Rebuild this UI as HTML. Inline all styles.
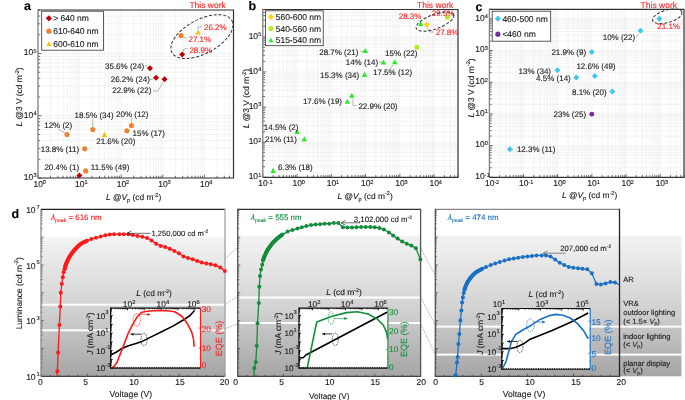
<!DOCTYPE html>
<html><head><meta charset="utf-8"><style>
html,body{margin:0;padding:0;background:#fff;width:685px;height:400px;overflow:hidden}
svg{display:block;will-change:transform}
text{font-family:"Liberation Sans",sans-serif;text-rendering:geometricPrecision;stroke-width:0.12px}
</style></head><body>
<svg width="685" height="400" viewBox="0 0 685 400">
<defs>
<linearGradient id="gg" x1="0" y1="0" x2="0" y2="1"><stop offset="0" stop-color="#f3f3f3"/><stop offset="0.5" stop-color="#d3d3d3"/><stop offset="1" stop-color="#a5a5a5"/></linearGradient>
</defs>
<rect x="41" y="237.5" width="184" height="138.8" fill="url(#gg)"/>
<rect x="41" y="303.7" width="184" height="2" fill="#fff"/>
<rect x="41" y="329.3" width="184" height="2" fill="#fff"/>
<rect x="237.7" y="235.7" width="182.9" height="140.6" fill="url(#gg)"/>
<rect x="237.7" y="296.5" width="182.9" height="2" fill="#fff"/>
<rect x="237.7" y="322" width="182.9" height="2" fill="#fff"/>
<rect x="435.3" y="235.7" width="246.2" height="140.6" fill="url(#gg)"/>
<rect x="435.3" y="325.6" width="246.2" height="2" fill="#fff"/>
<rect x="435.3" y="353.6" width="246.2" height="2" fill="#fff"/>
<line x1="225" y1="258.8" x2="237.7" y2="247.2" stroke="#777" stroke-width="0.6" stroke-dasharray="1.6 1.2"/>
<line x1="225" y1="304.5" x2="237.7" y2="296.3" stroke="#777" stroke-width="0.6" stroke-dasharray="1.6 1.2"/>
<line x1="225" y1="328.8" x2="237.7" y2="323.8" stroke="#777" stroke-width="0.6" stroke-dasharray="1.6 1.2"/>
<line x1="420.6" y1="248.1" x2="435.3" y2="275.1" stroke="#777" stroke-width="0.6" stroke-dasharray="1.6 1.2"/>
<line x1="420.6" y1="296.8" x2="435.3" y2="325.1" stroke="#777" stroke-width="0.6" stroke-dasharray="1.6 1.2"/>
<line x1="420.6" y1="323.8" x2="435.3" y2="354.3" stroke="#777" stroke-width="0.6" stroke-dasharray="1.6 1.2"/>
<line x1="38" y1="10" x2="38" y2="178" stroke="#ededed" stroke-width="0.6"/>
<line x1="50.52" y1="10" x2="50.52" y2="178" stroke="#ededed" stroke-width="0.6"/>
<line x1="57.85" y1="10" x2="57.85" y2="178" stroke="#ededed" stroke-width="0.6"/>
<line x1="63.05" y1="10" x2="63.05" y2="178" stroke="#ededed" stroke-width="0.6"/>
<line x1="67.08" y1="10" x2="67.08" y2="178" stroke="#ededed" stroke-width="0.6"/>
<line x1="70.37" y1="10" x2="70.37" y2="178" stroke="#ededed" stroke-width="0.6"/>
<line x1="73.16" y1="10" x2="73.16" y2="178" stroke="#ededed" stroke-width="0.6"/>
<line x1="75.57" y1="10" x2="75.57" y2="178" stroke="#ededed" stroke-width="0.6"/>
<line x1="77.7" y1="10" x2="77.7" y2="178" stroke="#ededed" stroke-width="0.6"/>
<line x1="79.6" y1="10" x2="79.6" y2="178" stroke="#ededed" stroke-width="0.6"/>
<line x1="92.13" y1="10" x2="92.13" y2="178" stroke="#ededed" stroke-width="0.6"/>
<line x1="99.46" y1="10" x2="99.46" y2="178" stroke="#ededed" stroke-width="0.6"/>
<line x1="104.65" y1="10" x2="104.65" y2="178" stroke="#ededed" stroke-width="0.6"/>
<line x1="108.69" y1="10" x2="108.69" y2="178" stroke="#ededed" stroke-width="0.6"/>
<line x1="111.98" y1="10" x2="111.98" y2="178" stroke="#ededed" stroke-width="0.6"/>
<line x1="114.77" y1="10" x2="114.77" y2="178" stroke="#ededed" stroke-width="0.6"/>
<line x1="117.18" y1="10" x2="117.18" y2="178" stroke="#ededed" stroke-width="0.6"/>
<line x1="119.31" y1="10" x2="119.31" y2="178" stroke="#ededed" stroke-width="0.6"/>
<line x1="121.21" y1="10" x2="121.21" y2="178" stroke="#ededed" stroke-width="0.6"/>
<line x1="133.73" y1="10" x2="133.73" y2="178" stroke="#ededed" stroke-width="0.6"/>
<line x1="141.06" y1="10" x2="141.06" y2="178" stroke="#ededed" stroke-width="0.6"/>
<line x1="146.26" y1="10" x2="146.26" y2="178" stroke="#ededed" stroke-width="0.6"/>
<line x1="150.29" y1="10" x2="150.29" y2="178" stroke="#ededed" stroke-width="0.6"/>
<line x1="153.58" y1="10" x2="153.58" y2="178" stroke="#ededed" stroke-width="0.6"/>
<line x1="156.37" y1="10" x2="156.37" y2="178" stroke="#ededed" stroke-width="0.6"/>
<line x1="158.78" y1="10" x2="158.78" y2="178" stroke="#ededed" stroke-width="0.6"/>
<line x1="160.91" y1="10" x2="160.91" y2="178" stroke="#ededed" stroke-width="0.6"/>
<line x1="162.81" y1="10" x2="162.81" y2="178" stroke="#ededed" stroke-width="0.6"/>
<line x1="175.34" y1="10" x2="175.34" y2="178" stroke="#ededed" stroke-width="0.6"/>
<line x1="182.67" y1="10" x2="182.67" y2="178" stroke="#ededed" stroke-width="0.6"/>
<line x1="187.86" y1="10" x2="187.86" y2="178" stroke="#ededed" stroke-width="0.6"/>
<line x1="191.9" y1="10" x2="191.9" y2="178" stroke="#ededed" stroke-width="0.6"/>
<line x1="195.19" y1="10" x2="195.19" y2="178" stroke="#ededed" stroke-width="0.6"/>
<line x1="197.97" y1="10" x2="197.97" y2="178" stroke="#ededed" stroke-width="0.6"/>
<line x1="200.39" y1="10" x2="200.39" y2="178" stroke="#ededed" stroke-width="0.6"/>
<line x1="202.52" y1="10" x2="202.52" y2="178" stroke="#ededed" stroke-width="0.6"/>
<line x1="204.42" y1="10" x2="204.42" y2="178" stroke="#ededed" stroke-width="0.6"/>
<line x1="216.94" y1="10" x2="216.94" y2="178" stroke="#ededed" stroke-width="0.6"/>
<line x1="224.27" y1="10" x2="224.27" y2="178" stroke="#ededed" stroke-width="0.6"/>
<line x1="229.47" y1="10" x2="229.47" y2="178" stroke="#ededed" stroke-width="0.6"/>
<line x1="233.5" y1="10" x2="233.5" y2="178" stroke="#ededed" stroke-width="0.6"/>
<line x1="38" y1="178" x2="233.5" y2="178" stroke="#ededed" stroke-width="0.6"/>
<line x1="38" y1="159.26" x2="233.5" y2="159.26" stroke="#ededed" stroke-width="0.6"/>
<line x1="38" y1="148.3" x2="233.5" y2="148.3" stroke="#ededed" stroke-width="0.6"/>
<line x1="38" y1="140.52" x2="233.5" y2="140.52" stroke="#ededed" stroke-width="0.6"/>
<line x1="38" y1="134.49" x2="233.5" y2="134.49" stroke="#ededed" stroke-width="0.6"/>
<line x1="38" y1="129.56" x2="233.5" y2="129.56" stroke="#ededed" stroke-width="0.6"/>
<line x1="38" y1="125.4" x2="233.5" y2="125.4" stroke="#ededed" stroke-width="0.6"/>
<line x1="38" y1="121.79" x2="233.5" y2="121.79" stroke="#ededed" stroke-width="0.6"/>
<line x1="38" y1="118.6" x2="233.5" y2="118.6" stroke="#ededed" stroke-width="0.6"/>
<line x1="38" y1="115.75" x2="233.5" y2="115.75" stroke="#ededed" stroke-width="0.6"/>
<line x1="38" y1="97.02" x2="233.5" y2="97.02" stroke="#ededed" stroke-width="0.6"/>
<line x1="38" y1="86.06" x2="233.5" y2="86.06" stroke="#ededed" stroke-width="0.6"/>
<line x1="38" y1="78.28" x2="233.5" y2="78.28" stroke="#ededed" stroke-width="0.6"/>
<line x1="38" y1="72.25" x2="233.5" y2="72.25" stroke="#ededed" stroke-width="0.6"/>
<line x1="38" y1="67.32" x2="233.5" y2="67.32" stroke="#ededed" stroke-width="0.6"/>
<line x1="38" y1="63.15" x2="233.5" y2="63.15" stroke="#ededed" stroke-width="0.6"/>
<line x1="38" y1="59.54" x2="233.5" y2="59.54" stroke="#ededed" stroke-width="0.6"/>
<line x1="38" y1="56.36" x2="233.5" y2="56.36" stroke="#ededed" stroke-width="0.6"/>
<line x1="38" y1="53.51" x2="233.5" y2="53.51" stroke="#ededed" stroke-width="0.6"/>
<line x1="38" y1="34.77" x2="233.5" y2="34.77" stroke="#ededed" stroke-width="0.6"/>
<line x1="38" y1="23.81" x2="233.5" y2="23.81" stroke="#ededed" stroke-width="0.6"/>
<line x1="38" y1="16.03" x2="233.5" y2="16.03" stroke="#ededed" stroke-width="0.6"/>
<line x1="38" y1="10" x2="233.5" y2="10" stroke="#ededed" stroke-width="0.6"/>
<line x1="38" y1="178" x2="38" y2="174.6" stroke="#333" stroke-width="0.7"/>
<line x1="50.52" y1="178" x2="50.52" y2="175.8" stroke="#333" stroke-width="0.7"/>
<line x1="57.85" y1="178" x2="57.85" y2="175.8" stroke="#333" stroke-width="0.7"/>
<line x1="63.05" y1="178" x2="63.05" y2="175.8" stroke="#333" stroke-width="0.7"/>
<line x1="67.08" y1="178" x2="67.08" y2="175.8" stroke="#333" stroke-width="0.7"/>
<line x1="70.37" y1="178" x2="70.37" y2="175.8" stroke="#333" stroke-width="0.7"/>
<line x1="73.16" y1="178" x2="73.16" y2="175.8" stroke="#333" stroke-width="0.7"/>
<line x1="75.57" y1="178" x2="75.57" y2="175.8" stroke="#333" stroke-width="0.7"/>
<line x1="77.7" y1="178" x2="77.7" y2="175.8" stroke="#333" stroke-width="0.7"/>
<line x1="79.6" y1="178" x2="79.6" y2="174.6" stroke="#333" stroke-width="0.7"/>
<line x1="92.13" y1="178" x2="92.13" y2="175.8" stroke="#333" stroke-width="0.7"/>
<line x1="99.46" y1="178" x2="99.46" y2="175.8" stroke="#333" stroke-width="0.7"/>
<line x1="104.65" y1="178" x2="104.65" y2="175.8" stroke="#333" stroke-width="0.7"/>
<line x1="108.69" y1="178" x2="108.69" y2="175.8" stroke="#333" stroke-width="0.7"/>
<line x1="111.98" y1="178" x2="111.98" y2="175.8" stroke="#333" stroke-width="0.7"/>
<line x1="114.77" y1="178" x2="114.77" y2="175.8" stroke="#333" stroke-width="0.7"/>
<line x1="117.18" y1="178" x2="117.18" y2="175.8" stroke="#333" stroke-width="0.7"/>
<line x1="119.31" y1="178" x2="119.31" y2="175.8" stroke="#333" stroke-width="0.7"/>
<line x1="121.21" y1="178" x2="121.21" y2="174.6" stroke="#333" stroke-width="0.7"/>
<line x1="133.73" y1="178" x2="133.73" y2="175.8" stroke="#333" stroke-width="0.7"/>
<line x1="141.06" y1="178" x2="141.06" y2="175.8" stroke="#333" stroke-width="0.7"/>
<line x1="146.26" y1="178" x2="146.26" y2="175.8" stroke="#333" stroke-width="0.7"/>
<line x1="150.29" y1="178" x2="150.29" y2="175.8" stroke="#333" stroke-width="0.7"/>
<line x1="153.58" y1="178" x2="153.58" y2="175.8" stroke="#333" stroke-width="0.7"/>
<line x1="156.37" y1="178" x2="156.37" y2="175.8" stroke="#333" stroke-width="0.7"/>
<line x1="158.78" y1="178" x2="158.78" y2="175.8" stroke="#333" stroke-width="0.7"/>
<line x1="160.91" y1="178" x2="160.91" y2="175.8" stroke="#333" stroke-width="0.7"/>
<line x1="162.81" y1="178" x2="162.81" y2="174.6" stroke="#333" stroke-width="0.7"/>
<line x1="175.34" y1="178" x2="175.34" y2="175.8" stroke="#333" stroke-width="0.7"/>
<line x1="182.67" y1="178" x2="182.67" y2="175.8" stroke="#333" stroke-width="0.7"/>
<line x1="187.86" y1="178" x2="187.86" y2="175.8" stroke="#333" stroke-width="0.7"/>
<line x1="191.9" y1="178" x2="191.9" y2="175.8" stroke="#333" stroke-width="0.7"/>
<line x1="195.19" y1="178" x2="195.19" y2="175.8" stroke="#333" stroke-width="0.7"/>
<line x1="197.97" y1="178" x2="197.97" y2="175.8" stroke="#333" stroke-width="0.7"/>
<line x1="200.39" y1="178" x2="200.39" y2="175.8" stroke="#333" stroke-width="0.7"/>
<line x1="202.52" y1="178" x2="202.52" y2="175.8" stroke="#333" stroke-width="0.7"/>
<line x1="204.42" y1="178" x2="204.42" y2="174.6" stroke="#333" stroke-width="0.7"/>
<line x1="216.94" y1="178" x2="216.94" y2="175.8" stroke="#333" stroke-width="0.7"/>
<line x1="224.27" y1="178" x2="224.27" y2="175.8" stroke="#333" stroke-width="0.7"/>
<line x1="229.47" y1="178" x2="229.47" y2="175.8" stroke="#333" stroke-width="0.7"/>
<line x1="233.5" y1="178" x2="233.5" y2="175.8" stroke="#333" stroke-width="0.7"/>
<line x1="38" y1="178" x2="41.4" y2="178" stroke="#333" stroke-width="0.7"/>
<line x1="38" y1="159.26" x2="40.2" y2="159.26" stroke="#333" stroke-width="0.7"/>
<line x1="38" y1="148.3" x2="40.2" y2="148.3" stroke="#333" stroke-width="0.7"/>
<line x1="38" y1="140.52" x2="40.2" y2="140.52" stroke="#333" stroke-width="0.7"/>
<line x1="38" y1="134.49" x2="40.2" y2="134.49" stroke="#333" stroke-width="0.7"/>
<line x1="38" y1="129.56" x2="40.2" y2="129.56" stroke="#333" stroke-width="0.7"/>
<line x1="38" y1="125.4" x2="40.2" y2="125.4" stroke="#333" stroke-width="0.7"/>
<line x1="38" y1="121.79" x2="40.2" y2="121.79" stroke="#333" stroke-width="0.7"/>
<line x1="38" y1="118.6" x2="40.2" y2="118.6" stroke="#333" stroke-width="0.7"/>
<line x1="38" y1="115.75" x2="41.4" y2="115.75" stroke="#333" stroke-width="0.7"/>
<line x1="38" y1="97.02" x2="40.2" y2="97.02" stroke="#333" stroke-width="0.7"/>
<line x1="38" y1="86.06" x2="40.2" y2="86.06" stroke="#333" stroke-width="0.7"/>
<line x1="38" y1="78.28" x2="40.2" y2="78.28" stroke="#333" stroke-width="0.7"/>
<line x1="38" y1="72.25" x2="40.2" y2="72.25" stroke="#333" stroke-width="0.7"/>
<line x1="38" y1="67.32" x2="40.2" y2="67.32" stroke="#333" stroke-width="0.7"/>
<line x1="38" y1="63.15" x2="40.2" y2="63.15" stroke="#333" stroke-width="0.7"/>
<line x1="38" y1="59.54" x2="40.2" y2="59.54" stroke="#333" stroke-width="0.7"/>
<line x1="38" y1="56.36" x2="40.2" y2="56.36" stroke="#333" stroke-width="0.7"/>
<line x1="38" y1="53.51" x2="41.4" y2="53.51" stroke="#333" stroke-width="0.7"/>
<line x1="38" y1="34.77" x2="40.2" y2="34.77" stroke="#333" stroke-width="0.7"/>
<line x1="38" y1="23.81" x2="40.2" y2="23.81" stroke="#333" stroke-width="0.7"/>
<line x1="38" y1="16.03" x2="40.2" y2="16.03" stroke="#333" stroke-width="0.7"/>
<line x1="38" y1="10" x2="40.2" y2="10" stroke="#333" stroke-width="0.7"/>
<path d="M38 178H233.5V10H38" fill="none" stroke="#333" stroke-width="1.2"/>
<line x1="38" y1="9.4" x2="38" y2="178.6" stroke="#808080" stroke-width="1.3"/>
<text x="38.25" y="186.8" font-size="8.5" text-anchor="middle" fill="#1a1a1a"  stroke="#1a1a1a">10</text>
<text x="42.8" y="184.3" font-size="5.6" text-anchor="start" fill="#1a1a1a"  stroke="#1a1a1a">0</text>
<text x="79.85" y="186.8" font-size="8.5" text-anchor="middle" fill="#1a1a1a"  stroke="#1a1a1a">10</text>
<text x="84.4" y="184.3" font-size="5.6" text-anchor="start" fill="#1a1a1a"  stroke="#1a1a1a">1</text>
<text x="121.46" y="186.8" font-size="8.5" text-anchor="middle" fill="#1a1a1a"  stroke="#1a1a1a">10</text>
<text x="126.01" y="184.3" font-size="5.6" text-anchor="start" fill="#1a1a1a"  stroke="#1a1a1a">2</text>
<text x="163.06" y="186.8" font-size="8.5" text-anchor="middle" fill="#1a1a1a"  stroke="#1a1a1a">10</text>
<text x="167.61" y="184.3" font-size="5.6" text-anchor="start" fill="#1a1a1a"  stroke="#1a1a1a">3</text>
<text x="204.67" y="186.8" font-size="8.5" text-anchor="middle" fill="#1a1a1a"  stroke="#1a1a1a">10</text>
<text x="209.22" y="184.3" font-size="5.6" text-anchor="start" fill="#1a1a1a"  stroke="#1a1a1a">4</text>
<text x="33.3" y="179.86" font-size="8.5" text-anchor="end" fill="#1a1a1a"  stroke="#1a1a1a">10</text>
<text x="33.4" y="177.4" font-size="5.6" text-anchor="start" fill="#1a1a1a"  stroke="#1a1a1a">3</text>
<text x="33.3" y="117.61" font-size="8.5" text-anchor="end" fill="#1a1a1a"  stroke="#1a1a1a">10</text>
<text x="33.4" y="115.15" font-size="5.6" text-anchor="start" fill="#1a1a1a"  stroke="#1a1a1a">4</text>
<text x="33.3" y="55.37" font-size="8.5" text-anchor="end" fill="#1a1a1a"  stroke="#1a1a1a">10</text>
<text x="33.4" y="52.91" font-size="5.6" text-anchor="start" fill="#1a1a1a"  stroke="#1a1a1a">5</text>
<text x="23.9" y="10.3" font-size="12.5" font-weight="bold" fill="#000" stroke="#000">a</text>
<text transform="translate(22.2,97) rotate(-90)" font-size="8.4" text-anchor="middle" fill="#1a1a1a" stroke="#1a1a1a"><tspan font-style="italic">L</tspan> @3 V (cd m<tspan font-size="5.6" dy="-3.2">-2</tspan><tspan dy="3.2">)</tspan></text>
<text x="105.9" y="199.9" font-size="8.4" fill="#1a1a1a" stroke="#1a1a1a"><tspan font-style="italic">L</tspan> @<tspan font-style="italic">V</tspan><tspan font-size="5.6" dy="1.9">p</tspan><tspan dy="-1.9"> (cd m</tspan><tspan font-size="5.6" dy="-3.2">-2</tspan><tspan dy="3.2">)</tspan></text>
<rect x="41.7" y="11.2" width="61.8" height="39" fill="#fff" stroke="#333" stroke-width="0.8"/>
<path d="M48.9 15.2L52 18.3L48.9 21.4L45.8 18.3Z" fill="#c00000"/>
<text x="53.2" y="21.36" font-size="8.5" text-anchor="start" fill="#1a1a1a"  stroke="#1a1a1a">&gt; 640 nm</text>
<circle cx="48.9" cy="31.2" r="2.6" fill="#f28030"/>
<text x="53.2" y="34.26" font-size="8.5" text-anchor="start" fill="#1a1a1a"  stroke="#1a1a1a">610-640 nm</text>
<path d="M48.9 41.27L51.37 45.95L46.43 45.95Z" fill="#ffc000"/>
<text x="53.2" y="46.86" font-size="8.5" text-anchor="start" fill="#1a1a1a"  stroke="#1a1a1a">600-610 nm</text>
<path d="M150 65.3L153 68.3L150 71.3L147 68.3Z" fill="#c00000"/>
<path d="M156 74.7L159 77.7L156 80.7L153 77.7Z" fill="#c00000"/>
<path d="M164.5 76.2L167.5 79.2L164.5 82.2L161.5 79.2Z" fill="#c00000"/>
<path d="M182.2 51.5L185.2 54.5L182.2 57.5L179.2 54.5Z" fill="#c00000"/>
<path d="M79.4 172.5L82.4 175.5L79.4 178.5L76.4 175.5Z" fill="#c00000"/>
<circle cx="67" cy="134.5" r="2.55" fill="#f28030"/>
<circle cx="92.8" cy="129.5" r="2.55" fill="#f28030"/>
<circle cx="84.7" cy="148.7" r="2.55" fill="#f28030"/>
<circle cx="131.4" cy="125.5" r="2.55" fill="#f28030"/>
<circle cx="126.8" cy="130.7" r="2.55" fill="#f28030"/>
<circle cx="85.7" cy="170.9" r="2.55" fill="#f28030"/>
<circle cx="181" cy="35.6" r="2.55" fill="#f28030"/>
<path d="M104.5 131.86L107.16 136.9L101.84 136.9Z" fill="#ffc000"/>
<path d="M198.1 29.56L200.76 34.6L195.44 34.6Z" fill="#ffc000"/>
<text x="105" y="68.58" font-size="8" text-anchor="start" fill="#1a1a1a"  stroke="#1a1a1a">35.6% (24)</text>
<path d="M145 65.5L149 66.5" fill="none" stroke="#888" stroke-width="0.6"/>
<text x="110.7" y="82.38" font-size="8" text-anchor="start" fill="#1a1a1a"  stroke="#1a1a1a">26.2% (24)</text>
<path d="M150 79.5L153 79" fill="none" stroke="#888" stroke-width="0.6"/>
<text x="112.2" y="93.38" font-size="8" text-anchor="start" fill="#1a1a1a"  stroke="#1a1a1a">22.9% (22)</text>
<path d="M153 91L158 91L163 82" fill="none" stroke="#888" stroke-width="0.6"/>
<text x="44.2" y="128.08" font-size="8" text-anchor="start" fill="#1a1a1a"  stroke="#1a1a1a">12% (2)</text>
<path d="M58 129L65 133" fill="none" stroke="#888" stroke-width="0.6"/>
<text x="74.5" y="117.88" font-size="8" text-anchor="start" fill="#1a1a1a"  stroke="#1a1a1a">18.5% (34)</text>
<path d="M92.8 119L92.8 127" fill="none" stroke="#888" stroke-width="0.6"/>
<text x="40.7" y="151.88" font-size="8" text-anchor="start" fill="#1a1a1a"  stroke="#1a1a1a">13.8% (11)</text>
<text x="116" y="116.88" font-size="8" text-anchor="start" fill="#1a1a1a"  stroke="#1a1a1a">20% (12)</text>
<path d="M132 118L131.5 123" fill="none" stroke="#888" stroke-width="0.6"/>
<text x="132.5" y="136.18" font-size="8" text-anchor="start" fill="#1a1a1a"  stroke="#1a1a1a">15% (17)</text>
<text x="96.2" y="143.68" font-size="8" text-anchor="start" fill="#1a1a1a"  stroke="#1a1a1a">21.6% (20)</text>
<text x="44.4" y="170.38" font-size="8" text-anchor="start" fill="#1a1a1a"  stroke="#1a1a1a">20.4% (1)</text>
<text x="90.8" y="170.08" font-size="8" text-anchor="start" fill="#1a1a1a"  stroke="#1a1a1a">11.5% (49)</text>
<text x="204" y="30.38" font-size="8" text-anchor="start" fill="#ff1f1f"  stroke="#ff1f1f">26.2%</text>
<path d="M198 29.5L198 27L202 26.5" fill="none" stroke="#888" stroke-width="0.6"/>
<text x="188.5" y="42.28" font-size="8" text-anchor="start" fill="#ff1f1f"  stroke="#ff1f1f">27.1%</text>
<path d="M183 37L187 38.5" fill="none" stroke="#888" stroke-width="0.6"/>
<text x="189.4" y="52.88" font-size="8" text-anchor="start" fill="#ff1f1f"  stroke="#ff1f1f">28.9%</text>
<path d="M183 52L184 49L188 48.5" fill="none" stroke="#888" stroke-width="0.6"/>
<ellipse cx="201.9" cy="36.6" rx="34" ry="17" transform="rotate(-28 201.9 36.6)" fill="none" stroke="#333" stroke-width="1.0" stroke-dasharray="3 1.8"/>
<text x="189.4" y="7.7" font-size="8.5" text-anchor="start" fill="#ff1f1f"  stroke="#ff1f1f">This work</text>
<line x1="262.8" y1="9.5" x2="262.8" y2="177.3" stroke="#ededed" stroke-width="0.6"/>
<line x1="273.11" y1="9.5" x2="273.11" y2="177.3" stroke="#ededed" stroke-width="0.6"/>
<line x1="279.14" y1="9.5" x2="279.14" y2="177.3" stroke="#ededed" stroke-width="0.6"/>
<line x1="283.42" y1="9.5" x2="283.42" y2="177.3" stroke="#ededed" stroke-width="0.6"/>
<line x1="286.74" y1="9.5" x2="286.74" y2="177.3" stroke="#ededed" stroke-width="0.6"/>
<line x1="289.45" y1="9.5" x2="289.45" y2="177.3" stroke="#ededed" stroke-width="0.6"/>
<line x1="291.75" y1="9.5" x2="291.75" y2="177.3" stroke="#ededed" stroke-width="0.6"/>
<line x1="293.73" y1="9.5" x2="293.73" y2="177.3" stroke="#ededed" stroke-width="0.6"/>
<line x1="295.48" y1="9.5" x2="295.48" y2="177.3" stroke="#ededed" stroke-width="0.6"/>
<line x1="297.05" y1="9.5" x2="297.05" y2="177.3" stroke="#ededed" stroke-width="0.6"/>
<line x1="307.36" y1="9.5" x2="307.36" y2="177.3" stroke="#ededed" stroke-width="0.6"/>
<line x1="313.39" y1="9.5" x2="313.39" y2="177.3" stroke="#ededed" stroke-width="0.6"/>
<line x1="317.67" y1="9.5" x2="317.67" y2="177.3" stroke="#ededed" stroke-width="0.6"/>
<line x1="320.99" y1="9.5" x2="320.99" y2="177.3" stroke="#ededed" stroke-width="0.6"/>
<line x1="323.7" y1="9.5" x2="323.7" y2="177.3" stroke="#ededed" stroke-width="0.6"/>
<line x1="326" y1="9.5" x2="326" y2="177.3" stroke="#ededed" stroke-width="0.6"/>
<line x1="327.98" y1="9.5" x2="327.98" y2="177.3" stroke="#ededed" stroke-width="0.6"/>
<line x1="329.74" y1="9.5" x2="329.74" y2="177.3" stroke="#ededed" stroke-width="0.6"/>
<line x1="331.3" y1="9.5" x2="331.3" y2="177.3" stroke="#ededed" stroke-width="0.6"/>
<line x1="341.61" y1="9.5" x2="341.61" y2="177.3" stroke="#ededed" stroke-width="0.6"/>
<line x1="347.65" y1="9.5" x2="347.65" y2="177.3" stroke="#ededed" stroke-width="0.6"/>
<line x1="351.93" y1="9.5" x2="351.93" y2="177.3" stroke="#ededed" stroke-width="0.6"/>
<line x1="355.24" y1="9.5" x2="355.24" y2="177.3" stroke="#ededed" stroke-width="0.6"/>
<line x1="357.96" y1="9.5" x2="357.96" y2="177.3" stroke="#ededed" stroke-width="0.6"/>
<line x1="360.25" y1="9.5" x2="360.25" y2="177.3" stroke="#ededed" stroke-width="0.6"/>
<line x1="362.24" y1="9.5" x2="362.24" y2="177.3" stroke="#ededed" stroke-width="0.6"/>
<line x1="363.99" y1="9.5" x2="363.99" y2="177.3" stroke="#ededed" stroke-width="0.6"/>
<line x1="365.56" y1="9.5" x2="365.56" y2="177.3" stroke="#ededed" stroke-width="0.6"/>
<line x1="375.87" y1="9.5" x2="375.87" y2="177.3" stroke="#ededed" stroke-width="0.6"/>
<line x1="381.9" y1="9.5" x2="381.9" y2="177.3" stroke="#ededed" stroke-width="0.6"/>
<line x1="386.18" y1="9.5" x2="386.18" y2="177.3" stroke="#ededed" stroke-width="0.6"/>
<line x1="389.5" y1="9.5" x2="389.5" y2="177.3" stroke="#ededed" stroke-width="0.6"/>
<line x1="392.21" y1="9.5" x2="392.21" y2="177.3" stroke="#ededed" stroke-width="0.6"/>
<line x1="394.5" y1="9.5" x2="394.5" y2="177.3" stroke="#ededed" stroke-width="0.6"/>
<line x1="396.49" y1="9.5" x2="396.49" y2="177.3" stroke="#ededed" stroke-width="0.6"/>
<line x1="398.24" y1="9.5" x2="398.24" y2="177.3" stroke="#ededed" stroke-width="0.6"/>
<line x1="399.81" y1="9.5" x2="399.81" y2="177.3" stroke="#ededed" stroke-width="0.6"/>
<line x1="410.12" y1="9.5" x2="410.12" y2="177.3" stroke="#ededed" stroke-width="0.6"/>
<line x1="416.15" y1="9.5" x2="416.15" y2="177.3" stroke="#ededed" stroke-width="0.6"/>
<line x1="420.43" y1="9.5" x2="420.43" y2="177.3" stroke="#ededed" stroke-width="0.6"/>
<line x1="423.75" y1="9.5" x2="423.75" y2="177.3" stroke="#ededed" stroke-width="0.6"/>
<line x1="426.46" y1="9.5" x2="426.46" y2="177.3" stroke="#ededed" stroke-width="0.6"/>
<line x1="428.75" y1="9.5" x2="428.75" y2="177.3" stroke="#ededed" stroke-width="0.6"/>
<line x1="430.74" y1="9.5" x2="430.74" y2="177.3" stroke="#ededed" stroke-width="0.6"/>
<line x1="432.49" y1="9.5" x2="432.49" y2="177.3" stroke="#ededed" stroke-width="0.6"/>
<line x1="434.06" y1="9.5" x2="434.06" y2="177.3" stroke="#ededed" stroke-width="0.6"/>
<line x1="444.37" y1="9.5" x2="444.37" y2="177.3" stroke="#ededed" stroke-width="0.6"/>
<line x1="450.4" y1="9.5" x2="450.4" y2="177.3" stroke="#ededed" stroke-width="0.6"/>
<line x1="454.68" y1="9.5" x2="454.68" y2="177.3" stroke="#ededed" stroke-width="0.6"/>
<line x1="458" y1="9.5" x2="458" y2="177.3" stroke="#ededed" stroke-width="0.6"/>
<line x1="262.8" y1="177.3" x2="458" y2="177.3" stroke="#ededed" stroke-width="0.6"/>
<line x1="262.8" y1="166.73" x2="458" y2="166.73" stroke="#ededed" stroke-width="0.6"/>
<line x1="262.8" y1="160.54" x2="458" y2="160.54" stroke="#ededed" stroke-width="0.6"/>
<line x1="262.8" y1="156.16" x2="458" y2="156.16" stroke="#ededed" stroke-width="0.6"/>
<line x1="262.8" y1="152.75" x2="458" y2="152.75" stroke="#ededed" stroke-width="0.6"/>
<line x1="262.8" y1="149.97" x2="458" y2="149.97" stroke="#ededed" stroke-width="0.6"/>
<line x1="262.8" y1="147.62" x2="458" y2="147.62" stroke="#ededed" stroke-width="0.6"/>
<line x1="262.8" y1="145.59" x2="458" y2="145.59" stroke="#ededed" stroke-width="0.6"/>
<line x1="262.8" y1="143.79" x2="458" y2="143.79" stroke="#ededed" stroke-width="0.6"/>
<line x1="262.8" y1="142.18" x2="458" y2="142.18" stroke="#ededed" stroke-width="0.6"/>
<line x1="262.8" y1="131.61" x2="458" y2="131.61" stroke="#ededed" stroke-width="0.6"/>
<line x1="262.8" y1="125.43" x2="458" y2="125.43" stroke="#ededed" stroke-width="0.6"/>
<line x1="262.8" y1="121.04" x2="458" y2="121.04" stroke="#ededed" stroke-width="0.6"/>
<line x1="262.8" y1="117.64" x2="458" y2="117.64" stroke="#ededed" stroke-width="0.6"/>
<line x1="262.8" y1="114.85" x2="458" y2="114.85" stroke="#ededed" stroke-width="0.6"/>
<line x1="262.8" y1="112.5" x2="458" y2="112.5" stroke="#ededed" stroke-width="0.6"/>
<line x1="262.8" y1="110.47" x2="458" y2="110.47" stroke="#ededed" stroke-width="0.6"/>
<line x1="262.8" y1="108.67" x2="458" y2="108.67" stroke="#ededed" stroke-width="0.6"/>
<line x1="262.8" y1="107.06" x2="458" y2="107.06" stroke="#ededed" stroke-width="0.6"/>
<line x1="262.8" y1="96.49" x2="458" y2="96.49" stroke="#ededed" stroke-width="0.6"/>
<line x1="262.8" y1="90.31" x2="458" y2="90.31" stroke="#ededed" stroke-width="0.6"/>
<line x1="262.8" y1="85.92" x2="458" y2="85.92" stroke="#ededed" stroke-width="0.6"/>
<line x1="262.8" y1="82.52" x2="458" y2="82.52" stroke="#ededed" stroke-width="0.6"/>
<line x1="262.8" y1="79.74" x2="458" y2="79.74" stroke="#ededed" stroke-width="0.6"/>
<line x1="262.8" y1="77.39" x2="458" y2="77.39" stroke="#ededed" stroke-width="0.6"/>
<line x1="262.8" y1="75.35" x2="458" y2="75.35" stroke="#ededed" stroke-width="0.6"/>
<line x1="262.8" y1="73.55" x2="458" y2="73.55" stroke="#ededed" stroke-width="0.6"/>
<line x1="262.8" y1="71.95" x2="458" y2="71.95" stroke="#ededed" stroke-width="0.6"/>
<line x1="262.8" y1="61.37" x2="458" y2="61.37" stroke="#ededed" stroke-width="0.6"/>
<line x1="262.8" y1="55.19" x2="458" y2="55.19" stroke="#ededed" stroke-width="0.6"/>
<line x1="262.8" y1="50.8" x2="458" y2="50.8" stroke="#ededed" stroke-width="0.6"/>
<line x1="262.8" y1="47.4" x2="458" y2="47.4" stroke="#ededed" stroke-width="0.6"/>
<line x1="262.8" y1="44.62" x2="458" y2="44.62" stroke="#ededed" stroke-width="0.6"/>
<line x1="262.8" y1="42.27" x2="458" y2="42.27" stroke="#ededed" stroke-width="0.6"/>
<line x1="262.8" y1="40.23" x2="458" y2="40.23" stroke="#ededed" stroke-width="0.6"/>
<line x1="262.8" y1="38.43" x2="458" y2="38.43" stroke="#ededed" stroke-width="0.6"/>
<line x1="262.8" y1="36.83" x2="458" y2="36.83" stroke="#ededed" stroke-width="0.6"/>
<line x1="262.8" y1="26.26" x2="458" y2="26.26" stroke="#ededed" stroke-width="0.6"/>
<line x1="262.8" y1="20.07" x2="458" y2="20.07" stroke="#ededed" stroke-width="0.6"/>
<line x1="262.8" y1="15.68" x2="458" y2="15.68" stroke="#ededed" stroke-width="0.6"/>
<line x1="262.8" y1="12.28" x2="458" y2="12.28" stroke="#ededed" stroke-width="0.6"/>
<line x1="262.8" y1="9.5" x2="458" y2="9.5" stroke="#ededed" stroke-width="0.6"/>
<line x1="262.8" y1="177.3" x2="262.8" y2="173.9" stroke="#333" stroke-width="0.7"/>
<line x1="273.11" y1="177.3" x2="273.11" y2="175.1" stroke="#333" stroke-width="0.7"/>
<line x1="279.14" y1="177.3" x2="279.14" y2="175.1" stroke="#333" stroke-width="0.7"/>
<line x1="283.42" y1="177.3" x2="283.42" y2="175.1" stroke="#333" stroke-width="0.7"/>
<line x1="286.74" y1="177.3" x2="286.74" y2="175.1" stroke="#333" stroke-width="0.7"/>
<line x1="289.45" y1="177.3" x2="289.45" y2="175.1" stroke="#333" stroke-width="0.7"/>
<line x1="291.75" y1="177.3" x2="291.75" y2="175.1" stroke="#333" stroke-width="0.7"/>
<line x1="293.73" y1="177.3" x2="293.73" y2="175.1" stroke="#333" stroke-width="0.7"/>
<line x1="295.48" y1="177.3" x2="295.48" y2="175.1" stroke="#333" stroke-width="0.7"/>
<line x1="297.05" y1="177.3" x2="297.05" y2="173.9" stroke="#333" stroke-width="0.7"/>
<line x1="307.36" y1="177.3" x2="307.36" y2="175.1" stroke="#333" stroke-width="0.7"/>
<line x1="313.39" y1="177.3" x2="313.39" y2="175.1" stroke="#333" stroke-width="0.7"/>
<line x1="317.67" y1="177.3" x2="317.67" y2="175.1" stroke="#333" stroke-width="0.7"/>
<line x1="320.99" y1="177.3" x2="320.99" y2="175.1" stroke="#333" stroke-width="0.7"/>
<line x1="323.7" y1="177.3" x2="323.7" y2="175.1" stroke="#333" stroke-width="0.7"/>
<line x1="326" y1="177.3" x2="326" y2="175.1" stroke="#333" stroke-width="0.7"/>
<line x1="327.98" y1="177.3" x2="327.98" y2="175.1" stroke="#333" stroke-width="0.7"/>
<line x1="329.74" y1="177.3" x2="329.74" y2="175.1" stroke="#333" stroke-width="0.7"/>
<line x1="331.3" y1="177.3" x2="331.3" y2="173.9" stroke="#333" stroke-width="0.7"/>
<line x1="341.61" y1="177.3" x2="341.61" y2="175.1" stroke="#333" stroke-width="0.7"/>
<line x1="347.65" y1="177.3" x2="347.65" y2="175.1" stroke="#333" stroke-width="0.7"/>
<line x1="351.93" y1="177.3" x2="351.93" y2="175.1" stroke="#333" stroke-width="0.7"/>
<line x1="355.24" y1="177.3" x2="355.24" y2="175.1" stroke="#333" stroke-width="0.7"/>
<line x1="357.96" y1="177.3" x2="357.96" y2="175.1" stroke="#333" stroke-width="0.7"/>
<line x1="360.25" y1="177.3" x2="360.25" y2="175.1" stroke="#333" stroke-width="0.7"/>
<line x1="362.24" y1="177.3" x2="362.24" y2="175.1" stroke="#333" stroke-width="0.7"/>
<line x1="363.99" y1="177.3" x2="363.99" y2="175.1" stroke="#333" stroke-width="0.7"/>
<line x1="365.56" y1="177.3" x2="365.56" y2="173.9" stroke="#333" stroke-width="0.7"/>
<line x1="375.87" y1="177.3" x2="375.87" y2="175.1" stroke="#333" stroke-width="0.7"/>
<line x1="381.9" y1="177.3" x2="381.9" y2="175.1" stroke="#333" stroke-width="0.7"/>
<line x1="386.18" y1="177.3" x2="386.18" y2="175.1" stroke="#333" stroke-width="0.7"/>
<line x1="389.5" y1="177.3" x2="389.5" y2="175.1" stroke="#333" stroke-width="0.7"/>
<line x1="392.21" y1="177.3" x2="392.21" y2="175.1" stroke="#333" stroke-width="0.7"/>
<line x1="394.5" y1="177.3" x2="394.5" y2="175.1" stroke="#333" stroke-width="0.7"/>
<line x1="396.49" y1="177.3" x2="396.49" y2="175.1" stroke="#333" stroke-width="0.7"/>
<line x1="398.24" y1="177.3" x2="398.24" y2="175.1" stroke="#333" stroke-width="0.7"/>
<line x1="399.81" y1="177.3" x2="399.81" y2="173.9" stroke="#333" stroke-width="0.7"/>
<line x1="410.12" y1="177.3" x2="410.12" y2="175.1" stroke="#333" stroke-width="0.7"/>
<line x1="416.15" y1="177.3" x2="416.15" y2="175.1" stroke="#333" stroke-width="0.7"/>
<line x1="420.43" y1="177.3" x2="420.43" y2="175.1" stroke="#333" stroke-width="0.7"/>
<line x1="423.75" y1="177.3" x2="423.75" y2="175.1" stroke="#333" stroke-width="0.7"/>
<line x1="426.46" y1="177.3" x2="426.46" y2="175.1" stroke="#333" stroke-width="0.7"/>
<line x1="428.75" y1="177.3" x2="428.75" y2="175.1" stroke="#333" stroke-width="0.7"/>
<line x1="430.74" y1="177.3" x2="430.74" y2="175.1" stroke="#333" stroke-width="0.7"/>
<line x1="432.49" y1="177.3" x2="432.49" y2="175.1" stroke="#333" stroke-width="0.7"/>
<line x1="434.06" y1="177.3" x2="434.06" y2="173.9" stroke="#333" stroke-width="0.7"/>
<line x1="444.37" y1="177.3" x2="444.37" y2="175.1" stroke="#333" stroke-width="0.7"/>
<line x1="450.4" y1="177.3" x2="450.4" y2="175.1" stroke="#333" stroke-width="0.7"/>
<line x1="454.68" y1="177.3" x2="454.68" y2="175.1" stroke="#333" stroke-width="0.7"/>
<line x1="458" y1="177.3" x2="458" y2="175.1" stroke="#333" stroke-width="0.7"/>
<line x1="262.8" y1="177.3" x2="266.2" y2="177.3" stroke="#333" stroke-width="0.7"/>
<line x1="262.8" y1="166.73" x2="265" y2="166.73" stroke="#333" stroke-width="0.7"/>
<line x1="262.8" y1="160.54" x2="265" y2="160.54" stroke="#333" stroke-width="0.7"/>
<line x1="262.8" y1="156.16" x2="265" y2="156.16" stroke="#333" stroke-width="0.7"/>
<line x1="262.8" y1="152.75" x2="265" y2="152.75" stroke="#333" stroke-width="0.7"/>
<line x1="262.8" y1="149.97" x2="265" y2="149.97" stroke="#333" stroke-width="0.7"/>
<line x1="262.8" y1="147.62" x2="265" y2="147.62" stroke="#333" stroke-width="0.7"/>
<line x1="262.8" y1="145.59" x2="265" y2="145.59" stroke="#333" stroke-width="0.7"/>
<line x1="262.8" y1="143.79" x2="265" y2="143.79" stroke="#333" stroke-width="0.7"/>
<line x1="262.8" y1="142.18" x2="266.2" y2="142.18" stroke="#333" stroke-width="0.7"/>
<line x1="262.8" y1="131.61" x2="265" y2="131.61" stroke="#333" stroke-width="0.7"/>
<line x1="262.8" y1="125.43" x2="265" y2="125.43" stroke="#333" stroke-width="0.7"/>
<line x1="262.8" y1="121.04" x2="265" y2="121.04" stroke="#333" stroke-width="0.7"/>
<line x1="262.8" y1="117.64" x2="265" y2="117.64" stroke="#333" stroke-width="0.7"/>
<line x1="262.8" y1="114.85" x2="265" y2="114.85" stroke="#333" stroke-width="0.7"/>
<line x1="262.8" y1="112.5" x2="265" y2="112.5" stroke="#333" stroke-width="0.7"/>
<line x1="262.8" y1="110.47" x2="265" y2="110.47" stroke="#333" stroke-width="0.7"/>
<line x1="262.8" y1="108.67" x2="265" y2="108.67" stroke="#333" stroke-width="0.7"/>
<line x1="262.8" y1="107.06" x2="266.2" y2="107.06" stroke="#333" stroke-width="0.7"/>
<line x1="262.8" y1="96.49" x2="265" y2="96.49" stroke="#333" stroke-width="0.7"/>
<line x1="262.8" y1="90.31" x2="265" y2="90.31" stroke="#333" stroke-width="0.7"/>
<line x1="262.8" y1="85.92" x2="265" y2="85.92" stroke="#333" stroke-width="0.7"/>
<line x1="262.8" y1="82.52" x2="265" y2="82.52" stroke="#333" stroke-width="0.7"/>
<line x1="262.8" y1="79.74" x2="265" y2="79.74" stroke="#333" stroke-width="0.7"/>
<line x1="262.8" y1="77.39" x2="265" y2="77.39" stroke="#333" stroke-width="0.7"/>
<line x1="262.8" y1="75.35" x2="265" y2="75.35" stroke="#333" stroke-width="0.7"/>
<line x1="262.8" y1="73.55" x2="265" y2="73.55" stroke="#333" stroke-width="0.7"/>
<line x1="262.8" y1="71.95" x2="266.2" y2="71.95" stroke="#333" stroke-width="0.7"/>
<line x1="262.8" y1="61.37" x2="265" y2="61.37" stroke="#333" stroke-width="0.7"/>
<line x1="262.8" y1="55.19" x2="265" y2="55.19" stroke="#333" stroke-width="0.7"/>
<line x1="262.8" y1="50.8" x2="265" y2="50.8" stroke="#333" stroke-width="0.7"/>
<line x1="262.8" y1="47.4" x2="265" y2="47.4" stroke="#333" stroke-width="0.7"/>
<line x1="262.8" y1="44.62" x2="265" y2="44.62" stroke="#333" stroke-width="0.7"/>
<line x1="262.8" y1="42.27" x2="265" y2="42.27" stroke="#333" stroke-width="0.7"/>
<line x1="262.8" y1="40.23" x2="265" y2="40.23" stroke="#333" stroke-width="0.7"/>
<line x1="262.8" y1="38.43" x2="265" y2="38.43" stroke="#333" stroke-width="0.7"/>
<line x1="262.8" y1="36.83" x2="266.2" y2="36.83" stroke="#333" stroke-width="0.7"/>
<line x1="262.8" y1="26.26" x2="265" y2="26.26" stroke="#333" stroke-width="0.7"/>
<line x1="262.8" y1="20.07" x2="265" y2="20.07" stroke="#333" stroke-width="0.7"/>
<line x1="262.8" y1="15.68" x2="265" y2="15.68" stroke="#333" stroke-width="0.7"/>
<line x1="262.8" y1="12.28" x2="265" y2="12.28" stroke="#333" stroke-width="0.7"/>
<line x1="262.8" y1="9.5" x2="265" y2="9.5" stroke="#333" stroke-width="0.7"/>
<path d="M262.8 177.3H458V9.5H262.8" fill="none" stroke="#333" stroke-width="1.2"/>
<line x1="262.8" y1="8.9" x2="262.8" y2="177.9" stroke="#808080" stroke-width="1.3"/>
<text x="263.05" y="186.1" font-size="8.5" text-anchor="middle" fill="#1a1a1a"  stroke="#1a1a1a">10</text>
<text x="267.6" y="183.6" font-size="5.6" text-anchor="start" fill="#1a1a1a"  stroke="#1a1a1a">-1</text>
<text x="297.3" y="186.1" font-size="8.5" text-anchor="middle" fill="#1a1a1a"  stroke="#1a1a1a">10</text>
<text x="301.85" y="183.6" font-size="5.6" text-anchor="start" fill="#1a1a1a"  stroke="#1a1a1a">0</text>
<text x="331.55" y="186.1" font-size="8.5" text-anchor="middle" fill="#1a1a1a"  stroke="#1a1a1a">10</text>
<text x="336.1" y="183.6" font-size="5.6" text-anchor="start" fill="#1a1a1a"  stroke="#1a1a1a">1</text>
<text x="365.81" y="186.1" font-size="8.5" text-anchor="middle" fill="#1a1a1a"  stroke="#1a1a1a">10</text>
<text x="370.36" y="183.6" font-size="5.6" text-anchor="start" fill="#1a1a1a"  stroke="#1a1a1a">2</text>
<text x="400.06" y="186.1" font-size="8.5" text-anchor="middle" fill="#1a1a1a"  stroke="#1a1a1a">10</text>
<text x="404.61" y="183.6" font-size="5.6" text-anchor="start" fill="#1a1a1a"  stroke="#1a1a1a">3</text>
<text x="434.31" y="186.1" font-size="8.5" text-anchor="middle" fill="#1a1a1a"  stroke="#1a1a1a">10</text>
<text x="438.86" y="183.6" font-size="5.6" text-anchor="start" fill="#1a1a1a"  stroke="#1a1a1a">4</text>
<text x="258.1" y="179.16" font-size="8.5" text-anchor="end" fill="#1a1a1a"  stroke="#1a1a1a">10</text>
<text x="258.2" y="176.7" font-size="5.6" text-anchor="start" fill="#1a1a1a"  stroke="#1a1a1a">1</text>
<text x="258.1" y="144.04" font-size="8.5" text-anchor="end" fill="#1a1a1a"  stroke="#1a1a1a">10</text>
<text x="258.2" y="141.58" font-size="5.6" text-anchor="start" fill="#1a1a1a"  stroke="#1a1a1a">2</text>
<text x="258.1" y="108.92" font-size="8.5" text-anchor="end" fill="#1a1a1a"  stroke="#1a1a1a">10</text>
<text x="258.2" y="106.46" font-size="5.6" text-anchor="start" fill="#1a1a1a"  stroke="#1a1a1a">3</text>
<text x="258.1" y="73.81" font-size="8.5" text-anchor="end" fill="#1a1a1a"  stroke="#1a1a1a">10</text>
<text x="258.2" y="71.35" font-size="5.6" text-anchor="start" fill="#1a1a1a"  stroke="#1a1a1a">4</text>
<text x="258.1" y="38.69" font-size="8.5" text-anchor="end" fill="#1a1a1a"  stroke="#1a1a1a">10</text>
<text x="258.2" y="36.23" font-size="5.6" text-anchor="start" fill="#1a1a1a"  stroke="#1a1a1a">5</text>
<text x="248.6" y="10.3" font-size="12.5" font-weight="bold" fill="#000" stroke="#000">b</text>
<text transform="translate(248.8,98.6) rotate(-90)" font-size="8.4" text-anchor="middle" fill="#1a1a1a" stroke="#1a1a1a"><tspan font-style="italic">L</tspan> @3 V (cd m<tspan font-size="5.6" dy="-3.2">-2</tspan><tspan dy="3.2">)</tspan></text>
<text x="337.5" y="198.6" font-size="8.4" fill="#1a1a1a" stroke="#1a1a1a"><tspan font-style="italic">L</tspan> @<tspan font-style="italic">V</tspan><tspan font-size="5.6" dy="1.9">p</tspan><tspan dy="-1.9"> (cd m</tspan><tspan font-size="5.6" dy="-3.2">-2</tspan><tspan dy="3.2">)</tspan></text>
<rect x="265.5" y="10.8" width="57.7" height="34.9" fill="#fff" stroke="#333" stroke-width="0.8"/>
<path d="M270.9 13.7L274 16.8L270.9 19.9L267.8 16.8Z" fill="#ffd21f"/>
<text x="275.7" y="19.86" font-size="8.5" text-anchor="start" fill="#1a1a1a"  stroke="#1a1a1a">560-600 nm</text>
<circle cx="270.9" cy="28.5" r="2.6" fill="#b4ee20"/>
<text x="275.7" y="31.56" font-size="8.5" text-anchor="start" fill="#1a1a1a"  stroke="#1a1a1a">540-560 nm</text>
<path d="M270.9 37.67L273.37 42.35L268.43 42.35Z" fill="#22ee22"/>
<text x="275.7" y="43.26" font-size="8.5" text-anchor="start" fill="#1a1a1a"  stroke="#1a1a1a">515-540 nm</text>
<path d="M426.7 21.4L429.7 24.4L426.7 27.4L423.7 24.4Z" fill="#ffd21f"/>
<circle cx="447.5" cy="17" r="2.55" fill="#b4ee20"/>
<circle cx="416.8" cy="47.2" r="2.55" fill="#b4ee20"/>
<path d="M420.7 21.06L423.36 26.1L418.04 26.1Z" fill="#22ee22"/>
<path d="M365.2 48.06L367.86 53.1L362.54 53.1Z" fill="#22ee22"/>
<path d="M383.5 59.56L386.16 64.6L380.84 64.6Z" fill="#22ee22"/>
<path d="M394.7 59.26L397.36 64.3L392.04 64.3Z" fill="#22ee22"/>
<path d="M364.5 71.86L367.16 76.9L361.84 76.9Z" fill="#22ee22"/>
<path d="M351.8 92.66L354.46 97.7L349.14 97.7Z" fill="#22ee22"/>
<path d="M347.4 98.66L350.06 103.7L344.74 103.7Z" fill="#22ee22"/>
<path d="M297 129.06L299.66 134.1L294.34 134.1Z" fill="#22ee22"/>
<path d="M304.3 136.36L306.96 141.4L301.64 141.4Z" fill="#22ee22"/>
<path d="M273 167.86L275.66 172.9L270.34 172.9Z" fill="#22ee22"/>
<text x="319.2" y="54.58" font-size="8" text-anchor="start" fill="#1a1a1a"  stroke="#1a1a1a">28.7% (21)</text>
<path d="M360 51.2L364 51.2" fill="none" stroke="#888" stroke-width="0.6"/>
<text x="345.7" y="65.38" font-size="8" text-anchor="start" fill="#1a1a1a"  stroke="#1a1a1a">14% (14)</text>
<path d="M379.2 62.3L382.5 62.3" fill="none" stroke="#888" stroke-width="0.6"/>
<text x="385" y="55.58" font-size="8" text-anchor="start" fill="#1a1a1a"  stroke="#1a1a1a">15% (22)</text>
<text x="373" y="74.68" font-size="8" text-anchor="start" fill="#1a1a1a"  stroke="#1a1a1a">17.5% (12)</text>
<path d="M393 65L390 69" fill="none" stroke="#888" stroke-width="0.6"/>
<text x="320" y="77.88" font-size="8" text-anchor="start" fill="#1a1a1a"  stroke="#1a1a1a">15.3% (34)</text>
<text x="302.9" y="104.48" font-size="8" text-anchor="start" fill="#1a1a1a"  stroke="#1a1a1a">17.6% (19)</text>
<text x="358.4" y="109.18" font-size="8" text-anchor="start" fill="#1a1a1a"  stroke="#1a1a1a">22.9% (20)</text>
<path d="M353 98.5L353 105.5L356.5 105.5" fill="none" stroke="#888" stroke-width="0.6"/>
<text x="263.8" y="129.88" font-size="8" text-anchor="start" fill="#1a1a1a"  stroke="#1a1a1a">14.5% (2)</text>
<text x="265" y="142.38" font-size="8" text-anchor="start" fill="#1a1a1a"  stroke="#1a1a1a">21% (11)</text>
<text x="278" y="169.88" font-size="8" text-anchor="start" fill="#1a1a1a"  stroke="#1a1a1a">6.3% (18)</text>
<text x="431.7" y="15.58" font-size="8" text-anchor="start" fill="#ff1f1f"  stroke="#ff1f1f">29.5%</text>
<text x="398.7" y="19.08" font-size="8" text-anchor="start" fill="#ff1f1f"  stroke="#ff1f1f">28.3%</text>
<text x="435.7" y="35.08" font-size="8" text-anchor="start" fill="#ff1f1f"  stroke="#ff1f1f">27.8%</text>
<path d="M427 27L430 32L434 32" fill="none" stroke="#888" stroke-width="0.6"/>
<ellipse cx="435" cy="21.6" rx="20" ry="7.2" transform="rotate(-20 435 21.6)" fill="none" stroke="#333" stroke-width="1.0" stroke-dasharray="3 1.8"/>
<text x="417" y="7.9" font-size="8.5" text-anchor="start" fill="#ff1f1f"  stroke="#ff1f1f">This work</text>
<line x1="489.4" y1="9.3" x2="489.4" y2="177.3" stroke="#ededed" stroke-width="0.6"/>
<line x1="499.68" y1="9.3" x2="499.68" y2="177.3" stroke="#ededed" stroke-width="0.6"/>
<line x1="505.69" y1="9.3" x2="505.69" y2="177.3" stroke="#ededed" stroke-width="0.6"/>
<line x1="509.96" y1="9.3" x2="509.96" y2="177.3" stroke="#ededed" stroke-width="0.6"/>
<line x1="513.27" y1="9.3" x2="513.27" y2="177.3" stroke="#ededed" stroke-width="0.6"/>
<line x1="515.97" y1="9.3" x2="515.97" y2="177.3" stroke="#ededed" stroke-width="0.6"/>
<line x1="518.26" y1="9.3" x2="518.26" y2="177.3" stroke="#ededed" stroke-width="0.6"/>
<line x1="520.24" y1="9.3" x2="520.24" y2="177.3" stroke="#ededed" stroke-width="0.6"/>
<line x1="521.98" y1="9.3" x2="521.98" y2="177.3" stroke="#ededed" stroke-width="0.6"/>
<line x1="523.55" y1="9.3" x2="523.55" y2="177.3" stroke="#ededed" stroke-width="0.6"/>
<line x1="533.83" y1="9.3" x2="533.83" y2="177.3" stroke="#ededed" stroke-width="0.6"/>
<line x1="539.84" y1="9.3" x2="539.84" y2="177.3" stroke="#ededed" stroke-width="0.6"/>
<line x1="544.1" y1="9.3" x2="544.1" y2="177.3" stroke="#ededed" stroke-width="0.6"/>
<line x1="547.41" y1="9.3" x2="547.41" y2="177.3" stroke="#ededed" stroke-width="0.6"/>
<line x1="550.12" y1="9.3" x2="550.12" y2="177.3" stroke="#ededed" stroke-width="0.6"/>
<line x1="552.4" y1="9.3" x2="552.4" y2="177.3" stroke="#ededed" stroke-width="0.6"/>
<line x1="554.38" y1="9.3" x2="554.38" y2="177.3" stroke="#ededed" stroke-width="0.6"/>
<line x1="556.13" y1="9.3" x2="556.13" y2="177.3" stroke="#ededed" stroke-width="0.6"/>
<line x1="557.69" y1="9.3" x2="557.69" y2="177.3" stroke="#ededed" stroke-width="0.6"/>
<line x1="567.97" y1="9.3" x2="567.97" y2="177.3" stroke="#ededed" stroke-width="0.6"/>
<line x1="573.99" y1="9.3" x2="573.99" y2="177.3" stroke="#ededed" stroke-width="0.6"/>
<line x1="578.25" y1="9.3" x2="578.25" y2="177.3" stroke="#ededed" stroke-width="0.6"/>
<line x1="581.56" y1="9.3" x2="581.56" y2="177.3" stroke="#ededed" stroke-width="0.6"/>
<line x1="584.26" y1="9.3" x2="584.26" y2="177.3" stroke="#ededed" stroke-width="0.6"/>
<line x1="586.55" y1="9.3" x2="586.55" y2="177.3" stroke="#ededed" stroke-width="0.6"/>
<line x1="588.53" y1="9.3" x2="588.53" y2="177.3" stroke="#ededed" stroke-width="0.6"/>
<line x1="590.28" y1="9.3" x2="590.28" y2="177.3" stroke="#ededed" stroke-width="0.6"/>
<line x1="591.84" y1="9.3" x2="591.84" y2="177.3" stroke="#ededed" stroke-width="0.6"/>
<line x1="602.12" y1="9.3" x2="602.12" y2="177.3" stroke="#ededed" stroke-width="0.6"/>
<line x1="608.13" y1="9.3" x2="608.13" y2="177.3" stroke="#ededed" stroke-width="0.6"/>
<line x1="612.4" y1="9.3" x2="612.4" y2="177.3" stroke="#ededed" stroke-width="0.6"/>
<line x1="615.71" y1="9.3" x2="615.71" y2="177.3" stroke="#ededed" stroke-width="0.6"/>
<line x1="618.41" y1="9.3" x2="618.41" y2="177.3" stroke="#ededed" stroke-width="0.6"/>
<line x1="620.7" y1="9.3" x2="620.7" y2="177.3" stroke="#ededed" stroke-width="0.6"/>
<line x1="622.68" y1="9.3" x2="622.68" y2="177.3" stroke="#ededed" stroke-width="0.6"/>
<line x1="624.42" y1="9.3" x2="624.42" y2="177.3" stroke="#ededed" stroke-width="0.6"/>
<line x1="625.99" y1="9.3" x2="625.99" y2="177.3" stroke="#ededed" stroke-width="0.6"/>
<line x1="636.27" y1="9.3" x2="636.27" y2="177.3" stroke="#ededed" stroke-width="0.6"/>
<line x1="642.28" y1="9.3" x2="642.28" y2="177.3" stroke="#ededed" stroke-width="0.6"/>
<line x1="646.54" y1="9.3" x2="646.54" y2="177.3" stroke="#ededed" stroke-width="0.6"/>
<line x1="649.85" y1="9.3" x2="649.85" y2="177.3" stroke="#ededed" stroke-width="0.6"/>
<line x1="652.56" y1="9.3" x2="652.56" y2="177.3" stroke="#ededed" stroke-width="0.6"/>
<line x1="654.84" y1="9.3" x2="654.84" y2="177.3" stroke="#ededed" stroke-width="0.6"/>
<line x1="656.82" y1="9.3" x2="656.82" y2="177.3" stroke="#ededed" stroke-width="0.6"/>
<line x1="658.57" y1="9.3" x2="658.57" y2="177.3" stroke="#ededed" stroke-width="0.6"/>
<line x1="660.13" y1="9.3" x2="660.13" y2="177.3" stroke="#ededed" stroke-width="0.6"/>
<line x1="670.41" y1="9.3" x2="670.41" y2="177.3" stroke="#ededed" stroke-width="0.6"/>
<line x1="676.42" y1="9.3" x2="676.42" y2="177.3" stroke="#ededed" stroke-width="0.6"/>
<line x1="680.69" y1="9.3" x2="680.69" y2="177.3" stroke="#ededed" stroke-width="0.6"/>
<line x1="684" y1="9.3" x2="684" y2="177.3" stroke="#ededed" stroke-width="0.6"/>
<line x1="489.4" y1="177.3" x2="684" y2="177.3" stroke="#ededed" stroke-width="0.6"/>
<line x1="489.4" y1="167.76" x2="684" y2="167.76" stroke="#ededed" stroke-width="0.6"/>
<line x1="489.4" y1="162.18" x2="684" y2="162.18" stroke="#ededed" stroke-width="0.6"/>
<line x1="489.4" y1="158.22" x2="684" y2="158.22" stroke="#ededed" stroke-width="0.6"/>
<line x1="489.4" y1="155.15" x2="684" y2="155.15" stroke="#ededed" stroke-width="0.6"/>
<line x1="489.4" y1="152.64" x2="684" y2="152.64" stroke="#ededed" stroke-width="0.6"/>
<line x1="489.4" y1="150.52" x2="684" y2="150.52" stroke="#ededed" stroke-width="0.6"/>
<line x1="489.4" y1="148.68" x2="684" y2="148.68" stroke="#ededed" stroke-width="0.6"/>
<line x1="489.4" y1="147.06" x2="684" y2="147.06" stroke="#ededed" stroke-width="0.6"/>
<line x1="489.4" y1="145.61" x2="684" y2="145.61" stroke="#ededed" stroke-width="0.6"/>
<line x1="489.4" y1="136.07" x2="684" y2="136.07" stroke="#ededed" stroke-width="0.6"/>
<line x1="489.4" y1="130.49" x2="684" y2="130.49" stroke="#ededed" stroke-width="0.6"/>
<line x1="489.4" y1="126.53" x2="684" y2="126.53" stroke="#ededed" stroke-width="0.6"/>
<line x1="489.4" y1="123.46" x2="684" y2="123.46" stroke="#ededed" stroke-width="0.6"/>
<line x1="489.4" y1="120.95" x2="684" y2="120.95" stroke="#ededed" stroke-width="0.6"/>
<line x1="489.4" y1="118.83" x2="684" y2="118.83" stroke="#ededed" stroke-width="0.6"/>
<line x1="489.4" y1="116.99" x2="684" y2="116.99" stroke="#ededed" stroke-width="0.6"/>
<line x1="489.4" y1="115.37" x2="684" y2="115.37" stroke="#ededed" stroke-width="0.6"/>
<line x1="489.4" y1="113.92" x2="684" y2="113.92" stroke="#ededed" stroke-width="0.6"/>
<line x1="489.4" y1="104.38" x2="684" y2="104.38" stroke="#ededed" stroke-width="0.6"/>
<line x1="489.4" y1="98.8" x2="684" y2="98.8" stroke="#ededed" stroke-width="0.6"/>
<line x1="489.4" y1="94.84" x2="684" y2="94.84" stroke="#ededed" stroke-width="0.6"/>
<line x1="489.4" y1="91.76" x2="684" y2="91.76" stroke="#ededed" stroke-width="0.6"/>
<line x1="489.4" y1="89.25" x2="684" y2="89.25" stroke="#ededed" stroke-width="0.6"/>
<line x1="489.4" y1="87.13" x2="684" y2="87.13" stroke="#ededed" stroke-width="0.6"/>
<line x1="489.4" y1="85.3" x2="684" y2="85.3" stroke="#ededed" stroke-width="0.6"/>
<line x1="489.4" y1="83.67" x2="684" y2="83.67" stroke="#ededed" stroke-width="0.6"/>
<line x1="489.4" y1="82.22" x2="684" y2="82.22" stroke="#ededed" stroke-width="0.6"/>
<line x1="489.4" y1="72.68" x2="684" y2="72.68" stroke="#ededed" stroke-width="0.6"/>
<line x1="489.4" y1="67.1" x2="684" y2="67.1" stroke="#ededed" stroke-width="0.6"/>
<line x1="489.4" y1="63.14" x2="684" y2="63.14" stroke="#ededed" stroke-width="0.6"/>
<line x1="489.4" y1="60.07" x2="684" y2="60.07" stroke="#ededed" stroke-width="0.6"/>
<line x1="489.4" y1="57.56" x2="684" y2="57.56" stroke="#ededed" stroke-width="0.6"/>
<line x1="489.4" y1="55.44" x2="684" y2="55.44" stroke="#ededed" stroke-width="0.6"/>
<line x1="489.4" y1="53.6" x2="684" y2="53.6" stroke="#ededed" stroke-width="0.6"/>
<line x1="489.4" y1="51.98" x2="684" y2="51.98" stroke="#ededed" stroke-width="0.6"/>
<line x1="489.4" y1="50.53" x2="684" y2="50.53" stroke="#ededed" stroke-width="0.6"/>
<line x1="489.4" y1="40.99" x2="684" y2="40.99" stroke="#ededed" stroke-width="0.6"/>
<line x1="489.4" y1="35.41" x2="684" y2="35.41" stroke="#ededed" stroke-width="0.6"/>
<line x1="489.4" y1="31.45" x2="684" y2="31.45" stroke="#ededed" stroke-width="0.6"/>
<line x1="489.4" y1="28.38" x2="684" y2="28.38" stroke="#ededed" stroke-width="0.6"/>
<line x1="489.4" y1="25.87" x2="684" y2="25.87" stroke="#ededed" stroke-width="0.6"/>
<line x1="489.4" y1="23.75" x2="684" y2="23.75" stroke="#ededed" stroke-width="0.6"/>
<line x1="489.4" y1="21.91" x2="684" y2="21.91" stroke="#ededed" stroke-width="0.6"/>
<line x1="489.4" y1="20.29" x2="684" y2="20.29" stroke="#ededed" stroke-width="0.6"/>
<line x1="489.4" y1="18.84" x2="684" y2="18.84" stroke="#ededed" stroke-width="0.6"/>
<line x1="489.4" y1="9.3" x2="684" y2="9.3" stroke="#ededed" stroke-width="0.6"/>
<line x1="489.4" y1="177.3" x2="489.4" y2="173.9" stroke="#333" stroke-width="0.7"/>
<line x1="499.68" y1="177.3" x2="499.68" y2="175.1" stroke="#333" stroke-width="0.7"/>
<line x1="505.69" y1="177.3" x2="505.69" y2="175.1" stroke="#333" stroke-width="0.7"/>
<line x1="509.96" y1="177.3" x2="509.96" y2="175.1" stroke="#333" stroke-width="0.7"/>
<line x1="513.27" y1="177.3" x2="513.27" y2="175.1" stroke="#333" stroke-width="0.7"/>
<line x1="515.97" y1="177.3" x2="515.97" y2="175.1" stroke="#333" stroke-width="0.7"/>
<line x1="518.26" y1="177.3" x2="518.26" y2="175.1" stroke="#333" stroke-width="0.7"/>
<line x1="520.24" y1="177.3" x2="520.24" y2="175.1" stroke="#333" stroke-width="0.7"/>
<line x1="521.98" y1="177.3" x2="521.98" y2="175.1" stroke="#333" stroke-width="0.7"/>
<line x1="523.55" y1="177.3" x2="523.55" y2="173.9" stroke="#333" stroke-width="0.7"/>
<line x1="533.83" y1="177.3" x2="533.83" y2="175.1" stroke="#333" stroke-width="0.7"/>
<line x1="539.84" y1="177.3" x2="539.84" y2="175.1" stroke="#333" stroke-width="0.7"/>
<line x1="544.1" y1="177.3" x2="544.1" y2="175.1" stroke="#333" stroke-width="0.7"/>
<line x1="547.41" y1="177.3" x2="547.41" y2="175.1" stroke="#333" stroke-width="0.7"/>
<line x1="550.12" y1="177.3" x2="550.12" y2="175.1" stroke="#333" stroke-width="0.7"/>
<line x1="552.4" y1="177.3" x2="552.4" y2="175.1" stroke="#333" stroke-width="0.7"/>
<line x1="554.38" y1="177.3" x2="554.38" y2="175.1" stroke="#333" stroke-width="0.7"/>
<line x1="556.13" y1="177.3" x2="556.13" y2="175.1" stroke="#333" stroke-width="0.7"/>
<line x1="557.69" y1="177.3" x2="557.69" y2="173.9" stroke="#333" stroke-width="0.7"/>
<line x1="567.97" y1="177.3" x2="567.97" y2="175.1" stroke="#333" stroke-width="0.7"/>
<line x1="573.99" y1="177.3" x2="573.99" y2="175.1" stroke="#333" stroke-width="0.7"/>
<line x1="578.25" y1="177.3" x2="578.25" y2="175.1" stroke="#333" stroke-width="0.7"/>
<line x1="581.56" y1="177.3" x2="581.56" y2="175.1" stroke="#333" stroke-width="0.7"/>
<line x1="584.26" y1="177.3" x2="584.26" y2="175.1" stroke="#333" stroke-width="0.7"/>
<line x1="586.55" y1="177.3" x2="586.55" y2="175.1" stroke="#333" stroke-width="0.7"/>
<line x1="588.53" y1="177.3" x2="588.53" y2="175.1" stroke="#333" stroke-width="0.7"/>
<line x1="590.28" y1="177.3" x2="590.28" y2="175.1" stroke="#333" stroke-width="0.7"/>
<line x1="591.84" y1="177.3" x2="591.84" y2="173.9" stroke="#333" stroke-width="0.7"/>
<line x1="602.12" y1="177.3" x2="602.12" y2="175.1" stroke="#333" stroke-width="0.7"/>
<line x1="608.13" y1="177.3" x2="608.13" y2="175.1" stroke="#333" stroke-width="0.7"/>
<line x1="612.4" y1="177.3" x2="612.4" y2="175.1" stroke="#333" stroke-width="0.7"/>
<line x1="615.71" y1="177.3" x2="615.71" y2="175.1" stroke="#333" stroke-width="0.7"/>
<line x1="618.41" y1="177.3" x2="618.41" y2="175.1" stroke="#333" stroke-width="0.7"/>
<line x1="620.7" y1="177.3" x2="620.7" y2="175.1" stroke="#333" stroke-width="0.7"/>
<line x1="622.68" y1="177.3" x2="622.68" y2="175.1" stroke="#333" stroke-width="0.7"/>
<line x1="624.42" y1="177.3" x2="624.42" y2="175.1" stroke="#333" stroke-width="0.7"/>
<line x1="625.99" y1="177.3" x2="625.99" y2="173.9" stroke="#333" stroke-width="0.7"/>
<line x1="636.27" y1="177.3" x2="636.27" y2="175.1" stroke="#333" stroke-width="0.7"/>
<line x1="642.28" y1="177.3" x2="642.28" y2="175.1" stroke="#333" stroke-width="0.7"/>
<line x1="646.54" y1="177.3" x2="646.54" y2="175.1" stroke="#333" stroke-width="0.7"/>
<line x1="649.85" y1="177.3" x2="649.85" y2="175.1" stroke="#333" stroke-width="0.7"/>
<line x1="652.56" y1="177.3" x2="652.56" y2="175.1" stroke="#333" stroke-width="0.7"/>
<line x1="654.84" y1="177.3" x2="654.84" y2="175.1" stroke="#333" stroke-width="0.7"/>
<line x1="656.82" y1="177.3" x2="656.82" y2="175.1" stroke="#333" stroke-width="0.7"/>
<line x1="658.57" y1="177.3" x2="658.57" y2="175.1" stroke="#333" stroke-width="0.7"/>
<line x1="660.13" y1="177.3" x2="660.13" y2="173.9" stroke="#333" stroke-width="0.7"/>
<line x1="670.41" y1="177.3" x2="670.41" y2="175.1" stroke="#333" stroke-width="0.7"/>
<line x1="676.42" y1="177.3" x2="676.42" y2="175.1" stroke="#333" stroke-width="0.7"/>
<line x1="680.69" y1="177.3" x2="680.69" y2="175.1" stroke="#333" stroke-width="0.7"/>
<line x1="684" y1="177.3" x2="684" y2="175.1" stroke="#333" stroke-width="0.7"/>
<line x1="489.4" y1="177.3" x2="492.8" y2="177.3" stroke="#333" stroke-width="0.7"/>
<line x1="489.4" y1="167.76" x2="491.6" y2="167.76" stroke="#333" stroke-width="0.7"/>
<line x1="489.4" y1="162.18" x2="491.6" y2="162.18" stroke="#333" stroke-width="0.7"/>
<line x1="489.4" y1="158.22" x2="491.6" y2="158.22" stroke="#333" stroke-width="0.7"/>
<line x1="489.4" y1="155.15" x2="491.6" y2="155.15" stroke="#333" stroke-width="0.7"/>
<line x1="489.4" y1="152.64" x2="491.6" y2="152.64" stroke="#333" stroke-width="0.7"/>
<line x1="489.4" y1="150.52" x2="491.6" y2="150.52" stroke="#333" stroke-width="0.7"/>
<line x1="489.4" y1="148.68" x2="491.6" y2="148.68" stroke="#333" stroke-width="0.7"/>
<line x1="489.4" y1="147.06" x2="491.6" y2="147.06" stroke="#333" stroke-width="0.7"/>
<line x1="489.4" y1="145.61" x2="492.8" y2="145.61" stroke="#333" stroke-width="0.7"/>
<line x1="489.4" y1="136.07" x2="491.6" y2="136.07" stroke="#333" stroke-width="0.7"/>
<line x1="489.4" y1="130.49" x2="491.6" y2="130.49" stroke="#333" stroke-width="0.7"/>
<line x1="489.4" y1="126.53" x2="491.6" y2="126.53" stroke="#333" stroke-width="0.7"/>
<line x1="489.4" y1="123.46" x2="491.6" y2="123.46" stroke="#333" stroke-width="0.7"/>
<line x1="489.4" y1="120.95" x2="491.6" y2="120.95" stroke="#333" stroke-width="0.7"/>
<line x1="489.4" y1="118.83" x2="491.6" y2="118.83" stroke="#333" stroke-width="0.7"/>
<line x1="489.4" y1="116.99" x2="491.6" y2="116.99" stroke="#333" stroke-width="0.7"/>
<line x1="489.4" y1="115.37" x2="491.6" y2="115.37" stroke="#333" stroke-width="0.7"/>
<line x1="489.4" y1="113.92" x2="492.8" y2="113.92" stroke="#333" stroke-width="0.7"/>
<line x1="489.4" y1="104.38" x2="491.6" y2="104.38" stroke="#333" stroke-width="0.7"/>
<line x1="489.4" y1="98.8" x2="491.6" y2="98.8" stroke="#333" stroke-width="0.7"/>
<line x1="489.4" y1="94.84" x2="491.6" y2="94.84" stroke="#333" stroke-width="0.7"/>
<line x1="489.4" y1="91.76" x2="491.6" y2="91.76" stroke="#333" stroke-width="0.7"/>
<line x1="489.4" y1="89.25" x2="491.6" y2="89.25" stroke="#333" stroke-width="0.7"/>
<line x1="489.4" y1="87.13" x2="491.6" y2="87.13" stroke="#333" stroke-width="0.7"/>
<line x1="489.4" y1="85.3" x2="491.6" y2="85.3" stroke="#333" stroke-width="0.7"/>
<line x1="489.4" y1="83.67" x2="491.6" y2="83.67" stroke="#333" stroke-width="0.7"/>
<line x1="489.4" y1="82.22" x2="492.8" y2="82.22" stroke="#333" stroke-width="0.7"/>
<line x1="489.4" y1="72.68" x2="491.6" y2="72.68" stroke="#333" stroke-width="0.7"/>
<line x1="489.4" y1="67.1" x2="491.6" y2="67.1" stroke="#333" stroke-width="0.7"/>
<line x1="489.4" y1="63.14" x2="491.6" y2="63.14" stroke="#333" stroke-width="0.7"/>
<line x1="489.4" y1="60.07" x2="491.6" y2="60.07" stroke="#333" stroke-width="0.7"/>
<line x1="489.4" y1="57.56" x2="491.6" y2="57.56" stroke="#333" stroke-width="0.7"/>
<line x1="489.4" y1="55.44" x2="491.6" y2="55.44" stroke="#333" stroke-width="0.7"/>
<line x1="489.4" y1="53.6" x2="491.6" y2="53.6" stroke="#333" stroke-width="0.7"/>
<line x1="489.4" y1="51.98" x2="491.6" y2="51.98" stroke="#333" stroke-width="0.7"/>
<line x1="489.4" y1="50.53" x2="492.8" y2="50.53" stroke="#333" stroke-width="0.7"/>
<line x1="489.4" y1="40.99" x2="491.6" y2="40.99" stroke="#333" stroke-width="0.7"/>
<line x1="489.4" y1="35.41" x2="491.6" y2="35.41" stroke="#333" stroke-width="0.7"/>
<line x1="489.4" y1="31.45" x2="491.6" y2="31.45" stroke="#333" stroke-width="0.7"/>
<line x1="489.4" y1="28.38" x2="491.6" y2="28.38" stroke="#333" stroke-width="0.7"/>
<line x1="489.4" y1="25.87" x2="491.6" y2="25.87" stroke="#333" stroke-width="0.7"/>
<line x1="489.4" y1="23.75" x2="491.6" y2="23.75" stroke="#333" stroke-width="0.7"/>
<line x1="489.4" y1="21.91" x2="491.6" y2="21.91" stroke="#333" stroke-width="0.7"/>
<line x1="489.4" y1="20.29" x2="491.6" y2="20.29" stroke="#333" stroke-width="0.7"/>
<line x1="489.4" y1="18.84" x2="492.8" y2="18.84" stroke="#333" stroke-width="0.7"/>
<line x1="489.4" y1="9.3" x2="491.6" y2="9.3" stroke="#333" stroke-width="0.7"/>
<path d="M489.4 177.3H684V9.3H489.4" fill="none" stroke="#333" stroke-width="1.2"/>
<line x1="489.4" y1="8.7" x2="489.4" y2="177.9" stroke="#808080" stroke-width="1.3"/>
<text x="489.65" y="186.1" font-size="8.5" text-anchor="middle" fill="#1a1a1a"  stroke="#1a1a1a">10</text>
<text x="494.2" y="183.6" font-size="5.6" text-anchor="start" fill="#1a1a1a"  stroke="#1a1a1a">-2</text>
<text x="523.8" y="186.1" font-size="8.5" text-anchor="middle" fill="#1a1a1a"  stroke="#1a1a1a">10</text>
<text x="528.35" y="183.6" font-size="5.6" text-anchor="start" fill="#1a1a1a"  stroke="#1a1a1a">-1</text>
<text x="557.94" y="186.1" font-size="8.5" text-anchor="middle" fill="#1a1a1a"  stroke="#1a1a1a">10</text>
<text x="562.49" y="183.6" font-size="5.6" text-anchor="start" fill="#1a1a1a"  stroke="#1a1a1a">0</text>
<text x="592.09" y="186.1" font-size="8.5" text-anchor="middle" fill="#1a1a1a"  stroke="#1a1a1a">10</text>
<text x="596.64" y="183.6" font-size="5.6" text-anchor="start" fill="#1a1a1a"  stroke="#1a1a1a">1</text>
<text x="626.24" y="186.1" font-size="8.5" text-anchor="middle" fill="#1a1a1a"  stroke="#1a1a1a">10</text>
<text x="630.79" y="183.6" font-size="5.6" text-anchor="start" fill="#1a1a1a"  stroke="#1a1a1a">2</text>
<text x="660.38" y="186.1" font-size="8.5" text-anchor="middle" fill="#1a1a1a"  stroke="#1a1a1a">10</text>
<text x="664.93" y="183.6" font-size="5.6" text-anchor="start" fill="#1a1a1a"  stroke="#1a1a1a">3</text>
<text x="484.7" y="179.16" font-size="8.5" text-anchor="end" fill="#1a1a1a"  stroke="#1a1a1a">10</text>
<text x="484.8" y="176.7" font-size="5.6" text-anchor="start" fill="#1a1a1a"  stroke="#1a1a1a">-1</text>
<text x="484.7" y="147.47" font-size="8.5" text-anchor="end" fill="#1a1a1a"  stroke="#1a1a1a">10</text>
<text x="484.8" y="145.01" font-size="5.6" text-anchor="start" fill="#1a1a1a"  stroke="#1a1a1a">0</text>
<text x="484.7" y="115.78" font-size="8.5" text-anchor="end" fill="#1a1a1a"  stroke="#1a1a1a">10</text>
<text x="484.8" y="113.32" font-size="5.6" text-anchor="start" fill="#1a1a1a"  stroke="#1a1a1a">1</text>
<text x="484.7" y="84.08" font-size="8.5" text-anchor="end" fill="#1a1a1a"  stroke="#1a1a1a">10</text>
<text x="484.8" y="81.62" font-size="5.6" text-anchor="start" fill="#1a1a1a"  stroke="#1a1a1a">2</text>
<text x="484.7" y="52.39" font-size="8.5" text-anchor="end" fill="#1a1a1a"  stroke="#1a1a1a">10</text>
<text x="484.8" y="49.93" font-size="5.6" text-anchor="start" fill="#1a1a1a"  stroke="#1a1a1a">3</text>
<text x="484.7" y="20.7" font-size="8.5" text-anchor="end" fill="#1a1a1a"  stroke="#1a1a1a">10</text>
<text x="484.8" y="18.24" font-size="5.6" text-anchor="start" fill="#1a1a1a"  stroke="#1a1a1a">4</text>
<text x="475.5" y="10.5" font-size="12.5" font-weight="bold" fill="#000" stroke="#000">c</text>
<text transform="translate(473.5,88) rotate(-90)" font-size="8.4" text-anchor="middle" fill="#1a1a1a" stroke="#1a1a1a"><tspan font-style="italic">L</tspan> @3 V (cd m<tspan font-size="5.6" dy="-3.2">-2</tspan><tspan dy="3.2">)</tspan></text>
<text x="561.9" y="198.1" font-size="8.4" fill="#1a1a1a" stroke="#1a1a1a"><tspan font-style="italic">L</tspan> @<tspan font-style="italic">V</tspan><tspan font-size="5.6" dy="1.9">p</tspan><tspan dy="-1.9"> (cd m</tspan><tspan font-size="5.6" dy="-3.2">-2</tspan><tspan dy="3.2">)</tspan></text>
<rect x="492.2" y="11.2" width="58.5" height="30" fill="#fff" stroke="#333" stroke-width="0.8"/>
<path d="M497.9 15.6L501 18.7L497.9 21.8L494.8 18.7Z" fill="#3cc8f0"/>
<text x="502.4" y="21.76" font-size="8.5" text-anchor="start" fill="#1a1a1a"  stroke="#1a1a1a">460-500 nm</text>
<circle cx="497.9" cy="34.2" r="2.6" fill="#7030a0"/>
<text x="502.4" y="37.26" font-size="8.5" text-anchor="start" fill="#1a1a1a"  stroke="#1a1a1a">&lt;460 nm</text>
<path d="M591.8 48.9L594.8 51.9L591.8 54.9L588.8 51.9Z" fill="#3cc8f0"/>
<path d="M557.5 67.3L560.5 70.3L557.5 73.3L554.5 70.3Z" fill="#3cc8f0"/>
<path d="M576.4 74.6L579.4 77.6L576.4 80.6L573.4 77.6Z" fill="#3cc8f0"/>
<path d="M594.8 72.9L597.8 75.9L594.8 78.9L591.8 75.9Z" fill="#3cc8f0"/>
<path d="M612.3 88.6L615.3 91.6L612.3 94.6L609.3 91.6Z" fill="#3cc8f0"/>
<path d="M640.5 27.7L643.5 30.7L640.5 33.7L637.5 30.7Z" fill="#3cc8f0"/>
<path d="M659.3 15.75L662.3 18.75L659.3 21.75L656.3 18.75Z" fill="#3cc8f0"/>
<path d="M509.9 146.3L512.9 149.3L509.9 152.3L506.9 149.3Z" fill="#3cc8f0"/>
<circle cx="591.8" cy="114.2" r="2.4" fill="#7030a0"/>
<text x="551.4" y="54.78" font-size="8" text-anchor="start" fill="#1a1a1a"  stroke="#1a1a1a">21.9% (9)</text>
<text x="551" y="73.68" font-size="8" text-anchor="end" fill="#1a1a1a"  stroke="#1a1a1a">13% (34)</text>
<text x="536.1" y="81.08" font-size="8" text-anchor="start" fill="#1a1a1a"  stroke="#1a1a1a">4.5% (14)</text>
<text x="576.4" y="69.28" font-size="8" text-anchor="start" fill="#1a1a1a"  stroke="#1a1a1a">12.6% (49)</text>
<text x="572" y="95.08" font-size="8" text-anchor="start" fill="#1a1a1a"  stroke="#1a1a1a">8.1% (20)</text>
<text x="602.7" y="40.38" font-size="8" text-anchor="start" fill="#1a1a1a"  stroke="#1a1a1a">10% (22)</text>
<path d="M636 37.5L639 33.5" fill="none" stroke="#888" stroke-width="0.6"/>
<text x="553.6" y="117.08" font-size="8" text-anchor="start" fill="#1a1a1a"  stroke="#1a1a1a">23% (25)</text>
<text x="516.9" y="152.18" font-size="8" text-anchor="start" fill="#1a1a1a"  stroke="#1a1a1a">12.3% (11)</text>
<text x="657.3" y="28.78" font-size="8" text-anchor="start" fill="#ff1f1f"  stroke="#ff1f1f">21.1%</text>
<ellipse cx="667.3" cy="16.3" rx="15.2" ry="6.3" transform="rotate(-16 667.3 16.3)" fill="none" stroke="#333" stroke-width="1.0" stroke-dasharray="3 1.8"/>
<text x="640.6" y="7.9" font-size="8.5" text-anchor="start" fill="#ff1f1f"  stroke="#ff1f1f">This work</text>
<line x1="41" y1="376.3" x2="41" y2="373.7" stroke="#333" stroke-width="0.7"/>
<line x1="50.2" y1="376.3" x2="50.2" y2="374.8" stroke="#333" stroke-width="0.7"/>
<line x1="59.4" y1="376.3" x2="59.4" y2="374.8" stroke="#333" stroke-width="0.7"/>
<line x1="68.6" y1="376.3" x2="68.6" y2="374.8" stroke="#333" stroke-width="0.7"/>
<line x1="77.8" y1="376.3" x2="77.8" y2="374.8" stroke="#333" stroke-width="0.7"/>
<line x1="87" y1="376.3" x2="87" y2="373.7" stroke="#333" stroke-width="0.7"/>
<line x1="96.2" y1="376.3" x2="96.2" y2="374.8" stroke="#333" stroke-width="0.7"/>
<line x1="105.4" y1="376.3" x2="105.4" y2="374.8" stroke="#333" stroke-width="0.7"/>
<line x1="114.6" y1="376.3" x2="114.6" y2="374.8" stroke="#333" stroke-width="0.7"/>
<line x1="123.8" y1="376.3" x2="123.8" y2="374.8" stroke="#333" stroke-width="0.7"/>
<line x1="133" y1="376.3" x2="133" y2="373.7" stroke="#333" stroke-width="0.7"/>
<line x1="142.2" y1="376.3" x2="142.2" y2="374.8" stroke="#333" stroke-width="0.7"/>
<line x1="151.4" y1="376.3" x2="151.4" y2="374.8" stroke="#333" stroke-width="0.7"/>
<line x1="160.6" y1="376.3" x2="160.6" y2="374.8" stroke="#333" stroke-width="0.7"/>
<line x1="169.8" y1="376.3" x2="169.8" y2="374.8" stroke="#333" stroke-width="0.7"/>
<line x1="179" y1="376.3" x2="179" y2="373.7" stroke="#333" stroke-width="0.7"/>
<line x1="188.2" y1="376.3" x2="188.2" y2="374.8" stroke="#333" stroke-width="0.7"/>
<line x1="197.4" y1="376.3" x2="197.4" y2="374.8" stroke="#333" stroke-width="0.7"/>
<line x1="206.6" y1="376.3" x2="206.6" y2="374.8" stroke="#333" stroke-width="0.7"/>
<line x1="215.8" y1="376.3" x2="215.8" y2="374.8" stroke="#333" stroke-width="0.7"/>
<line x1="225" y1="376.3" x2="225" y2="373.7" stroke="#333" stroke-width="0.7"/>
<line x1="41" y1="376.3" x2="43.6" y2="376.3" stroke="#333" stroke-width="0.7"/>
<line x1="41" y1="367.92" x2="42.5" y2="367.92" stroke="#333" stroke-width="0.7"/>
<line x1="41" y1="363.02" x2="42.5" y2="363.02" stroke="#333" stroke-width="0.7"/>
<line x1="41" y1="359.54" x2="42.5" y2="359.54" stroke="#333" stroke-width="0.7"/>
<line x1="41" y1="356.85" x2="42.5" y2="356.85" stroke="#333" stroke-width="0.7"/>
<line x1="41" y1="354.64" x2="42.5" y2="354.64" stroke="#333" stroke-width="0.7"/>
<line x1="41" y1="352.78" x2="42.5" y2="352.78" stroke="#333" stroke-width="0.7"/>
<line x1="41" y1="351.16" x2="42.5" y2="351.16" stroke="#333" stroke-width="0.7"/>
<line x1="41" y1="349.74" x2="42.5" y2="349.74" stroke="#333" stroke-width="0.7"/>
<line x1="41" y1="348.47" x2="43.6" y2="348.47" stroke="#333" stroke-width="0.7"/>
<line x1="41" y1="340.09" x2="42.5" y2="340.09" stroke="#333" stroke-width="0.7"/>
<line x1="41" y1="335.19" x2="42.5" y2="335.19" stroke="#333" stroke-width="0.7"/>
<line x1="41" y1="331.71" x2="42.5" y2="331.71" stroke="#333" stroke-width="0.7"/>
<line x1="41" y1="329.01" x2="42.5" y2="329.01" stroke="#333" stroke-width="0.7"/>
<line x1="41" y1="326.81" x2="42.5" y2="326.81" stroke="#333" stroke-width="0.7"/>
<line x1="41" y1="324.94" x2="42.5" y2="324.94" stroke="#333" stroke-width="0.7"/>
<line x1="41" y1="323.33" x2="42.5" y2="323.33" stroke="#333" stroke-width="0.7"/>
<line x1="41" y1="321.91" x2="42.5" y2="321.91" stroke="#333" stroke-width="0.7"/>
<line x1="41" y1="320.63" x2="43.6" y2="320.63" stroke="#333" stroke-width="0.7"/>
<line x1="41" y1="312.25" x2="42.5" y2="312.25" stroke="#333" stroke-width="0.7"/>
<line x1="41" y1="307.35" x2="42.5" y2="307.35" stroke="#333" stroke-width="0.7"/>
<line x1="41" y1="303.88" x2="42.5" y2="303.88" stroke="#333" stroke-width="0.7"/>
<line x1="41" y1="301.18" x2="42.5" y2="301.18" stroke="#333" stroke-width="0.7"/>
<line x1="41" y1="298.97" x2="42.5" y2="298.97" stroke="#333" stroke-width="0.7"/>
<line x1="41" y1="297.11" x2="42.5" y2="297.11" stroke="#333" stroke-width="0.7"/>
<line x1="41" y1="295.5" x2="42.5" y2="295.5" stroke="#333" stroke-width="0.7"/>
<line x1="41" y1="294.07" x2="42.5" y2="294.07" stroke="#333" stroke-width="0.7"/>
<line x1="41" y1="292.8" x2="43.6" y2="292.8" stroke="#333" stroke-width="0.7"/>
<line x1="41" y1="284.42" x2="42.5" y2="284.42" stroke="#333" stroke-width="0.7"/>
<line x1="41" y1="279.52" x2="42.5" y2="279.52" stroke="#333" stroke-width="0.7"/>
<line x1="41" y1="276.04" x2="42.5" y2="276.04" stroke="#333" stroke-width="0.7"/>
<line x1="41" y1="273.35" x2="42.5" y2="273.35" stroke="#333" stroke-width="0.7"/>
<line x1="41" y1="271.14" x2="42.5" y2="271.14" stroke="#333" stroke-width="0.7"/>
<line x1="41" y1="269.28" x2="42.5" y2="269.28" stroke="#333" stroke-width="0.7"/>
<line x1="41" y1="267.66" x2="42.5" y2="267.66" stroke="#333" stroke-width="0.7"/>
<line x1="41" y1="266.24" x2="42.5" y2="266.24" stroke="#333" stroke-width="0.7"/>
<line x1="41" y1="264.97" x2="43.6" y2="264.97" stroke="#333" stroke-width="0.7"/>
<line x1="41" y1="256.59" x2="42.5" y2="256.59" stroke="#333" stroke-width="0.7"/>
<line x1="41" y1="251.69" x2="42.5" y2="251.69" stroke="#333" stroke-width="0.7"/>
<line x1="41" y1="248.21" x2="42.5" y2="248.21" stroke="#333" stroke-width="0.7"/>
<line x1="41" y1="245.51" x2="42.5" y2="245.51" stroke="#333" stroke-width="0.7"/>
<line x1="41" y1="243.31" x2="42.5" y2="243.31" stroke="#333" stroke-width="0.7"/>
<line x1="41" y1="241.44" x2="42.5" y2="241.44" stroke="#333" stroke-width="0.7"/>
<line x1="41" y1="239.83" x2="42.5" y2="239.83" stroke="#333" stroke-width="0.7"/>
<line x1="41" y1="238.41" x2="42.5" y2="238.41" stroke="#333" stroke-width="0.7"/>
<line x1="41" y1="237.13" x2="43.6" y2="237.13" stroke="#333" stroke-width="0.7"/>
<line x1="41" y1="228.75" x2="42.5" y2="228.75" stroke="#333" stroke-width="0.7"/>
<line x1="41" y1="223.85" x2="42.5" y2="223.85" stroke="#333" stroke-width="0.7"/>
<line x1="41" y1="220.38" x2="42.5" y2="220.38" stroke="#333" stroke-width="0.7"/>
<line x1="41" y1="217.68" x2="42.5" y2="217.68" stroke="#333" stroke-width="0.7"/>
<line x1="41" y1="215.47" x2="42.5" y2="215.47" stroke="#333" stroke-width="0.7"/>
<line x1="41" y1="213.61" x2="42.5" y2="213.61" stroke="#333" stroke-width="0.7"/>
<line x1="41" y1="212" x2="42.5" y2="212" stroke="#333" stroke-width="0.7"/>
<line x1="41" y1="210.57" x2="42.5" y2="210.57" stroke="#333" stroke-width="0.7"/>
<line x1="41" y1="209.3" x2="225" y2="209.3" stroke="#222" stroke-width="1.2"/>
<line x1="41" y1="376.3" x2="225" y2="376.3" stroke="#444" stroke-width="1.2"/>
<line x1="41" y1="208.70000000000002" x2="41" y2="376.90000000000003" stroke="#8a8a8a" stroke-width="1.3"/>
<line x1="225" y1="208.70000000000002" x2="225" y2="376.90000000000003" stroke="#a0a0a0" stroke-width="1.3"/>
<text x="40.3" y="384.76" font-size="8.5" text-anchor="middle" fill="#1a1a1a"  stroke="#1a1a1a">0</text>
<text x="85.6" y="384.76" font-size="8.5" text-anchor="middle" fill="#1a1a1a"  stroke="#1a1a1a">5</text>
<text x="133.9" y="384.76" font-size="8.5" text-anchor="middle" fill="#1a1a1a"  stroke="#1a1a1a">10</text>
<text x="180.1" y="384.76" font-size="8.5" text-anchor="middle" fill="#1a1a1a"  stroke="#1a1a1a">15</text>
<text x="224.6" y="384.76" font-size="8.5" text-anchor="middle" fill="#1a1a1a"  stroke="#1a1a1a">20</text>
<text x="130.75" y="397.3" font-size="8.6" text-anchor="middle" fill="#222" stroke="#222">Voltage (V)</text>
<text transform="translate(50.5,219.9) skewX(-14)" font-size="8.4" fill="#ff1a1a" stroke="#ff1a1a">&#955;</text>
<text x="55.1" y="219.9" font-size="7.9" fill="#ff1a1a" stroke="#ff1a1a"><tspan font-size="5.2" dy="1.9">peak</tspan><tspan dy="-1.9"> = 616 nm</tspan></text>
<line x1="237.7" y1="376.3" x2="237.7" y2="373.7" stroke="#333" stroke-width="0.7"/>
<line x1="246.84" y1="376.3" x2="246.84" y2="374.8" stroke="#333" stroke-width="0.7"/>
<line x1="255.99" y1="376.3" x2="255.99" y2="374.8" stroke="#333" stroke-width="0.7"/>
<line x1="265.13" y1="376.3" x2="265.13" y2="374.8" stroke="#333" stroke-width="0.7"/>
<line x1="274.28" y1="376.3" x2="274.28" y2="374.8" stroke="#333" stroke-width="0.7"/>
<line x1="283.43" y1="376.3" x2="283.43" y2="373.7" stroke="#333" stroke-width="0.7"/>
<line x1="292.57" y1="376.3" x2="292.57" y2="374.8" stroke="#333" stroke-width="0.7"/>
<line x1="301.72" y1="376.3" x2="301.72" y2="374.8" stroke="#333" stroke-width="0.7"/>
<line x1="310.86" y1="376.3" x2="310.86" y2="374.8" stroke="#333" stroke-width="0.7"/>
<line x1="320" y1="376.3" x2="320" y2="374.8" stroke="#333" stroke-width="0.7"/>
<line x1="329.15" y1="376.3" x2="329.15" y2="373.7" stroke="#333" stroke-width="0.7"/>
<line x1="338.3" y1="376.3" x2="338.3" y2="374.8" stroke="#333" stroke-width="0.7"/>
<line x1="347.44" y1="376.3" x2="347.44" y2="374.8" stroke="#333" stroke-width="0.7"/>
<line x1="356.59" y1="376.3" x2="356.59" y2="374.8" stroke="#333" stroke-width="0.7"/>
<line x1="365.73" y1="376.3" x2="365.73" y2="374.8" stroke="#333" stroke-width="0.7"/>
<line x1="374.88" y1="376.3" x2="374.88" y2="373.7" stroke="#333" stroke-width="0.7"/>
<line x1="384.02" y1="376.3" x2="384.02" y2="374.8" stroke="#333" stroke-width="0.7"/>
<line x1="393.17" y1="376.3" x2="393.17" y2="374.8" stroke="#333" stroke-width="0.7"/>
<line x1="402.31" y1="376.3" x2="402.31" y2="374.8" stroke="#333" stroke-width="0.7"/>
<line x1="411.46" y1="376.3" x2="411.46" y2="374.8" stroke="#333" stroke-width="0.7"/>
<line x1="420.6" y1="376.3" x2="420.6" y2="373.7" stroke="#333" stroke-width="0.7"/>
<line x1="237.7" y1="376.3" x2="240.3" y2="376.3" stroke="#333" stroke-width="0.7"/>
<line x1="237.7" y1="367.92" x2="239.2" y2="367.92" stroke="#333" stroke-width="0.7"/>
<line x1="237.7" y1="363.02" x2="239.2" y2="363.02" stroke="#333" stroke-width="0.7"/>
<line x1="237.7" y1="359.54" x2="239.2" y2="359.54" stroke="#333" stroke-width="0.7"/>
<line x1="237.7" y1="356.85" x2="239.2" y2="356.85" stroke="#333" stroke-width="0.7"/>
<line x1="237.7" y1="354.64" x2="239.2" y2="354.64" stroke="#333" stroke-width="0.7"/>
<line x1="237.7" y1="352.78" x2="239.2" y2="352.78" stroke="#333" stroke-width="0.7"/>
<line x1="237.7" y1="351.16" x2="239.2" y2="351.16" stroke="#333" stroke-width="0.7"/>
<line x1="237.7" y1="349.74" x2="239.2" y2="349.74" stroke="#333" stroke-width="0.7"/>
<line x1="237.7" y1="348.47" x2="240.3" y2="348.47" stroke="#333" stroke-width="0.7"/>
<line x1="237.7" y1="340.09" x2="239.2" y2="340.09" stroke="#333" stroke-width="0.7"/>
<line x1="237.7" y1="335.19" x2="239.2" y2="335.19" stroke="#333" stroke-width="0.7"/>
<line x1="237.7" y1="331.71" x2="239.2" y2="331.71" stroke="#333" stroke-width="0.7"/>
<line x1="237.7" y1="329.01" x2="239.2" y2="329.01" stroke="#333" stroke-width="0.7"/>
<line x1="237.7" y1="326.81" x2="239.2" y2="326.81" stroke="#333" stroke-width="0.7"/>
<line x1="237.7" y1="324.94" x2="239.2" y2="324.94" stroke="#333" stroke-width="0.7"/>
<line x1="237.7" y1="323.33" x2="239.2" y2="323.33" stroke="#333" stroke-width="0.7"/>
<line x1="237.7" y1="321.91" x2="239.2" y2="321.91" stroke="#333" stroke-width="0.7"/>
<line x1="237.7" y1="320.63" x2="240.3" y2="320.63" stroke="#333" stroke-width="0.7"/>
<line x1="237.7" y1="312.25" x2="239.2" y2="312.25" stroke="#333" stroke-width="0.7"/>
<line x1="237.7" y1="307.35" x2="239.2" y2="307.35" stroke="#333" stroke-width="0.7"/>
<line x1="237.7" y1="303.88" x2="239.2" y2="303.88" stroke="#333" stroke-width="0.7"/>
<line x1="237.7" y1="301.18" x2="239.2" y2="301.18" stroke="#333" stroke-width="0.7"/>
<line x1="237.7" y1="298.97" x2="239.2" y2="298.97" stroke="#333" stroke-width="0.7"/>
<line x1="237.7" y1="297.11" x2="239.2" y2="297.11" stroke="#333" stroke-width="0.7"/>
<line x1="237.7" y1="295.5" x2="239.2" y2="295.5" stroke="#333" stroke-width="0.7"/>
<line x1="237.7" y1="294.07" x2="239.2" y2="294.07" stroke="#333" stroke-width="0.7"/>
<line x1="237.7" y1="292.8" x2="240.3" y2="292.8" stroke="#333" stroke-width="0.7"/>
<line x1="237.7" y1="284.42" x2="239.2" y2="284.42" stroke="#333" stroke-width="0.7"/>
<line x1="237.7" y1="279.52" x2="239.2" y2="279.52" stroke="#333" stroke-width="0.7"/>
<line x1="237.7" y1="276.04" x2="239.2" y2="276.04" stroke="#333" stroke-width="0.7"/>
<line x1="237.7" y1="273.35" x2="239.2" y2="273.35" stroke="#333" stroke-width="0.7"/>
<line x1="237.7" y1="271.14" x2="239.2" y2="271.14" stroke="#333" stroke-width="0.7"/>
<line x1="237.7" y1="269.28" x2="239.2" y2="269.28" stroke="#333" stroke-width="0.7"/>
<line x1="237.7" y1="267.66" x2="239.2" y2="267.66" stroke="#333" stroke-width="0.7"/>
<line x1="237.7" y1="266.24" x2="239.2" y2="266.24" stroke="#333" stroke-width="0.7"/>
<line x1="237.7" y1="264.97" x2="240.3" y2="264.97" stroke="#333" stroke-width="0.7"/>
<line x1="237.7" y1="256.59" x2="239.2" y2="256.59" stroke="#333" stroke-width="0.7"/>
<line x1="237.7" y1="251.69" x2="239.2" y2="251.69" stroke="#333" stroke-width="0.7"/>
<line x1="237.7" y1="248.21" x2="239.2" y2="248.21" stroke="#333" stroke-width="0.7"/>
<line x1="237.7" y1="245.51" x2="239.2" y2="245.51" stroke="#333" stroke-width="0.7"/>
<line x1="237.7" y1="243.31" x2="239.2" y2="243.31" stroke="#333" stroke-width="0.7"/>
<line x1="237.7" y1="241.44" x2="239.2" y2="241.44" stroke="#333" stroke-width="0.7"/>
<line x1="237.7" y1="239.83" x2="239.2" y2="239.83" stroke="#333" stroke-width="0.7"/>
<line x1="237.7" y1="238.41" x2="239.2" y2="238.41" stroke="#333" stroke-width="0.7"/>
<line x1="237.7" y1="237.13" x2="240.3" y2="237.13" stroke="#333" stroke-width="0.7"/>
<line x1="237.7" y1="228.75" x2="239.2" y2="228.75" stroke="#333" stroke-width="0.7"/>
<line x1="237.7" y1="223.85" x2="239.2" y2="223.85" stroke="#333" stroke-width="0.7"/>
<line x1="237.7" y1="220.38" x2="239.2" y2="220.38" stroke="#333" stroke-width="0.7"/>
<line x1="237.7" y1="217.68" x2="239.2" y2="217.68" stroke="#333" stroke-width="0.7"/>
<line x1="237.7" y1="215.47" x2="239.2" y2="215.47" stroke="#333" stroke-width="0.7"/>
<line x1="237.7" y1="213.61" x2="239.2" y2="213.61" stroke="#333" stroke-width="0.7"/>
<line x1="237.7" y1="212" x2="239.2" y2="212" stroke="#333" stroke-width="0.7"/>
<line x1="237.7" y1="210.57" x2="239.2" y2="210.57" stroke="#333" stroke-width="0.7"/>
<line x1="237.7" y1="209.3" x2="420.6" y2="209.3" stroke="#333" stroke-width="1.2"/>
<line x1="237.7" y1="376.3" x2="420.6" y2="376.3" stroke="#444" stroke-width="1.2"/>
<line x1="237.7" y1="208.70000000000002" x2="237.7" y2="376.90000000000003" stroke="#555" stroke-width="1.3"/>
<line x1="420.6" y1="208.70000000000002" x2="420.6" y2="376.90000000000003" stroke="#555" stroke-width="1.3"/>
<text x="235.6" y="384.76" font-size="8.5" text-anchor="middle" fill="#1a1a1a"  stroke="#1a1a1a">0</text>
<text x="281.7" y="384.76" font-size="8.5" text-anchor="middle" fill="#1a1a1a"  stroke="#1a1a1a">5</text>
<text x="329.8" y="384.76" font-size="8.5" text-anchor="middle" fill="#1a1a1a"  stroke="#1a1a1a">10</text>
<text x="375.3" y="384.76" font-size="8.5" text-anchor="middle" fill="#1a1a1a"  stroke="#1a1a1a">15</text>
<text x="421.2" y="384.76" font-size="8.5" text-anchor="middle" fill="#1a1a1a"  stroke="#1a1a1a">20</text>
<text x="329.3" y="398.5" font-size="8.2" text-anchor="middle" fill="#222" stroke="#222">Voltage (V)</text>
<text transform="translate(250.3,219.9) skewX(-14)" font-size="8.4" fill="#148c3c" stroke="#148c3c">&#955;</text>
<text x="254.9" y="219.9" font-size="7.9" fill="#148c3c" stroke="#148c3c"><tspan font-size="5.2" dy="1.9">peak</tspan><tspan dy="-1.9"> = 555 nm</tspan></text>
<line x1="435.3" y1="376.3" x2="435.3" y2="373.7" stroke="#333" stroke-width="0.7"/>
<line x1="444.51" y1="376.3" x2="444.51" y2="374.8" stroke="#333" stroke-width="0.7"/>
<line x1="453.72" y1="376.3" x2="453.72" y2="374.8" stroke="#333" stroke-width="0.7"/>
<line x1="462.93" y1="376.3" x2="462.93" y2="374.8" stroke="#333" stroke-width="0.7"/>
<line x1="472.14" y1="376.3" x2="472.14" y2="374.8" stroke="#333" stroke-width="0.7"/>
<line x1="481.35" y1="376.3" x2="481.35" y2="373.7" stroke="#333" stroke-width="0.7"/>
<line x1="490.56" y1="376.3" x2="490.56" y2="374.8" stroke="#333" stroke-width="0.7"/>
<line x1="499.77" y1="376.3" x2="499.77" y2="374.8" stroke="#333" stroke-width="0.7"/>
<line x1="508.98" y1="376.3" x2="508.98" y2="374.8" stroke="#333" stroke-width="0.7"/>
<line x1="518.19" y1="376.3" x2="518.19" y2="374.8" stroke="#333" stroke-width="0.7"/>
<line x1="527.4" y1="376.3" x2="527.4" y2="373.7" stroke="#333" stroke-width="0.7"/>
<line x1="536.61" y1="376.3" x2="536.61" y2="374.8" stroke="#333" stroke-width="0.7"/>
<line x1="545.82" y1="376.3" x2="545.82" y2="374.8" stroke="#333" stroke-width="0.7"/>
<line x1="555.03" y1="376.3" x2="555.03" y2="374.8" stroke="#333" stroke-width="0.7"/>
<line x1="564.24" y1="376.3" x2="564.24" y2="374.8" stroke="#333" stroke-width="0.7"/>
<line x1="573.45" y1="376.3" x2="573.45" y2="373.7" stroke="#333" stroke-width="0.7"/>
<line x1="582.66" y1="376.3" x2="582.66" y2="374.8" stroke="#333" stroke-width="0.7"/>
<line x1="591.87" y1="376.3" x2="591.87" y2="374.8" stroke="#333" stroke-width="0.7"/>
<line x1="601.08" y1="376.3" x2="601.08" y2="374.8" stroke="#333" stroke-width="0.7"/>
<line x1="610.29" y1="376.3" x2="610.29" y2="374.8" stroke="#333" stroke-width="0.7"/>
<line x1="619.5" y1="376.3" x2="619.5" y2="373.7" stroke="#333" stroke-width="0.7"/>
<line x1="435.3" y1="376.3" x2="437.9" y2="376.3" stroke="#333" stroke-width="0.7"/>
<line x1="435.3" y1="367.92" x2="436.8" y2="367.92" stroke="#333" stroke-width="0.7"/>
<line x1="435.3" y1="363.02" x2="436.8" y2="363.02" stroke="#333" stroke-width="0.7"/>
<line x1="435.3" y1="359.54" x2="436.8" y2="359.54" stroke="#333" stroke-width="0.7"/>
<line x1="435.3" y1="356.85" x2="436.8" y2="356.85" stroke="#333" stroke-width="0.7"/>
<line x1="435.3" y1="354.64" x2="436.8" y2="354.64" stroke="#333" stroke-width="0.7"/>
<line x1="435.3" y1="352.78" x2="436.8" y2="352.78" stroke="#333" stroke-width="0.7"/>
<line x1="435.3" y1="351.16" x2="436.8" y2="351.16" stroke="#333" stroke-width="0.7"/>
<line x1="435.3" y1="349.74" x2="436.8" y2="349.74" stroke="#333" stroke-width="0.7"/>
<line x1="435.3" y1="348.47" x2="437.9" y2="348.47" stroke="#333" stroke-width="0.7"/>
<line x1="435.3" y1="340.09" x2="436.8" y2="340.09" stroke="#333" stroke-width="0.7"/>
<line x1="435.3" y1="335.19" x2="436.8" y2="335.19" stroke="#333" stroke-width="0.7"/>
<line x1="435.3" y1="331.71" x2="436.8" y2="331.71" stroke="#333" stroke-width="0.7"/>
<line x1="435.3" y1="329.01" x2="436.8" y2="329.01" stroke="#333" stroke-width="0.7"/>
<line x1="435.3" y1="326.81" x2="436.8" y2="326.81" stroke="#333" stroke-width="0.7"/>
<line x1="435.3" y1="324.94" x2="436.8" y2="324.94" stroke="#333" stroke-width="0.7"/>
<line x1="435.3" y1="323.33" x2="436.8" y2="323.33" stroke="#333" stroke-width="0.7"/>
<line x1="435.3" y1="321.91" x2="436.8" y2="321.91" stroke="#333" stroke-width="0.7"/>
<line x1="435.3" y1="320.63" x2="437.9" y2="320.63" stroke="#333" stroke-width="0.7"/>
<line x1="435.3" y1="312.25" x2="436.8" y2="312.25" stroke="#333" stroke-width="0.7"/>
<line x1="435.3" y1="307.35" x2="436.8" y2="307.35" stroke="#333" stroke-width="0.7"/>
<line x1="435.3" y1="303.88" x2="436.8" y2="303.88" stroke="#333" stroke-width="0.7"/>
<line x1="435.3" y1="301.18" x2="436.8" y2="301.18" stroke="#333" stroke-width="0.7"/>
<line x1="435.3" y1="298.97" x2="436.8" y2="298.97" stroke="#333" stroke-width="0.7"/>
<line x1="435.3" y1="297.11" x2="436.8" y2="297.11" stroke="#333" stroke-width="0.7"/>
<line x1="435.3" y1="295.5" x2="436.8" y2="295.5" stroke="#333" stroke-width="0.7"/>
<line x1="435.3" y1="294.07" x2="436.8" y2="294.07" stroke="#333" stroke-width="0.7"/>
<line x1="435.3" y1="292.8" x2="437.9" y2="292.8" stroke="#333" stroke-width="0.7"/>
<line x1="435.3" y1="284.42" x2="436.8" y2="284.42" stroke="#333" stroke-width="0.7"/>
<line x1="435.3" y1="279.52" x2="436.8" y2="279.52" stroke="#333" stroke-width="0.7"/>
<line x1="435.3" y1="276.04" x2="436.8" y2="276.04" stroke="#333" stroke-width="0.7"/>
<line x1="435.3" y1="273.35" x2="436.8" y2="273.35" stroke="#333" stroke-width="0.7"/>
<line x1="435.3" y1="271.14" x2="436.8" y2="271.14" stroke="#333" stroke-width="0.7"/>
<line x1="435.3" y1="269.28" x2="436.8" y2="269.28" stroke="#333" stroke-width="0.7"/>
<line x1="435.3" y1="267.66" x2="436.8" y2="267.66" stroke="#333" stroke-width="0.7"/>
<line x1="435.3" y1="266.24" x2="436.8" y2="266.24" stroke="#333" stroke-width="0.7"/>
<line x1="435.3" y1="264.97" x2="437.9" y2="264.97" stroke="#333" stroke-width="0.7"/>
<line x1="435.3" y1="256.59" x2="436.8" y2="256.59" stroke="#333" stroke-width="0.7"/>
<line x1="435.3" y1="251.69" x2="436.8" y2="251.69" stroke="#333" stroke-width="0.7"/>
<line x1="435.3" y1="248.21" x2="436.8" y2="248.21" stroke="#333" stroke-width="0.7"/>
<line x1="435.3" y1="245.51" x2="436.8" y2="245.51" stroke="#333" stroke-width="0.7"/>
<line x1="435.3" y1="243.31" x2="436.8" y2="243.31" stroke="#333" stroke-width="0.7"/>
<line x1="435.3" y1="241.44" x2="436.8" y2="241.44" stroke="#333" stroke-width="0.7"/>
<line x1="435.3" y1="239.83" x2="436.8" y2="239.83" stroke="#333" stroke-width="0.7"/>
<line x1="435.3" y1="238.41" x2="436.8" y2="238.41" stroke="#333" stroke-width="0.7"/>
<line x1="435.3" y1="237.13" x2="437.9" y2="237.13" stroke="#333" stroke-width="0.7"/>
<line x1="435.3" y1="228.75" x2="436.8" y2="228.75" stroke="#333" stroke-width="0.7"/>
<line x1="435.3" y1="223.85" x2="436.8" y2="223.85" stroke="#333" stroke-width="0.7"/>
<line x1="435.3" y1="220.38" x2="436.8" y2="220.38" stroke="#333" stroke-width="0.7"/>
<line x1="435.3" y1="217.68" x2="436.8" y2="217.68" stroke="#333" stroke-width="0.7"/>
<line x1="435.3" y1="215.47" x2="436.8" y2="215.47" stroke="#333" stroke-width="0.7"/>
<line x1="435.3" y1="213.61" x2="436.8" y2="213.61" stroke="#333" stroke-width="0.7"/>
<line x1="435.3" y1="212" x2="436.8" y2="212" stroke="#333" stroke-width="0.7"/>
<line x1="435.3" y1="210.57" x2="436.8" y2="210.57" stroke="#333" stroke-width="0.7"/>
<line x1="435.3" y1="209.3" x2="619.5" y2="209.3" stroke="#888" stroke-width="1.2"/>
<line x1="435.3" y1="376.3" x2="619.5" y2="376.3" stroke="#444" stroke-width="1.2"/>
<line x1="435.3" y1="208.70000000000002" x2="435.3" y2="376.90000000000003" stroke="#555" stroke-width="1.3"/>
<line x1="619.5" y1="208.70000000000002" x2="619.5" y2="376.90000000000003" stroke="#222" stroke-width="1.3"/>
<text x="435.5" y="384.76" font-size="8.5" text-anchor="middle" fill="#1a1a1a"  stroke="#1a1a1a">0</text>
<text x="481.7" y="384.76" font-size="8.5" text-anchor="middle" fill="#1a1a1a"  stroke="#1a1a1a">5</text>
<text x="530.1" y="384.76" font-size="8.5" text-anchor="middle" fill="#1a1a1a"  stroke="#1a1a1a">10</text>
<text x="576.1" y="384.76" font-size="8.5" text-anchor="middle" fill="#1a1a1a"  stroke="#1a1a1a">15</text>
<text x="621.2" y="384.76" font-size="8.5" text-anchor="middle" fill="#1a1a1a"  stroke="#1a1a1a">20</text>
<text x="524" y="397.3" font-size="8.6" text-anchor="middle" fill="#222" stroke="#222">Voltage (V)</text>
<text transform="translate(447.3,219.9) skewX(-14)" font-size="8.4" fill="#1a70c4" stroke="#1a70c4">&#955;</text>
<text x="451.9" y="219.9" font-size="7.9" fill="#1a70c4" stroke="#1a70c4"><tspan font-size="5.2" dy="1.9">peak</tspan><tspan dy="-1.9"> = 474 nm</tspan></text>
<text x="35.6" y="212.96" font-size="8.5" text-anchor="end" fill="#1a1a1a"  stroke="#1a1a1a">10</text>
<text x="36.4" y="208.7" font-size="5.8" text-anchor="start" fill="#1a1a1a"  stroke="#1a1a1a">7</text>
<text x="35.6" y="268.63" font-size="8.5" text-anchor="end" fill="#1a1a1a"  stroke="#1a1a1a">10</text>
<text x="36.4" y="264.37" font-size="5.8" text-anchor="start" fill="#1a1a1a"  stroke="#1a1a1a">5</text>
<text x="35.6" y="324.29" font-size="8.5" text-anchor="end" fill="#1a1a1a"  stroke="#1a1a1a">10</text>
<text x="36.4" y="320.03" font-size="5.8" text-anchor="start" fill="#1a1a1a"  stroke="#1a1a1a">3</text>
<text x="35.6" y="379.96" font-size="8.5" text-anchor="end" fill="#1a1a1a"  stroke="#1a1a1a">10</text>
<text x="36.4" y="375.7" font-size="5.8" text-anchor="start" fill="#1a1a1a"  stroke="#1a1a1a">1</text>
<text x="11.6" y="218" font-size="12.5" font-weight="bold" fill="#000" stroke="#000">d</text>
<text transform="translate(21.6,293.3) rotate(-90)" font-size="8.4" text-anchor="middle" fill="#1a1a1a" stroke="#1a1a1a">Luminance (cd m<tspan font-size="5.6" dy="-3.2">-2</tspan><tspan dy="3.2">)</tspan></text>
<text x="623.2" y="281.84" font-size="7.6" text-anchor="start" fill="#1a1a1a"  stroke="#1a1a1a">AR</text>
<text x="623.2" y="305.64" font-size="7.6" text-anchor="start" fill="#1a1a1a"  stroke="#1a1a1a">VR&amp;</text>
<text x="623.2" y="314.94" font-size="7.6" text-anchor="start" fill="#1a1a1a"  stroke="#1a1a1a">outdoor lighting</text>
<text x="623.2" y="323.8" font-size="7.6" fill="#222" stroke="#222">(&lt; 1.5&#215; <tspan font-style="italic">V</tspan><tspan font-size="5" dy="1.6">p</tspan><tspan dy="-1.6">)</tspan></text>
<text x="623.2" y="339.14" font-size="7.6" text-anchor="start" fill="#1a1a1a"  stroke="#1a1a1a">indoor lighting</text>
<text x="623.2" y="346.6" font-size="7.6" fill="#222" stroke="#222">(&lt; <tspan font-style="italic">V</tspan><tspan font-size="5" dy="1.6">p</tspan><tspan dy="-1.6">)</tspan></text>
<text x="623.2" y="365.94" font-size="7.6" text-anchor="start" fill="#1a1a1a"  stroke="#1a1a1a">planar display</text>
<text x="623.2" y="372.9" font-size="7.6" fill="#222" stroke="#222">(&lt; <tspan font-style="italic">V</tspan><tspan font-size="5" dy="1.6">p</tspan><tspan dy="-1.6">)</tspan></text>
<path d="M56.8 376.3L57.4 371.3L58.1 352.6L59.4 324.9L60.3 306.4L60.8 292.7L61.8 283.7L62.8 277.2L63.6 272.3L64.6 269.3L64.87 268.23L65.09 267.35L65.35 266.35L65.63 265.31L65.95 264.27L66.3 263.3L66.74 262.22L67.22 261.13L67.61 260.3L68.03 259.47L68.46 258.64L68.92 257.82L69.4 257L70.01 256L70.65 255.01L71.32 254.02L71.85 253.28L72.4 252.54L72.98 251.8L73.59 251.05L74.17 250.36L74.95 249.46L75.57 248.77L76.2 248.07L76.85 247.39L77.52 246.71L78.19 246.06L78.87 245.44L79.77 244.68L80.53 244.12L81.39 243.56L82.3 243.02L83.23 242.52L84.14 242.06L84.99 241.64L86 241.16L86.9 240.7L91.3 239L96 237.8L100.7 236.6L105.3 235.3L109.7 234.4L114.1 234.2L119.2 234.2L123.8 234.2L128.4 234.2L132.9 235.1L137.5 235.9L142.4 236.8L147 237.9L151.5 240.4L156.1 243.7L160.7 245.9L165.2 247L169.8 248.8L174.3 251L178.9 253.2L183.5 256.5L188 258L192.6 259.2L197.2 261.1L201.7 262.5L206.3 263.4L210.8 264.2L215.4 265.3L220.3 267.4L224.8 271.1" fill="none" stroke="#ff1a1a" stroke-width="1.3"/>
<g fill="#ff1a1a"><circle cx="57.4" cy="371.3" r="2.0"/><circle cx="58.1" cy="352.6" r="2.0"/><circle cx="59.4" cy="324.9" r="2.0"/><circle cx="60.3" cy="306.4" r="2.0"/><circle cx="60.8" cy="292.7" r="2.0"/><circle cx="61.8" cy="283.7" r="2.0"/><circle cx="62.8" cy="277.2" r="2.0"/><circle cx="63.6" cy="272.3" r="2.0"/><circle cx="64.6" cy="269.3" r="2.0"/><circle cx="64.87" cy="268.23" r="2.0"/><circle cx="65.09" cy="267.35" r="2.0"/><circle cx="65.35" cy="266.35" r="2.0"/><circle cx="65.63" cy="265.31" r="2.0"/><circle cx="65.95" cy="264.27" r="2.0"/><circle cx="66.3" cy="263.3" r="2.0"/><circle cx="66.74" cy="262.22" r="2.0"/><circle cx="67.22" cy="261.13" r="2.0"/><circle cx="67.61" cy="260.3" r="2.0"/><circle cx="68.03" cy="259.47" r="2.0"/><circle cx="68.46" cy="258.64" r="2.0"/><circle cx="68.92" cy="257.82" r="2.0"/><circle cx="69.4" cy="257" r="2.0"/><circle cx="70.01" cy="256" r="2.0"/><circle cx="70.65" cy="255.01" r="2.0"/><circle cx="71.32" cy="254.02" r="2.0"/><circle cx="71.85" cy="253.28" r="2.0"/><circle cx="72.4" cy="252.54" r="2.0"/><circle cx="72.98" cy="251.8" r="2.0"/><circle cx="73.59" cy="251.05" r="2.0"/><circle cx="74.17" cy="250.36" r="2.0"/><circle cx="74.95" cy="249.46" r="2.0"/><circle cx="75.57" cy="248.77" r="2.0"/><circle cx="76.2" cy="248.07" r="2.0"/><circle cx="76.85" cy="247.39" r="2.0"/><circle cx="77.52" cy="246.71" r="2.0"/><circle cx="78.19" cy="246.06" r="2.0"/><circle cx="78.87" cy="245.44" r="2.0"/><circle cx="79.77" cy="244.68" r="2.0"/><circle cx="80.53" cy="244.12" r="2.0"/><circle cx="81.39" cy="243.56" r="2.0"/><circle cx="82.3" cy="243.02" r="2.0"/><circle cx="83.23" cy="242.52" r="2.0"/><circle cx="84.14" cy="242.06" r="2.0"/><circle cx="84.99" cy="241.64" r="2.0"/><circle cx="86" cy="241.16" r="2.0"/><circle cx="86.9" cy="240.7" r="2.0"/><circle cx="91.3" cy="239" r="2.0"/><circle cx="96" cy="237.8" r="2.0"/><circle cx="100.7" cy="236.6" r="2.0"/><circle cx="105.3" cy="235.3" r="2.0"/><circle cx="109.7" cy="234.4" r="2.0"/><circle cx="114.1" cy="234.2" r="2.0"/><circle cx="119.2" cy="234.2" r="2.0"/><circle cx="123.8" cy="234.2" r="2.0"/><circle cx="128.4" cy="234.2" r="2.0"/><circle cx="132.9" cy="235.1" r="2.0"/><circle cx="137.5" cy="235.9" r="2.0"/><circle cx="142.4" cy="236.8" r="2.0"/><circle cx="147" cy="237.9" r="2.0"/><circle cx="151.5" cy="240.4" r="2.0"/><circle cx="156.1" cy="243.7" r="2.0"/><circle cx="160.7" cy="245.9" r="2.0"/><circle cx="165.2" cy="247" r="2.0"/><circle cx="169.8" cy="248.8" r="2.0"/><circle cx="174.3" cy="251" r="2.0"/><circle cx="178.9" cy="253.2" r="2.0"/><circle cx="183.5" cy="256.5" r="2.0"/><circle cx="188" cy="258" r="2.0"/><circle cx="192.6" cy="259.2" r="2.0"/><circle cx="197.2" cy="261.1" r="2.0"/><circle cx="201.7" cy="262.5" r="2.0"/><circle cx="206.3" cy="263.4" r="2.0"/><circle cx="210.8" cy="264.2" r="2.0"/><circle cx="215.4" cy="265.3" r="2.0"/><circle cx="220.3" cy="267.4" r="2.0"/><circle cx="224.8" cy="271.1" r="2.0"/></g>
<path d="M254 376.3L254.3 368L255.8 362L256.8 345.8L257.5 323.3L258.8 303L259.3 286.8L260 276L261 269.4L262.25 264.75L263 260.6L263.33 259.54L263.61 258.66L263.95 257.66L264.35 256.6L264.71 255.78L265.16 254.75L265.67 253.66L266.08 252.82L266.51 251.96L266.96 251.11L267.44 250.27L267.91 249.5L268.39 248.73L268.89 247.96L269.41 247.18L269.95 246.41L270.5 245.66L271.06 244.92L271.62 244.21L272.2 243.51L272.83 242.8L273.46 242.12L274.1 241.45L274.75 240.81L275.41 240.18L276.09 239.57L276.77 238.95L277.48 238.33L278.28 237.68L279.12 237.02L279.97 236.37L280.79 235.76L281.52 235.21L282.31 234.62L287.6 231.6L292.4 230L297.4 228.6L301.8 227.3L306.4 226.1L311 225.1L315.5 224.6L320.1 224.2L324.6 223.7L329.2 223.7L333.8 223.1L338.3 223.1L342.9 227.3L347.4 227.5L352 227.5L356.6 227.3L361.1 227.1L365.7 227.1L370.3 227.1L374.8 227.3L379.4 227.9L383.9 229.5L388.9 232.4L393.1 235.5L397.6 238.6L402.2 241.6L406.8 243.8L411.3 245.6L415.9 248.3L420.4 259.6" fill="none" stroke="#148c3c" stroke-width="1.3"/>
<g fill="#148c3c"><circle cx="254.3" cy="368" r="2.0"/><circle cx="255.8" cy="362" r="2.0"/><circle cx="256.8" cy="345.8" r="2.0"/><circle cx="257.5" cy="323.3" r="2.0"/><circle cx="258.8" cy="303" r="2.0"/><circle cx="259.3" cy="286.8" r="2.0"/><circle cx="260" cy="276" r="2.0"/><circle cx="261" cy="269.4" r="2.0"/><circle cx="262.25" cy="264.75" r="2.0"/><circle cx="263" cy="260.6" r="2.0"/><circle cx="263.33" cy="259.54" r="2.0"/><circle cx="263.61" cy="258.66" r="2.0"/><circle cx="263.95" cy="257.66" r="2.0"/><circle cx="264.35" cy="256.6" r="2.0"/><circle cx="264.71" cy="255.78" r="2.0"/><circle cx="265.16" cy="254.75" r="2.0"/><circle cx="265.67" cy="253.66" r="2.0"/><circle cx="266.08" cy="252.82" r="2.0"/><circle cx="266.51" cy="251.96" r="2.0"/><circle cx="266.96" cy="251.11" r="2.0"/><circle cx="267.44" cy="250.27" r="2.0"/><circle cx="267.91" cy="249.5" r="2.0"/><circle cx="268.39" cy="248.73" r="2.0"/><circle cx="268.89" cy="247.96" r="2.0"/><circle cx="269.41" cy="247.18" r="2.0"/><circle cx="269.95" cy="246.41" r="2.0"/><circle cx="270.5" cy="245.66" r="2.0"/><circle cx="271.06" cy="244.92" r="2.0"/><circle cx="271.62" cy="244.21" r="2.0"/><circle cx="272.2" cy="243.51" r="2.0"/><circle cx="272.83" cy="242.8" r="2.0"/><circle cx="273.46" cy="242.12" r="2.0"/><circle cx="274.1" cy="241.45" r="2.0"/><circle cx="274.75" cy="240.81" r="2.0"/><circle cx="275.41" cy="240.18" r="2.0"/><circle cx="276.09" cy="239.57" r="2.0"/><circle cx="276.77" cy="238.95" r="2.0"/><circle cx="277.48" cy="238.33" r="2.0"/><circle cx="278.28" cy="237.68" r="2.0"/><circle cx="279.12" cy="237.02" r="2.0"/><circle cx="279.97" cy="236.37" r="2.0"/><circle cx="280.79" cy="235.76" r="2.0"/><circle cx="281.52" cy="235.21" r="2.0"/><circle cx="282.31" cy="234.62" r="2.0"/><circle cx="287.6" cy="231.6" r="2.0"/><circle cx="292.4" cy="230" r="2.0"/><circle cx="297.4" cy="228.6" r="2.0"/><circle cx="301.8" cy="227.3" r="2.0"/><circle cx="306.4" cy="226.1" r="2.0"/><circle cx="311" cy="225.1" r="2.0"/><circle cx="315.5" cy="224.6" r="2.0"/><circle cx="320.1" cy="224.2" r="2.0"/><circle cx="324.6" cy="223.7" r="2.0"/><circle cx="329.2" cy="223.7" r="2.0"/><circle cx="333.8" cy="223.1" r="2.0"/><circle cx="338.3" cy="223.1" r="2.0"/><circle cx="342.9" cy="227.3" r="2.0"/><circle cx="347.4" cy="227.5" r="2.0"/><circle cx="352" cy="227.5" r="2.0"/><circle cx="356.6" cy="227.3" r="2.0"/><circle cx="361.1" cy="227.1" r="2.0"/><circle cx="365.7" cy="227.1" r="2.0"/><circle cx="370.3" cy="227.1" r="2.0"/><circle cx="374.8" cy="227.3" r="2.0"/><circle cx="379.4" cy="227.9" r="2.0"/><circle cx="383.9" cy="229.5" r="2.0"/><circle cx="388.9" cy="232.4" r="2.0"/><circle cx="393.1" cy="235.5" r="2.0"/><circle cx="397.6" cy="238.6" r="2.0"/><circle cx="402.2" cy="241.6" r="2.0"/><circle cx="406.8" cy="243.8" r="2.0"/><circle cx="411.3" cy="245.6" r="2.0"/><circle cx="415.9" cy="248.3" r="2.0"/><circle cx="420.4" cy="259.6" r="2.0"/></g>
<path d="M455.5 376.3L455.7 375.2L457 362.4L457.6 357L458.4 344L459.4 334L460.4 320.4L461.4 310.4L462.1 302.5L462.9 297.5L463.75 293.1L464.4 290L464.71 288.89L464.99 287.95L465.33 286.93L465.71 286L466.18 284.93L466.59 284.08L467.02 283.21L467.48 282.34L467.94 281.51L468.44 280.71L468.96 279.91L469.5 279.13L470.07 278.37L470.65 277.63L471.25 276.9L471.86 276.19L472.48 275.49L473.12 274.81L473.79 274.15L474.5 273.51L475.24 272.92L476.01 272.37L476.86 271.83L477.72 271.32L478.56 270.83L479.57 270.25L480.4 269.76L481.42 269.18L482.35 268.68L486 267L490.7 265L495.2 263.5L499.7 262L504.6 260.5L509.1 259.3L513.7 258.4L518.2 257.8L522.8 256.9L527.4 256.4L531.9 256L536.5 255.4L541.6 255.4L546 255.6L550.5 256.4L555.1 259.6L559.7 262.7L564.2 265.1L568.8 266.9L573.4 267.8L578.1 268.2L582.5 268.8L587.2 269.3L591.8 273.3L596.4 283.9L600.9 284.6L605.5 283.4L610.4 282.1L615 282.4L619.5 285" fill="none" stroke="#1a70c4" stroke-width="1.3"/>
<g fill="#1a70c4"><circle cx="455.7" cy="375.2" r="2.0"/><circle cx="457" cy="362.4" r="2.0"/><circle cx="457.6" cy="357" r="2.0"/><circle cx="458.4" cy="344" r="2.0"/><circle cx="459.4" cy="334" r="2.0"/><circle cx="460.4" cy="320.4" r="2.0"/><circle cx="461.4" cy="310.4" r="2.0"/><circle cx="462.1" cy="302.5" r="2.0"/><circle cx="462.9" cy="297.5" r="2.0"/><circle cx="463.75" cy="293.1" r="2.0"/><circle cx="464.4" cy="290" r="2.0"/><circle cx="464.71" cy="288.89" r="2.0"/><circle cx="464.99" cy="287.95" r="2.0"/><circle cx="465.33" cy="286.93" r="2.0"/><circle cx="465.71" cy="286" r="2.0"/><circle cx="466.18" cy="284.93" r="2.0"/><circle cx="466.59" cy="284.08" r="2.0"/><circle cx="467.02" cy="283.21" r="2.0"/><circle cx="467.48" cy="282.34" r="2.0"/><circle cx="467.94" cy="281.51" r="2.0"/><circle cx="468.44" cy="280.71" r="2.0"/><circle cx="468.96" cy="279.91" r="2.0"/><circle cx="469.5" cy="279.13" r="2.0"/><circle cx="470.07" cy="278.37" r="2.0"/><circle cx="470.65" cy="277.63" r="2.0"/><circle cx="471.25" cy="276.9" r="2.0"/><circle cx="471.86" cy="276.19" r="2.0"/><circle cx="472.48" cy="275.49" r="2.0"/><circle cx="473.12" cy="274.81" r="2.0"/><circle cx="473.79" cy="274.15" r="2.0"/><circle cx="474.5" cy="273.51" r="2.0"/><circle cx="475.24" cy="272.92" r="2.0"/><circle cx="476.01" cy="272.37" r="2.0"/><circle cx="476.86" cy="271.83" r="2.0"/><circle cx="477.72" cy="271.32" r="2.0"/><circle cx="478.56" cy="270.83" r="2.0"/><circle cx="479.57" cy="270.25" r="2.0"/><circle cx="480.4" cy="269.76" r="2.0"/><circle cx="481.42" cy="269.18" r="2.0"/><circle cx="482.35" cy="268.68" r="2.0"/><circle cx="486" cy="267" r="2.0"/><circle cx="490.7" cy="265" r="2.0"/><circle cx="495.2" cy="263.5" r="2.0"/><circle cx="499.7" cy="262" r="2.0"/><circle cx="504.6" cy="260.5" r="2.0"/><circle cx="509.1" cy="259.3" r="2.0"/><circle cx="513.7" cy="258.4" r="2.0"/><circle cx="518.2" cy="257.8" r="2.0"/><circle cx="522.8" cy="256.9" r="2.0"/><circle cx="527.4" cy="256.4" r="2.0"/><circle cx="531.9" cy="256" r="2.0"/><circle cx="536.5" cy="255.4" r="2.0"/><circle cx="541.6" cy="255.4" r="2.0"/><circle cx="546" cy="255.6" r="2.0"/><circle cx="550.5" cy="256.4" r="2.0"/><circle cx="555.1" cy="259.6" r="2.0"/><circle cx="559.7" cy="262.7" r="2.0"/><circle cx="564.2" cy="265.1" r="2.0"/><circle cx="568.8" cy="266.9" r="2.0"/><circle cx="573.4" cy="267.8" r="2.0"/><circle cx="578.1" cy="268.2" r="2.0"/><circle cx="582.5" cy="268.8" r="2.0"/><circle cx="587.2" cy="269.3" r="2.0"/><circle cx="591.8" cy="273.3" r="2.0"/><circle cx="596.4" cy="283.9" r="2.0"/><circle cx="600.9" cy="284.6" r="2.0"/><circle cx="605.5" cy="283.4" r="2.0"/><circle cx="610.4" cy="282.1" r="2.0"/><circle cx="615" cy="282.4" r="2.0"/></g>
<path d="M150.6 233.3H127.5M131.6 230.9L127 233.3L131.6 235.7" fill="none" stroke="#333" stroke-width="0.7"/>
<text x="151.5" y="236" font-size="7.6" fill="#1a1a1a" stroke="#1a1a1a">1,250,000 cd m<tspan font-size="4.8" dy="-2.8">-2</tspan></text>
<path d="M360.2 222.8H341.5M345.6 220.4L341 222.8L345.6 225.2" fill="none" stroke="#333" stroke-width="0.7"/>
<text x="353.8" y="222.2" font-size="7.8" fill="#1a1a1a" stroke="#1a1a1a">3,102,000 cd m<tspan font-size="4.8" dy="-2.8">-2</tspan></text>
<path d="M565.7 253.2H543.5M547.6 250.8L543 253.2L547.6 255.6" fill="none" stroke="#555" stroke-width="0.7"/>
<text x="560.2" y="250.8" font-size="7.7" fill="#1a1a1a" stroke="#1a1a1a">207,000 cd m<tspan font-size="4.8" dy="-2.8">-2</tspan></text>
<rect x="110.6" y="308.1" width="89.9" height="60" fill="#fff"/>
<line x1="110.6" y1="368.1" x2="112.8" y2="368.1" stroke="#000" stroke-width="0.8"/>
<line x1="110.6" y1="365.47" x2="111.8" y2="365.47" stroke="#000" stroke-width="0.8"/>
<line x1="110.6" y1="363.93" x2="111.8" y2="363.93" stroke="#000" stroke-width="0.8"/>
<line x1="110.6" y1="362.83" x2="111.8" y2="362.83" stroke="#000" stroke-width="0.8"/>
<line x1="110.6" y1="361.98" x2="111.8" y2="361.98" stroke="#000" stroke-width="0.8"/>
<line x1="110.6" y1="361.29" x2="111.8" y2="361.29" stroke="#000" stroke-width="0.8"/>
<line x1="110.6" y1="360.71" x2="111.8" y2="360.71" stroke="#000" stroke-width="0.8"/>
<line x1="110.6" y1="360.2" x2="111.8" y2="360.2" stroke="#000" stroke-width="0.8"/>
<line x1="110.6" y1="359.75" x2="111.8" y2="359.75" stroke="#000" stroke-width="0.8"/>
<line x1="110.6" y1="359.35" x2="112.8" y2="359.35" stroke="#000" stroke-width="0.8"/>
<line x1="110.6" y1="356.72" x2="111.8" y2="356.72" stroke="#000" stroke-width="0.8"/>
<line x1="110.6" y1="355.18" x2="111.8" y2="355.18" stroke="#000" stroke-width="0.8"/>
<line x1="110.6" y1="354.08" x2="111.8" y2="354.08" stroke="#000" stroke-width="0.8"/>
<line x1="110.6" y1="353.23" x2="111.8" y2="353.23" stroke="#000" stroke-width="0.8"/>
<line x1="110.6" y1="352.54" x2="111.8" y2="352.54" stroke="#000" stroke-width="0.8"/>
<line x1="110.6" y1="351.96" x2="111.8" y2="351.96" stroke="#000" stroke-width="0.8"/>
<line x1="110.6" y1="351.45" x2="111.8" y2="351.45" stroke="#000" stroke-width="0.8"/>
<line x1="110.6" y1="351" x2="111.8" y2="351" stroke="#000" stroke-width="0.8"/>
<line x1="110.6" y1="350.6" x2="112.8" y2="350.6" stroke="#000" stroke-width="0.8"/>
<line x1="110.6" y1="347.97" x2="111.8" y2="347.97" stroke="#000" stroke-width="0.8"/>
<line x1="110.6" y1="346.43" x2="111.8" y2="346.43" stroke="#000" stroke-width="0.8"/>
<line x1="110.6" y1="345.33" x2="111.8" y2="345.33" stroke="#000" stroke-width="0.8"/>
<line x1="110.6" y1="344.48" x2="111.8" y2="344.48" stroke="#000" stroke-width="0.8"/>
<line x1="110.6" y1="343.79" x2="111.8" y2="343.79" stroke="#000" stroke-width="0.8"/>
<line x1="110.6" y1="343.21" x2="111.8" y2="343.21" stroke="#000" stroke-width="0.8"/>
<line x1="110.6" y1="342.7" x2="111.8" y2="342.7" stroke="#000" stroke-width="0.8"/>
<line x1="110.6" y1="342.25" x2="111.8" y2="342.25" stroke="#000" stroke-width="0.8"/>
<line x1="110.6" y1="341.85" x2="112.8" y2="341.85" stroke="#000" stroke-width="0.8"/>
<line x1="110.6" y1="339.22" x2="111.8" y2="339.22" stroke="#000" stroke-width="0.8"/>
<line x1="110.6" y1="337.68" x2="111.8" y2="337.68" stroke="#000" stroke-width="0.8"/>
<line x1="110.6" y1="336.58" x2="111.8" y2="336.58" stroke="#000" stroke-width="0.8"/>
<line x1="110.6" y1="335.73" x2="111.8" y2="335.73" stroke="#000" stroke-width="0.8"/>
<line x1="110.6" y1="335.04" x2="111.8" y2="335.04" stroke="#000" stroke-width="0.8"/>
<line x1="110.6" y1="334.46" x2="111.8" y2="334.46" stroke="#000" stroke-width="0.8"/>
<line x1="110.6" y1="333.95" x2="111.8" y2="333.95" stroke="#000" stroke-width="0.8"/>
<line x1="110.6" y1="333.5" x2="111.8" y2="333.5" stroke="#000" stroke-width="0.8"/>
<line x1="110.6" y1="333.1" x2="112.8" y2="333.1" stroke="#000" stroke-width="0.8"/>
<line x1="110.6" y1="330.47" x2="111.8" y2="330.47" stroke="#000" stroke-width="0.8"/>
<line x1="110.6" y1="328.93" x2="111.8" y2="328.93" stroke="#000" stroke-width="0.8"/>
<line x1="110.6" y1="327.83" x2="111.8" y2="327.83" stroke="#000" stroke-width="0.8"/>
<line x1="110.6" y1="326.98" x2="111.8" y2="326.98" stroke="#000" stroke-width="0.8"/>
<line x1="110.6" y1="326.29" x2="111.8" y2="326.29" stroke="#000" stroke-width="0.8"/>
<line x1="110.6" y1="325.71" x2="111.8" y2="325.71" stroke="#000" stroke-width="0.8"/>
<line x1="110.6" y1="325.2" x2="111.8" y2="325.2" stroke="#000" stroke-width="0.8"/>
<line x1="110.6" y1="324.75" x2="111.8" y2="324.75" stroke="#000" stroke-width="0.8"/>
<line x1="110.6" y1="324.35" x2="112.8" y2="324.35" stroke="#000" stroke-width="0.8"/>
<line x1="110.6" y1="321.72" x2="111.8" y2="321.72" stroke="#000" stroke-width="0.8"/>
<line x1="110.6" y1="320.18" x2="111.8" y2="320.18" stroke="#000" stroke-width="0.8"/>
<line x1="110.6" y1="319.08" x2="111.8" y2="319.08" stroke="#000" stroke-width="0.8"/>
<line x1="110.6" y1="318.23" x2="111.8" y2="318.23" stroke="#000" stroke-width="0.8"/>
<line x1="110.6" y1="317.54" x2="111.8" y2="317.54" stroke="#000" stroke-width="0.8"/>
<line x1="110.6" y1="316.96" x2="111.8" y2="316.96" stroke="#000" stroke-width="0.8"/>
<line x1="110.6" y1="316.45" x2="111.8" y2="316.45" stroke="#000" stroke-width="0.8"/>
<line x1="110.6" y1="316" x2="111.8" y2="316" stroke="#000" stroke-width="0.8"/>
<line x1="110.6" y1="315.6" x2="112.8" y2="315.6" stroke="#000" stroke-width="0.8"/>
<line x1="110.6" y1="312.97" x2="111.8" y2="312.97" stroke="#000" stroke-width="0.8"/>
<line x1="110.6" y1="311.43" x2="111.8" y2="311.43" stroke="#000" stroke-width="0.8"/>
<line x1="110.6" y1="310.33" x2="111.8" y2="310.33" stroke="#000" stroke-width="0.8"/>
<line x1="110.6" y1="309.48" x2="111.8" y2="309.48" stroke="#000" stroke-width="0.8"/>
<line x1="110.6" y1="308.79" x2="111.8" y2="308.79" stroke="#000" stroke-width="0.8"/>
<line x1="110.6" y1="308.21" x2="111.8" y2="308.21" stroke="#000" stroke-width="0.8"/>
<text x="105.2" y="318.52" font-size="8.1" text-anchor="end" fill="#1a1a1a"  stroke="#1a1a1a">10</text>
<text x="105.3" y="314.3" font-size="5.8" text-anchor="start" fill="#1a1a1a"  stroke="#1a1a1a">3</text>
<text x="105.2" y="336.02" font-size="8.1" text-anchor="end" fill="#1a1a1a"  stroke="#1a1a1a">10</text>
<text x="105.3" y="331.8" font-size="5.8" text-anchor="start" fill="#1a1a1a"  stroke="#1a1a1a">1</text>
<text x="105.2" y="353.52" font-size="8.1" text-anchor="end" fill="#1a1a1a"  stroke="#1a1a1a">10</text>
<text x="105.3" y="349.3" font-size="5.8" text-anchor="start" fill="#1a1a1a"  stroke="#1a1a1a">-1</text>
<text x="105.2" y="371.02" font-size="8.1" text-anchor="end" fill="#1a1a1a"  stroke="#1a1a1a">10</text>
<text x="105.3" y="366.8" font-size="5.8" text-anchor="start" fill="#1a1a1a"  stroke="#1a1a1a">-3</text>
<line x1="110.65" y1="308.1" x2="110.65" y2="310.3" stroke="#000" stroke-width="0.8"/>
<line x1="115.72" y1="308.1" x2="115.72" y2="309.3" stroke="#000" stroke-width="0.8"/>
<line x1="118.69" y1="308.1" x2="118.69" y2="309.3" stroke="#000" stroke-width="0.8"/>
<line x1="120.79" y1="308.1" x2="120.79" y2="309.3" stroke="#000" stroke-width="0.8"/>
<line x1="122.43" y1="308.1" x2="122.43" y2="309.3" stroke="#000" stroke-width="0.8"/>
<line x1="123.76" y1="308.1" x2="123.76" y2="309.3" stroke="#000" stroke-width="0.8"/>
<line x1="124.89" y1="308.1" x2="124.89" y2="309.3" stroke="#000" stroke-width="0.8"/>
<line x1="125.87" y1="308.1" x2="125.87" y2="309.3" stroke="#000" stroke-width="0.8"/>
<line x1="126.73" y1="308.1" x2="126.73" y2="309.3" stroke="#000" stroke-width="0.8"/>
<line x1="127.5" y1="308.1" x2="127.5" y2="310.3" stroke="#000" stroke-width="0.8"/>
<line x1="132.57" y1="308.1" x2="132.57" y2="309.3" stroke="#000" stroke-width="0.8"/>
<line x1="135.54" y1="308.1" x2="135.54" y2="309.3" stroke="#000" stroke-width="0.8"/>
<line x1="137.64" y1="308.1" x2="137.64" y2="309.3" stroke="#000" stroke-width="0.8"/>
<line x1="139.28" y1="308.1" x2="139.28" y2="309.3" stroke="#000" stroke-width="0.8"/>
<line x1="140.61" y1="308.1" x2="140.61" y2="309.3" stroke="#000" stroke-width="0.8"/>
<line x1="141.74" y1="308.1" x2="141.74" y2="309.3" stroke="#000" stroke-width="0.8"/>
<line x1="142.72" y1="308.1" x2="142.72" y2="309.3" stroke="#000" stroke-width="0.8"/>
<line x1="143.58" y1="308.1" x2="143.58" y2="309.3" stroke="#000" stroke-width="0.8"/>
<line x1="144.35" y1="308.1" x2="144.35" y2="310.3" stroke="#000" stroke-width="0.8"/>
<line x1="149.42" y1="308.1" x2="149.42" y2="309.3" stroke="#000" stroke-width="0.8"/>
<line x1="152.39" y1="308.1" x2="152.39" y2="309.3" stroke="#000" stroke-width="0.8"/>
<line x1="154.49" y1="308.1" x2="154.49" y2="309.3" stroke="#000" stroke-width="0.8"/>
<line x1="156.13" y1="308.1" x2="156.13" y2="309.3" stroke="#000" stroke-width="0.8"/>
<line x1="157.46" y1="308.1" x2="157.46" y2="309.3" stroke="#000" stroke-width="0.8"/>
<line x1="158.59" y1="308.1" x2="158.59" y2="309.3" stroke="#000" stroke-width="0.8"/>
<line x1="159.57" y1="308.1" x2="159.57" y2="309.3" stroke="#000" stroke-width="0.8"/>
<line x1="160.43" y1="308.1" x2="160.43" y2="309.3" stroke="#000" stroke-width="0.8"/>
<line x1="161.2" y1="308.1" x2="161.2" y2="310.3" stroke="#000" stroke-width="0.8"/>
<line x1="166.27" y1="308.1" x2="166.27" y2="309.3" stroke="#000" stroke-width="0.8"/>
<line x1="169.24" y1="308.1" x2="169.24" y2="309.3" stroke="#000" stroke-width="0.8"/>
<line x1="171.34" y1="308.1" x2="171.34" y2="309.3" stroke="#000" stroke-width="0.8"/>
<line x1="172.98" y1="308.1" x2="172.98" y2="309.3" stroke="#000" stroke-width="0.8"/>
<line x1="174.31" y1="308.1" x2="174.31" y2="309.3" stroke="#000" stroke-width="0.8"/>
<line x1="175.44" y1="308.1" x2="175.44" y2="309.3" stroke="#000" stroke-width="0.8"/>
<line x1="176.42" y1="308.1" x2="176.42" y2="309.3" stroke="#000" stroke-width="0.8"/>
<line x1="177.28" y1="308.1" x2="177.28" y2="309.3" stroke="#000" stroke-width="0.8"/>
<line x1="178.05" y1="308.1" x2="178.05" y2="310.3" stroke="#000" stroke-width="0.8"/>
<line x1="183.12" y1="308.1" x2="183.12" y2="309.3" stroke="#000" stroke-width="0.8"/>
<line x1="186.09" y1="308.1" x2="186.09" y2="309.3" stroke="#000" stroke-width="0.8"/>
<line x1="188.19" y1="308.1" x2="188.19" y2="309.3" stroke="#000" stroke-width="0.8"/>
<line x1="189.83" y1="308.1" x2="189.83" y2="309.3" stroke="#000" stroke-width="0.8"/>
<line x1="191.16" y1="308.1" x2="191.16" y2="309.3" stroke="#000" stroke-width="0.8"/>
<line x1="192.29" y1="308.1" x2="192.29" y2="309.3" stroke="#000" stroke-width="0.8"/>
<line x1="193.27" y1="308.1" x2="193.27" y2="309.3" stroke="#000" stroke-width="0.8"/>
<line x1="194.13" y1="308.1" x2="194.13" y2="309.3" stroke="#000" stroke-width="0.8"/>
<line x1="194.9" y1="308.1" x2="194.9" y2="310.3" stroke="#000" stroke-width="0.8"/>
<line x1="199.97" y1="308.1" x2="199.97" y2="309.3" stroke="#000" stroke-width="0.8"/>
<text x="127.5" y="306.62" font-size="8.4" text-anchor="middle" fill="#1a1a1a"  stroke="#1a1a1a">10</text>
<text x="132.2" y="304.4" font-size="5.8" text-anchor="start" fill="#1a1a1a"  stroke="#1a1a1a">2</text>
<text x="161.2" y="306.62" font-size="8.4" text-anchor="middle" fill="#1a1a1a"  stroke="#1a1a1a">10</text>
<text x="165.9" y="304.4" font-size="5.8" text-anchor="start" fill="#1a1a1a"  stroke="#1a1a1a">4</text>
<text x="191.8" y="306.62" font-size="8.4" text-anchor="middle" fill="#1a1a1a"  stroke="#1a1a1a">10</text>
<text x="196.5" y="304.4" font-size="5.8" text-anchor="start" fill="#1a1a1a"  stroke="#1a1a1a">6</text>
<line x1="110.6" y1="368.1" x2="110.6" y2="366.9" stroke="#000" stroke-width="0.8"/>
<line x1="112.9" y1="368.1" x2="112.9" y2="366.9" stroke="#000" stroke-width="0.8"/>
<line x1="115.2" y1="368.1" x2="115.2" y2="366.9" stroke="#000" stroke-width="0.8"/>
<line x1="117.5" y1="368.1" x2="117.5" y2="366.9" stroke="#000" stroke-width="0.8"/>
<line x1="119.8" y1="368.1" x2="119.8" y2="366.9" stroke="#000" stroke-width="0.8"/>
<line x1="122.1" y1="368.1" x2="122.1" y2="366.9" stroke="#000" stroke-width="0.8"/>
<line x1="124.4" y1="368.1" x2="124.4" y2="366.9" stroke="#000" stroke-width="0.8"/>
<line x1="126.7" y1="368.1" x2="126.7" y2="366.9" stroke="#000" stroke-width="0.8"/>
<line x1="129" y1="368.1" x2="129" y2="366.9" stroke="#000" stroke-width="0.8"/>
<line x1="131.3" y1="368.1" x2="131.3" y2="366.9" stroke="#000" stroke-width="0.8"/>
<line x1="133.6" y1="368.1" x2="133.6" y2="366.9" stroke="#000" stroke-width="0.8"/>
<line x1="135.9" y1="368.1" x2="135.9" y2="366.9" stroke="#000" stroke-width="0.8"/>
<line x1="138.2" y1="368.1" x2="138.2" y2="366.9" stroke="#000" stroke-width="0.8"/>
<line x1="140.5" y1="368.1" x2="140.5" y2="366.9" stroke="#000" stroke-width="0.8"/>
<line x1="142.8" y1="368.1" x2="142.8" y2="366.9" stroke="#000" stroke-width="0.8"/>
<line x1="145.1" y1="368.1" x2="145.1" y2="366.9" stroke="#000" stroke-width="0.8"/>
<line x1="147.4" y1="368.1" x2="147.4" y2="366.9" stroke="#000" stroke-width="0.8"/>
<line x1="149.7" y1="368.1" x2="149.7" y2="366.9" stroke="#000" stroke-width="0.8"/>
<line x1="152" y1="368.1" x2="152" y2="366.9" stroke="#000" stroke-width="0.8"/>
<line x1="154.3" y1="368.1" x2="154.3" y2="366.9" stroke="#000" stroke-width="0.8"/>
<line x1="156.6" y1="368.1" x2="156.6" y2="366.9" stroke="#000" stroke-width="0.8"/>
<line x1="158.9" y1="368.1" x2="158.9" y2="366.9" stroke="#000" stroke-width="0.8"/>
<line x1="161.2" y1="368.1" x2="161.2" y2="366.9" stroke="#000" stroke-width="0.8"/>
<line x1="163.5" y1="368.1" x2="163.5" y2="366.9" stroke="#000" stroke-width="0.8"/>
<line x1="165.8" y1="368.1" x2="165.8" y2="366.9" stroke="#000" stroke-width="0.8"/>
<line x1="168.1" y1="368.1" x2="168.1" y2="366.9" stroke="#000" stroke-width="0.8"/>
<line x1="170.4" y1="368.1" x2="170.4" y2="366.9" stroke="#000" stroke-width="0.8"/>
<line x1="172.7" y1="368.1" x2="172.7" y2="366.9" stroke="#000" stroke-width="0.8"/>
<line x1="175" y1="368.1" x2="175" y2="366.9" stroke="#000" stroke-width="0.8"/>
<line x1="177.3" y1="368.1" x2="177.3" y2="366.9" stroke="#000" stroke-width="0.8"/>
<line x1="179.6" y1="368.1" x2="179.6" y2="366.9" stroke="#000" stroke-width="0.8"/>
<line x1="181.9" y1="368.1" x2="181.9" y2="366.9" stroke="#000" stroke-width="0.8"/>
<line x1="184.2" y1="368.1" x2="184.2" y2="366.9" stroke="#000" stroke-width="0.8"/>
<line x1="186.5" y1="368.1" x2="186.5" y2="366.9" stroke="#000" stroke-width="0.8"/>
<line x1="188.8" y1="368.1" x2="188.8" y2="366.9" stroke="#000" stroke-width="0.8"/>
<line x1="191.1" y1="368.1" x2="191.1" y2="366.9" stroke="#000" stroke-width="0.8"/>
<line x1="193.4" y1="368.1" x2="193.4" y2="366.9" stroke="#000" stroke-width="0.8"/>
<line x1="195.7" y1="368.1" x2="195.7" y2="366.9" stroke="#000" stroke-width="0.8"/>
<line x1="198" y1="368.1" x2="198" y2="366.9" stroke="#000" stroke-width="0.8"/>
<line x1="200.3" y1="368.1" x2="200.3" y2="366.9" stroke="#000" stroke-width="0.8"/>
<text x="136.2" y="295.8" font-size="8.4" fill="#1a1a1a" stroke="#1a1a1a"><tspan font-style="italic">L</tspan> (cd m<tspan font-size="5.4" dy="-3">-2</tspan><tspan dy="3">)</tspan></text>
<text x="201.7" y="311.99" font-size="8.3" text-anchor="start" fill="#ff1a1a"  stroke="#ff1a1a">30</text>
<text x="201.7" y="332.09" font-size="8.3" text-anchor="start" fill="#ff1a1a"  stroke="#ff1a1a">20</text>
<text x="201.7" y="351.49" font-size="8.3" text-anchor="start" fill="#ff1a1a"  stroke="#ff1a1a">10</text>
<text x="201.7" y="368.29" font-size="8.3" text-anchor="start" fill="#ff1a1a"  stroke="#ff1a1a">0</text>
<line x1="200.5" y1="368.1" x2="198.3" y2="368.1" stroke="#ff1a1a" stroke-width="0.6"/>
<line x1="200.5" y1="358.1" x2="199.3" y2="358.1" stroke="#ff1a1a" stroke-width="0.6"/>
<line x1="200.5" y1="348.1" x2="198.3" y2="348.1" stroke="#ff1a1a" stroke-width="0.6"/>
<line x1="200.5" y1="338.1" x2="199.3" y2="338.1" stroke="#ff1a1a" stroke-width="0.6"/>
<line x1="200.5" y1="328.1" x2="198.3" y2="328.1" stroke="#ff1a1a" stroke-width="0.6"/>
<line x1="200.5" y1="318.1" x2="199.3" y2="318.1" stroke="#ff1a1a" stroke-width="0.6"/>
<line x1="200.5" y1="308.1" x2="198.3" y2="308.1" stroke="#ff1a1a" stroke-width="0.6"/>
<text transform="translate(222.1,338.5) rotate(-90)" font-size="9" text-anchor="middle" fill="#ff1a1a" stroke="#ff1a1a">EQE (%)</text>
<text transform="translate(93.1,333.6) rotate(-90)" font-size="8.4" text-anchor="middle" fill="#1a1a1a" stroke="#1a1a1a"><tspan font-style="italic">J</tspan> (mA cm<tspan font-size="5.4" dy="-3">-2</tspan><tspan dy="3">)</tspan></text>
<path d="M110.6 355L116.1 352.3L122.4 348.3L127.8 345.9L135 343.8L142.2 341.4L151.2 336.9L162.1 331.5L172.9 326.1L183.7 319.8L190 315.5L194.5 310.5" fill="none" stroke="#000" stroke-width="1.6" stroke-linejoin="round"/>
<path d="M111.6 368.1L114 366.5L117 362.2L122.4 348.6L127.8 334.2L133.2 323.4L137.7 316.2L141.3 312.6L146.7 311.2L154.8 310.8L165.7 310.5L174.7 311.7L181.9 316.2L187.3 323.4L191.8 332.4L193.6 339.6L194.1 346.8" fill="none" stroke="#ff1a1a" stroke-width="1.6" stroke-linejoin="round"/>
<path d="M200.5 308.1H110.6V368.1H200.5" fill="none" stroke="#111" stroke-width="1.1"/>
<line x1="200.5" y1="308.1" x2="200.5" y2="368.1" stroke="#ff1a1a" stroke-width="1.1"/>
<ellipse cx="136.8" cy="319.8" rx="3.6" ry="6.3" fill="none" stroke="#ff1a1a" stroke-width="0.75" stroke-dasharray="1.5 0.9"/>
<ellipse cx="144" cy="339.6" rx="3.0" ry="6.3" fill="none" stroke="#222" stroke-width="0.75" stroke-dasharray="1.5 0.9"/>
<path d="M141.3 314.4H150.3" stroke="#ff1a1a" stroke-width="0.6"/><path d="M150.3 314.4l-3 -1.5v3z" fill="#ff1a1a"/>
<path d="M141.3 334.2H130.5" stroke="#000" stroke-width="0.8"/><path d="M130.5 334.2l3 -1.5v3z" fill="#222"/>
<rect x="298.9" y="308.1" width="89" height="60" fill="#fff"/>
<line x1="298.9" y1="368.1" x2="301.1" y2="368.1" stroke="#000" stroke-width="0.8"/>
<line x1="298.9" y1="365.47" x2="300.1" y2="365.47" stroke="#000" stroke-width="0.8"/>
<line x1="298.9" y1="363.93" x2="300.1" y2="363.93" stroke="#000" stroke-width="0.8"/>
<line x1="298.9" y1="362.83" x2="300.1" y2="362.83" stroke="#000" stroke-width="0.8"/>
<line x1="298.9" y1="361.98" x2="300.1" y2="361.98" stroke="#000" stroke-width="0.8"/>
<line x1="298.9" y1="361.29" x2="300.1" y2="361.29" stroke="#000" stroke-width="0.8"/>
<line x1="298.9" y1="360.71" x2="300.1" y2="360.71" stroke="#000" stroke-width="0.8"/>
<line x1="298.9" y1="360.2" x2="300.1" y2="360.2" stroke="#000" stroke-width="0.8"/>
<line x1="298.9" y1="359.75" x2="300.1" y2="359.75" stroke="#000" stroke-width="0.8"/>
<line x1="298.9" y1="359.35" x2="301.1" y2="359.35" stroke="#000" stroke-width="0.8"/>
<line x1="298.9" y1="356.72" x2="300.1" y2="356.72" stroke="#000" stroke-width="0.8"/>
<line x1="298.9" y1="355.18" x2="300.1" y2="355.18" stroke="#000" stroke-width="0.8"/>
<line x1="298.9" y1="354.08" x2="300.1" y2="354.08" stroke="#000" stroke-width="0.8"/>
<line x1="298.9" y1="353.23" x2="300.1" y2="353.23" stroke="#000" stroke-width="0.8"/>
<line x1="298.9" y1="352.54" x2="300.1" y2="352.54" stroke="#000" stroke-width="0.8"/>
<line x1="298.9" y1="351.96" x2="300.1" y2="351.96" stroke="#000" stroke-width="0.8"/>
<line x1="298.9" y1="351.45" x2="300.1" y2="351.45" stroke="#000" stroke-width="0.8"/>
<line x1="298.9" y1="351" x2="300.1" y2="351" stroke="#000" stroke-width="0.8"/>
<line x1="298.9" y1="350.6" x2="301.1" y2="350.6" stroke="#000" stroke-width="0.8"/>
<line x1="298.9" y1="347.97" x2="300.1" y2="347.97" stroke="#000" stroke-width="0.8"/>
<line x1="298.9" y1="346.43" x2="300.1" y2="346.43" stroke="#000" stroke-width="0.8"/>
<line x1="298.9" y1="345.33" x2="300.1" y2="345.33" stroke="#000" stroke-width="0.8"/>
<line x1="298.9" y1="344.48" x2="300.1" y2="344.48" stroke="#000" stroke-width="0.8"/>
<line x1="298.9" y1="343.79" x2="300.1" y2="343.79" stroke="#000" stroke-width="0.8"/>
<line x1="298.9" y1="343.21" x2="300.1" y2="343.21" stroke="#000" stroke-width="0.8"/>
<line x1="298.9" y1="342.7" x2="300.1" y2="342.7" stroke="#000" stroke-width="0.8"/>
<line x1="298.9" y1="342.25" x2="300.1" y2="342.25" stroke="#000" stroke-width="0.8"/>
<line x1="298.9" y1="341.85" x2="301.1" y2="341.85" stroke="#000" stroke-width="0.8"/>
<line x1="298.9" y1="339.22" x2="300.1" y2="339.22" stroke="#000" stroke-width="0.8"/>
<line x1="298.9" y1="337.68" x2="300.1" y2="337.68" stroke="#000" stroke-width="0.8"/>
<line x1="298.9" y1="336.58" x2="300.1" y2="336.58" stroke="#000" stroke-width="0.8"/>
<line x1="298.9" y1="335.73" x2="300.1" y2="335.73" stroke="#000" stroke-width="0.8"/>
<line x1="298.9" y1="335.04" x2="300.1" y2="335.04" stroke="#000" stroke-width="0.8"/>
<line x1="298.9" y1="334.46" x2="300.1" y2="334.46" stroke="#000" stroke-width="0.8"/>
<line x1="298.9" y1="333.95" x2="300.1" y2="333.95" stroke="#000" stroke-width="0.8"/>
<line x1="298.9" y1="333.5" x2="300.1" y2="333.5" stroke="#000" stroke-width="0.8"/>
<line x1="298.9" y1="333.1" x2="301.1" y2="333.1" stroke="#000" stroke-width="0.8"/>
<line x1="298.9" y1="330.47" x2="300.1" y2="330.47" stroke="#000" stroke-width="0.8"/>
<line x1="298.9" y1="328.93" x2="300.1" y2="328.93" stroke="#000" stroke-width="0.8"/>
<line x1="298.9" y1="327.83" x2="300.1" y2="327.83" stroke="#000" stroke-width="0.8"/>
<line x1="298.9" y1="326.98" x2="300.1" y2="326.98" stroke="#000" stroke-width="0.8"/>
<line x1="298.9" y1="326.29" x2="300.1" y2="326.29" stroke="#000" stroke-width="0.8"/>
<line x1="298.9" y1="325.71" x2="300.1" y2="325.71" stroke="#000" stroke-width="0.8"/>
<line x1="298.9" y1="325.2" x2="300.1" y2="325.2" stroke="#000" stroke-width="0.8"/>
<line x1="298.9" y1="324.75" x2="300.1" y2="324.75" stroke="#000" stroke-width="0.8"/>
<line x1="298.9" y1="324.35" x2="301.1" y2="324.35" stroke="#000" stroke-width="0.8"/>
<line x1="298.9" y1="321.72" x2="300.1" y2="321.72" stroke="#000" stroke-width="0.8"/>
<line x1="298.9" y1="320.18" x2="300.1" y2="320.18" stroke="#000" stroke-width="0.8"/>
<line x1="298.9" y1="319.08" x2="300.1" y2="319.08" stroke="#000" stroke-width="0.8"/>
<line x1="298.9" y1="318.23" x2="300.1" y2="318.23" stroke="#000" stroke-width="0.8"/>
<line x1="298.9" y1="317.54" x2="300.1" y2="317.54" stroke="#000" stroke-width="0.8"/>
<line x1="298.9" y1="316.96" x2="300.1" y2="316.96" stroke="#000" stroke-width="0.8"/>
<line x1="298.9" y1="316.45" x2="300.1" y2="316.45" stroke="#000" stroke-width="0.8"/>
<line x1="298.9" y1="316" x2="300.1" y2="316" stroke="#000" stroke-width="0.8"/>
<line x1="298.9" y1="315.6" x2="301.1" y2="315.6" stroke="#000" stroke-width="0.8"/>
<line x1="298.9" y1="312.97" x2="300.1" y2="312.97" stroke="#000" stroke-width="0.8"/>
<line x1="298.9" y1="311.43" x2="300.1" y2="311.43" stroke="#000" stroke-width="0.8"/>
<line x1="298.9" y1="310.33" x2="300.1" y2="310.33" stroke="#000" stroke-width="0.8"/>
<line x1="298.9" y1="309.48" x2="300.1" y2="309.48" stroke="#000" stroke-width="0.8"/>
<line x1="298.9" y1="308.79" x2="300.1" y2="308.79" stroke="#000" stroke-width="0.8"/>
<line x1="298.9" y1="308.21" x2="300.1" y2="308.21" stroke="#000" stroke-width="0.8"/>
<text x="293.5" y="318.52" font-size="8.1" text-anchor="end" fill="#1a1a1a"  stroke="#1a1a1a">10</text>
<text x="293.6" y="314.3" font-size="5.8" text-anchor="start" fill="#1a1a1a"  stroke="#1a1a1a">3</text>
<text x="293.5" y="336.02" font-size="8.1" text-anchor="end" fill="#1a1a1a"  stroke="#1a1a1a">10</text>
<text x="293.6" y="331.8" font-size="5.8" text-anchor="start" fill="#1a1a1a"  stroke="#1a1a1a">1</text>
<text x="293.5" y="353.52" font-size="8.1" text-anchor="end" fill="#1a1a1a"  stroke="#1a1a1a">10</text>
<text x="293.6" y="349.3" font-size="5.8" text-anchor="start" fill="#1a1a1a"  stroke="#1a1a1a">-1</text>
<text x="293.5" y="371.02" font-size="8.1" text-anchor="end" fill="#1a1a1a"  stroke="#1a1a1a">10</text>
<text x="293.6" y="366.8" font-size="5.8" text-anchor="start" fill="#1a1a1a"  stroke="#1a1a1a">-3</text>
<line x1="301.1" y1="308.1" x2="301.1" y2="309.3" stroke="#000" stroke-width="0.8"/>
<line x1="304" y1="308.1" x2="304" y2="309.3" stroke="#000" stroke-width="0.8"/>
<line x1="306.05" y1="308.1" x2="306.05" y2="309.3" stroke="#000" stroke-width="0.8"/>
<line x1="307.65" y1="308.1" x2="307.65" y2="309.3" stroke="#000" stroke-width="0.8"/>
<line x1="308.95" y1="308.1" x2="308.95" y2="309.3" stroke="#000" stroke-width="0.8"/>
<line x1="310.05" y1="308.1" x2="310.05" y2="309.3" stroke="#000" stroke-width="0.8"/>
<line x1="311.01" y1="308.1" x2="311.01" y2="309.3" stroke="#000" stroke-width="0.8"/>
<line x1="311.85" y1="308.1" x2="311.85" y2="309.3" stroke="#000" stroke-width="0.8"/>
<line x1="312.6" y1="308.1" x2="312.6" y2="310.3" stroke="#000" stroke-width="0.8"/>
<line x1="317.55" y1="308.1" x2="317.55" y2="309.3" stroke="#000" stroke-width="0.8"/>
<line x1="320.45" y1="308.1" x2="320.45" y2="309.3" stroke="#000" stroke-width="0.8"/>
<line x1="322.5" y1="308.1" x2="322.5" y2="309.3" stroke="#000" stroke-width="0.8"/>
<line x1="324.1" y1="308.1" x2="324.1" y2="309.3" stroke="#000" stroke-width="0.8"/>
<line x1="325.4" y1="308.1" x2="325.4" y2="309.3" stroke="#000" stroke-width="0.8"/>
<line x1="326.5" y1="308.1" x2="326.5" y2="309.3" stroke="#000" stroke-width="0.8"/>
<line x1="327.46" y1="308.1" x2="327.46" y2="309.3" stroke="#000" stroke-width="0.8"/>
<line x1="328.3" y1="308.1" x2="328.3" y2="309.3" stroke="#000" stroke-width="0.8"/>
<line x1="329.05" y1="308.1" x2="329.05" y2="310.3" stroke="#000" stroke-width="0.8"/>
<line x1="334" y1="308.1" x2="334" y2="309.3" stroke="#000" stroke-width="0.8"/>
<line x1="336.9" y1="308.1" x2="336.9" y2="309.3" stroke="#000" stroke-width="0.8"/>
<line x1="338.95" y1="308.1" x2="338.95" y2="309.3" stroke="#000" stroke-width="0.8"/>
<line x1="340.55" y1="308.1" x2="340.55" y2="309.3" stroke="#000" stroke-width="0.8"/>
<line x1="341.85" y1="308.1" x2="341.85" y2="309.3" stroke="#000" stroke-width="0.8"/>
<line x1="342.95" y1="308.1" x2="342.95" y2="309.3" stroke="#000" stroke-width="0.8"/>
<line x1="343.91" y1="308.1" x2="343.91" y2="309.3" stroke="#000" stroke-width="0.8"/>
<line x1="344.75" y1="308.1" x2="344.75" y2="309.3" stroke="#000" stroke-width="0.8"/>
<line x1="345.5" y1="308.1" x2="345.5" y2="310.3" stroke="#000" stroke-width="0.8"/>
<line x1="350.45" y1="308.1" x2="350.45" y2="309.3" stroke="#000" stroke-width="0.8"/>
<line x1="353.35" y1="308.1" x2="353.35" y2="309.3" stroke="#000" stroke-width="0.8"/>
<line x1="355.4" y1="308.1" x2="355.4" y2="309.3" stroke="#000" stroke-width="0.8"/>
<line x1="357" y1="308.1" x2="357" y2="309.3" stroke="#000" stroke-width="0.8"/>
<line x1="358.3" y1="308.1" x2="358.3" y2="309.3" stroke="#000" stroke-width="0.8"/>
<line x1="359.4" y1="308.1" x2="359.4" y2="309.3" stroke="#000" stroke-width="0.8"/>
<line x1="360.36" y1="308.1" x2="360.36" y2="309.3" stroke="#000" stroke-width="0.8"/>
<line x1="361.2" y1="308.1" x2="361.2" y2="309.3" stroke="#000" stroke-width="0.8"/>
<line x1="361.95" y1="308.1" x2="361.95" y2="310.3" stroke="#000" stroke-width="0.8"/>
<line x1="366.9" y1="308.1" x2="366.9" y2="309.3" stroke="#000" stroke-width="0.8"/>
<line x1="369.8" y1="308.1" x2="369.8" y2="309.3" stroke="#000" stroke-width="0.8"/>
<line x1="371.85" y1="308.1" x2="371.85" y2="309.3" stroke="#000" stroke-width="0.8"/>
<line x1="373.45" y1="308.1" x2="373.45" y2="309.3" stroke="#000" stroke-width="0.8"/>
<line x1="374.75" y1="308.1" x2="374.75" y2="309.3" stroke="#000" stroke-width="0.8"/>
<line x1="375.85" y1="308.1" x2="375.85" y2="309.3" stroke="#000" stroke-width="0.8"/>
<line x1="376.81" y1="308.1" x2="376.81" y2="309.3" stroke="#000" stroke-width="0.8"/>
<line x1="377.65" y1="308.1" x2="377.65" y2="309.3" stroke="#000" stroke-width="0.8"/>
<line x1="378.4" y1="308.1" x2="378.4" y2="310.3" stroke="#000" stroke-width="0.8"/>
<line x1="383.35" y1="308.1" x2="383.35" y2="309.3" stroke="#000" stroke-width="0.8"/>
<line x1="386.25" y1="308.1" x2="386.25" y2="309.3" stroke="#000" stroke-width="0.8"/>
<text x="312.6" y="306.62" font-size="8.4" text-anchor="middle" fill="#1a1a1a"  stroke="#1a1a1a">10</text>
<text x="317.3" y="304.4" font-size="5.8" text-anchor="start" fill="#1a1a1a"  stroke="#1a1a1a">2</text>
<text x="345.5" y="306.62" font-size="8.4" text-anchor="middle" fill="#1a1a1a"  stroke="#1a1a1a">10</text>
<text x="350.2" y="304.4" font-size="5.8" text-anchor="start" fill="#1a1a1a"  stroke="#1a1a1a">4</text>
<text x="378.9" y="306.62" font-size="8.4" text-anchor="middle" fill="#1a1a1a"  stroke="#1a1a1a">10</text>
<text x="383.6" y="304.4" font-size="5.8" text-anchor="start" fill="#1a1a1a"  stroke="#1a1a1a">6</text>
<line x1="298.9" y1="368.1" x2="298.9" y2="366.9" stroke="#000" stroke-width="0.8"/>
<line x1="301.2" y1="368.1" x2="301.2" y2="366.9" stroke="#000" stroke-width="0.8"/>
<line x1="303.5" y1="368.1" x2="303.5" y2="366.9" stroke="#000" stroke-width="0.8"/>
<line x1="305.8" y1="368.1" x2="305.8" y2="366.9" stroke="#000" stroke-width="0.8"/>
<line x1="308.1" y1="368.1" x2="308.1" y2="366.9" stroke="#000" stroke-width="0.8"/>
<line x1="310.4" y1="368.1" x2="310.4" y2="366.9" stroke="#000" stroke-width="0.8"/>
<line x1="312.7" y1="368.1" x2="312.7" y2="366.9" stroke="#000" stroke-width="0.8"/>
<line x1="315" y1="368.1" x2="315" y2="366.9" stroke="#000" stroke-width="0.8"/>
<line x1="317.3" y1="368.1" x2="317.3" y2="366.9" stroke="#000" stroke-width="0.8"/>
<line x1="319.6" y1="368.1" x2="319.6" y2="366.9" stroke="#000" stroke-width="0.8"/>
<line x1="321.9" y1="368.1" x2="321.9" y2="366.9" stroke="#000" stroke-width="0.8"/>
<line x1="324.2" y1="368.1" x2="324.2" y2="366.9" stroke="#000" stroke-width="0.8"/>
<line x1="326.5" y1="368.1" x2="326.5" y2="366.9" stroke="#000" stroke-width="0.8"/>
<line x1="328.8" y1="368.1" x2="328.8" y2="366.9" stroke="#000" stroke-width="0.8"/>
<line x1="331.1" y1="368.1" x2="331.1" y2="366.9" stroke="#000" stroke-width="0.8"/>
<line x1="333.4" y1="368.1" x2="333.4" y2="366.9" stroke="#000" stroke-width="0.8"/>
<line x1="335.7" y1="368.1" x2="335.7" y2="366.9" stroke="#000" stroke-width="0.8"/>
<line x1="338" y1="368.1" x2="338" y2="366.9" stroke="#000" stroke-width="0.8"/>
<line x1="340.3" y1="368.1" x2="340.3" y2="366.9" stroke="#000" stroke-width="0.8"/>
<line x1="342.6" y1="368.1" x2="342.6" y2="366.9" stroke="#000" stroke-width="0.8"/>
<line x1="344.9" y1="368.1" x2="344.9" y2="366.9" stroke="#000" stroke-width="0.8"/>
<line x1="347.2" y1="368.1" x2="347.2" y2="366.9" stroke="#000" stroke-width="0.8"/>
<line x1="349.5" y1="368.1" x2="349.5" y2="366.9" stroke="#000" stroke-width="0.8"/>
<line x1="351.8" y1="368.1" x2="351.8" y2="366.9" stroke="#000" stroke-width="0.8"/>
<line x1="354.1" y1="368.1" x2="354.1" y2="366.9" stroke="#000" stroke-width="0.8"/>
<line x1="356.4" y1="368.1" x2="356.4" y2="366.9" stroke="#000" stroke-width="0.8"/>
<line x1="358.7" y1="368.1" x2="358.7" y2="366.9" stroke="#000" stroke-width="0.8"/>
<line x1="361" y1="368.1" x2="361" y2="366.9" stroke="#000" stroke-width="0.8"/>
<line x1="363.3" y1="368.1" x2="363.3" y2="366.9" stroke="#000" stroke-width="0.8"/>
<line x1="365.6" y1="368.1" x2="365.6" y2="366.9" stroke="#000" stroke-width="0.8"/>
<line x1="367.9" y1="368.1" x2="367.9" y2="366.9" stroke="#000" stroke-width="0.8"/>
<line x1="370.2" y1="368.1" x2="370.2" y2="366.9" stroke="#000" stroke-width="0.8"/>
<line x1="372.5" y1="368.1" x2="372.5" y2="366.9" stroke="#000" stroke-width="0.8"/>
<line x1="374.8" y1="368.1" x2="374.8" y2="366.9" stroke="#000" stroke-width="0.8"/>
<line x1="377.1" y1="368.1" x2="377.1" y2="366.9" stroke="#000" stroke-width="0.8"/>
<line x1="379.4" y1="368.1" x2="379.4" y2="366.9" stroke="#000" stroke-width="0.8"/>
<line x1="381.7" y1="368.1" x2="381.7" y2="366.9" stroke="#000" stroke-width="0.8"/>
<line x1="384" y1="368.1" x2="384" y2="366.9" stroke="#000" stroke-width="0.8"/>
<line x1="386.3" y1="368.1" x2="386.3" y2="366.9" stroke="#000" stroke-width="0.8"/>
<text x="326.2" y="295.1" font-size="8.4" fill="#1a1a1a" stroke="#1a1a1a"><tspan font-style="italic">L</tspan> (cd m<tspan font-size="5.4" dy="-3">-2</tspan><tspan dy="3">)</tspan></text>
<text x="389.1" y="315.19" font-size="8.3" text-anchor="start" fill="#148c3c"  stroke="#148c3c">30</text>
<text x="389.1" y="333.89" font-size="8.3" text-anchor="start" fill="#148c3c"  stroke="#148c3c">20</text>
<text x="389.1" y="351.59" font-size="8.3" text-anchor="start" fill="#148c3c"  stroke="#148c3c">10</text>
<text x="389.1" y="370.19" font-size="8.3" text-anchor="start" fill="#148c3c"  stroke="#148c3c">0</text>
<line x1="387.9" y1="368.1" x2="385.7" y2="368.1" stroke="#148c3c" stroke-width="0.6"/>
<line x1="387.9" y1="358.84" x2="386.7" y2="358.84" stroke="#148c3c" stroke-width="0.6"/>
<line x1="387.9" y1="349.58" x2="385.7" y2="349.58" stroke="#148c3c" stroke-width="0.6"/>
<line x1="387.9" y1="340.32" x2="386.7" y2="340.32" stroke="#148c3c" stroke-width="0.6"/>
<line x1="387.9" y1="331.06" x2="385.7" y2="331.06" stroke="#148c3c" stroke-width="0.6"/>
<line x1="387.9" y1="321.8" x2="386.7" y2="321.8" stroke="#148c3c" stroke-width="0.6"/>
<line x1="387.9" y1="312.54" x2="385.7" y2="312.54" stroke="#148c3c" stroke-width="0.6"/>
<text transform="translate(407.2,339.3) rotate(-90)" font-size="9" text-anchor="middle" fill="#148c3c" stroke="#148c3c">EQE (%)</text>
<text transform="translate(281.1,333.6) rotate(-90)" font-size="8.4" text-anchor="middle" fill="#1a1a1a" stroke="#1a1a1a"><tspan font-style="italic">J</tspan> (mA cm<tspan font-size="5.4" dy="-3">-2</tspan><tspan dy="3">)</tspan></text>
<path d="M298.9 357.7L303.2 357.7L305.9 355L387 312.3" fill="none" stroke="#000" stroke-width="1.6" stroke-linejoin="round"/>
<path d="M298.9 368.1L307.2 368.1L316.7 322L332 316.2L346.5 312.6L357.3 311.7L368.1 314L377.1 318.9L383.4 325.2L386.6 332.4L387.5 338.7" fill="none" stroke="#148c3c" stroke-width="1.6" stroke-linejoin="round"/>
<path d="M387.9 308.1H298.9V368.1H387.9" fill="none" stroke="#111" stroke-width="1.1"/>
<line x1="387.9" y1="308.1" x2="387.9" y2="368.1" stroke="#148c3c" stroke-width="1.1"/>
<ellipse cx="331.1" cy="318" rx="3.0" ry="6.3" fill="none" stroke="#148c3c" stroke-width="0.75" stroke-dasharray="1.5 0.9"/>
<ellipse cx="335.3" cy="339.3" rx="3.0" ry="6.3" fill="none" stroke="#222" stroke-width="0.75" stroke-dasharray="1.5 0.9"/>
<path d="M334.7 318.6H347.4" stroke="#148c3c" stroke-width="0.6"/><path d="M347.4 318.6l-3 -1.5v3z" fill="#148c3c"/>
<path d="M332 333.9H322.1" stroke="#000" stroke-width="0.8"/><path d="M322.1 333.9l3 -1.5v3z" fill="#222"/>
<rect x="501.7" y="308.5" width="88.5" height="60.7" fill="#fff"/>
<line x1="501.7" y1="369.2" x2="503.9" y2="369.2" stroke="#000" stroke-width="0.8"/>
<line x1="501.7" y1="366.57" x2="502.9" y2="366.57" stroke="#000" stroke-width="0.8"/>
<line x1="501.7" y1="365.03" x2="502.9" y2="365.03" stroke="#000" stroke-width="0.8"/>
<line x1="501.7" y1="363.93" x2="502.9" y2="363.93" stroke="#000" stroke-width="0.8"/>
<line x1="501.7" y1="363.08" x2="502.9" y2="363.08" stroke="#000" stroke-width="0.8"/>
<line x1="501.7" y1="362.39" x2="502.9" y2="362.39" stroke="#000" stroke-width="0.8"/>
<line x1="501.7" y1="361.81" x2="502.9" y2="361.81" stroke="#000" stroke-width="0.8"/>
<line x1="501.7" y1="361.3" x2="502.9" y2="361.3" stroke="#000" stroke-width="0.8"/>
<line x1="501.7" y1="360.85" x2="502.9" y2="360.85" stroke="#000" stroke-width="0.8"/>
<line x1="501.7" y1="360.45" x2="503.9" y2="360.45" stroke="#000" stroke-width="0.8"/>
<line x1="501.7" y1="357.82" x2="502.9" y2="357.82" stroke="#000" stroke-width="0.8"/>
<line x1="501.7" y1="356.28" x2="502.9" y2="356.28" stroke="#000" stroke-width="0.8"/>
<line x1="501.7" y1="355.18" x2="502.9" y2="355.18" stroke="#000" stroke-width="0.8"/>
<line x1="501.7" y1="354.33" x2="502.9" y2="354.33" stroke="#000" stroke-width="0.8"/>
<line x1="501.7" y1="353.64" x2="502.9" y2="353.64" stroke="#000" stroke-width="0.8"/>
<line x1="501.7" y1="353.06" x2="502.9" y2="353.06" stroke="#000" stroke-width="0.8"/>
<line x1="501.7" y1="352.55" x2="502.9" y2="352.55" stroke="#000" stroke-width="0.8"/>
<line x1="501.7" y1="352.1" x2="502.9" y2="352.1" stroke="#000" stroke-width="0.8"/>
<line x1="501.7" y1="351.7" x2="503.9" y2="351.7" stroke="#000" stroke-width="0.8"/>
<line x1="501.7" y1="349.07" x2="502.9" y2="349.07" stroke="#000" stroke-width="0.8"/>
<line x1="501.7" y1="347.53" x2="502.9" y2="347.53" stroke="#000" stroke-width="0.8"/>
<line x1="501.7" y1="346.43" x2="502.9" y2="346.43" stroke="#000" stroke-width="0.8"/>
<line x1="501.7" y1="345.58" x2="502.9" y2="345.58" stroke="#000" stroke-width="0.8"/>
<line x1="501.7" y1="344.89" x2="502.9" y2="344.89" stroke="#000" stroke-width="0.8"/>
<line x1="501.7" y1="344.31" x2="502.9" y2="344.31" stroke="#000" stroke-width="0.8"/>
<line x1="501.7" y1="343.8" x2="502.9" y2="343.8" stroke="#000" stroke-width="0.8"/>
<line x1="501.7" y1="343.35" x2="502.9" y2="343.35" stroke="#000" stroke-width="0.8"/>
<line x1="501.7" y1="342.95" x2="503.9" y2="342.95" stroke="#000" stroke-width="0.8"/>
<line x1="501.7" y1="340.32" x2="502.9" y2="340.32" stroke="#000" stroke-width="0.8"/>
<line x1="501.7" y1="338.78" x2="502.9" y2="338.78" stroke="#000" stroke-width="0.8"/>
<line x1="501.7" y1="337.68" x2="502.9" y2="337.68" stroke="#000" stroke-width="0.8"/>
<line x1="501.7" y1="336.83" x2="502.9" y2="336.83" stroke="#000" stroke-width="0.8"/>
<line x1="501.7" y1="336.14" x2="502.9" y2="336.14" stroke="#000" stroke-width="0.8"/>
<line x1="501.7" y1="335.56" x2="502.9" y2="335.56" stroke="#000" stroke-width="0.8"/>
<line x1="501.7" y1="335.05" x2="502.9" y2="335.05" stroke="#000" stroke-width="0.8"/>
<line x1="501.7" y1="334.6" x2="502.9" y2="334.6" stroke="#000" stroke-width="0.8"/>
<line x1="501.7" y1="334.2" x2="503.9" y2="334.2" stroke="#000" stroke-width="0.8"/>
<line x1="501.7" y1="331.57" x2="502.9" y2="331.57" stroke="#000" stroke-width="0.8"/>
<line x1="501.7" y1="330.03" x2="502.9" y2="330.03" stroke="#000" stroke-width="0.8"/>
<line x1="501.7" y1="328.93" x2="502.9" y2="328.93" stroke="#000" stroke-width="0.8"/>
<line x1="501.7" y1="328.08" x2="502.9" y2="328.08" stroke="#000" stroke-width="0.8"/>
<line x1="501.7" y1="327.39" x2="502.9" y2="327.39" stroke="#000" stroke-width="0.8"/>
<line x1="501.7" y1="326.81" x2="502.9" y2="326.81" stroke="#000" stroke-width="0.8"/>
<line x1="501.7" y1="326.3" x2="502.9" y2="326.3" stroke="#000" stroke-width="0.8"/>
<line x1="501.7" y1="325.85" x2="502.9" y2="325.85" stroke="#000" stroke-width="0.8"/>
<line x1="501.7" y1="325.45" x2="503.9" y2="325.45" stroke="#000" stroke-width="0.8"/>
<line x1="501.7" y1="322.82" x2="502.9" y2="322.82" stroke="#000" stroke-width="0.8"/>
<line x1="501.7" y1="321.28" x2="502.9" y2="321.28" stroke="#000" stroke-width="0.8"/>
<line x1="501.7" y1="320.18" x2="502.9" y2="320.18" stroke="#000" stroke-width="0.8"/>
<line x1="501.7" y1="319.33" x2="502.9" y2="319.33" stroke="#000" stroke-width="0.8"/>
<line x1="501.7" y1="318.64" x2="502.9" y2="318.64" stroke="#000" stroke-width="0.8"/>
<line x1="501.7" y1="318.06" x2="502.9" y2="318.06" stroke="#000" stroke-width="0.8"/>
<line x1="501.7" y1="317.55" x2="502.9" y2="317.55" stroke="#000" stroke-width="0.8"/>
<line x1="501.7" y1="317.1" x2="502.9" y2="317.1" stroke="#000" stroke-width="0.8"/>
<line x1="501.7" y1="316.7" x2="503.9" y2="316.7" stroke="#000" stroke-width="0.8"/>
<line x1="501.7" y1="314.07" x2="502.9" y2="314.07" stroke="#000" stroke-width="0.8"/>
<line x1="501.7" y1="312.53" x2="502.9" y2="312.53" stroke="#000" stroke-width="0.8"/>
<line x1="501.7" y1="311.43" x2="502.9" y2="311.43" stroke="#000" stroke-width="0.8"/>
<line x1="501.7" y1="310.58" x2="502.9" y2="310.58" stroke="#000" stroke-width="0.8"/>
<line x1="501.7" y1="309.89" x2="502.9" y2="309.89" stroke="#000" stroke-width="0.8"/>
<line x1="501.7" y1="309.31" x2="502.9" y2="309.31" stroke="#000" stroke-width="0.8"/>
<line x1="501.7" y1="308.8" x2="502.9" y2="308.8" stroke="#000" stroke-width="0.8"/>
<text x="496.3" y="319.62" font-size="8.1" text-anchor="end" fill="#1a1a1a"  stroke="#1a1a1a">10</text>
<text x="496.4" y="315.4" font-size="5.8" text-anchor="start" fill="#1a1a1a"  stroke="#1a1a1a">3</text>
<text x="496.3" y="337.12" font-size="8.1" text-anchor="end" fill="#1a1a1a"  stroke="#1a1a1a">10</text>
<text x="496.4" y="332.9" font-size="5.8" text-anchor="start" fill="#1a1a1a"  stroke="#1a1a1a">1</text>
<text x="496.3" y="354.62" font-size="8.1" text-anchor="end" fill="#1a1a1a"  stroke="#1a1a1a">10</text>
<text x="496.4" y="350.4" font-size="5.8" text-anchor="start" fill="#1a1a1a"  stroke="#1a1a1a">-1</text>
<text x="496.3" y="372.12" font-size="8.1" text-anchor="end" fill="#1a1a1a"  stroke="#1a1a1a">10</text>
<text x="496.4" y="367.9" font-size="5.8" text-anchor="start" fill="#1a1a1a"  stroke="#1a1a1a">-3</text>
<line x1="503.77" y1="308.5" x2="503.77" y2="309.7" stroke="#000" stroke-width="0.8"/>
<line x1="507.56" y1="308.5" x2="507.56" y2="309.7" stroke="#000" stroke-width="0.8"/>
<line x1="510.24" y1="308.5" x2="510.24" y2="309.7" stroke="#000" stroke-width="0.8"/>
<line x1="512.33" y1="308.5" x2="512.33" y2="309.7" stroke="#000" stroke-width="0.8"/>
<line x1="514.03" y1="308.5" x2="514.03" y2="309.7" stroke="#000" stroke-width="0.8"/>
<line x1="515.47" y1="308.5" x2="515.47" y2="309.7" stroke="#000" stroke-width="0.8"/>
<line x1="516.72" y1="308.5" x2="516.72" y2="309.7" stroke="#000" stroke-width="0.8"/>
<line x1="517.82" y1="308.5" x2="517.82" y2="309.7" stroke="#000" stroke-width="0.8"/>
<line x1="518.8" y1="308.5" x2="518.8" y2="310.7" stroke="#000" stroke-width="0.8"/>
<line x1="525.27" y1="308.5" x2="525.27" y2="309.7" stroke="#000" stroke-width="0.8"/>
<line x1="529.06" y1="308.5" x2="529.06" y2="309.7" stroke="#000" stroke-width="0.8"/>
<line x1="531.74" y1="308.5" x2="531.74" y2="309.7" stroke="#000" stroke-width="0.8"/>
<line x1="533.83" y1="308.5" x2="533.83" y2="309.7" stroke="#000" stroke-width="0.8"/>
<line x1="535.53" y1="308.5" x2="535.53" y2="309.7" stroke="#000" stroke-width="0.8"/>
<line x1="536.97" y1="308.5" x2="536.97" y2="309.7" stroke="#000" stroke-width="0.8"/>
<line x1="538.22" y1="308.5" x2="538.22" y2="309.7" stroke="#000" stroke-width="0.8"/>
<line x1="539.32" y1="308.5" x2="539.32" y2="309.7" stroke="#000" stroke-width="0.8"/>
<line x1="540.3" y1="308.5" x2="540.3" y2="310.7" stroke="#000" stroke-width="0.8"/>
<line x1="546.77" y1="308.5" x2="546.77" y2="309.7" stroke="#000" stroke-width="0.8"/>
<line x1="550.56" y1="308.5" x2="550.56" y2="309.7" stroke="#000" stroke-width="0.8"/>
<line x1="553.24" y1="308.5" x2="553.24" y2="309.7" stroke="#000" stroke-width="0.8"/>
<line x1="555.33" y1="308.5" x2="555.33" y2="309.7" stroke="#000" stroke-width="0.8"/>
<line x1="557.03" y1="308.5" x2="557.03" y2="309.7" stroke="#000" stroke-width="0.8"/>
<line x1="558.47" y1="308.5" x2="558.47" y2="309.7" stroke="#000" stroke-width="0.8"/>
<line x1="559.72" y1="308.5" x2="559.72" y2="309.7" stroke="#000" stroke-width="0.8"/>
<line x1="560.82" y1="308.5" x2="560.82" y2="309.7" stroke="#000" stroke-width="0.8"/>
<line x1="561.8" y1="308.5" x2="561.8" y2="310.7" stroke="#000" stroke-width="0.8"/>
<line x1="568.27" y1="308.5" x2="568.27" y2="309.7" stroke="#000" stroke-width="0.8"/>
<line x1="572.06" y1="308.5" x2="572.06" y2="309.7" stroke="#000" stroke-width="0.8"/>
<line x1="574.74" y1="308.5" x2="574.74" y2="309.7" stroke="#000" stroke-width="0.8"/>
<line x1="576.83" y1="308.5" x2="576.83" y2="309.7" stroke="#000" stroke-width="0.8"/>
<line x1="578.53" y1="308.5" x2="578.53" y2="309.7" stroke="#000" stroke-width="0.8"/>
<line x1="579.97" y1="308.5" x2="579.97" y2="309.7" stroke="#000" stroke-width="0.8"/>
<line x1="581.22" y1="308.5" x2="581.22" y2="309.7" stroke="#000" stroke-width="0.8"/>
<line x1="582.32" y1="308.5" x2="582.32" y2="309.7" stroke="#000" stroke-width="0.8"/>
<line x1="583.3" y1="308.5" x2="583.3" y2="310.7" stroke="#000" stroke-width="0.8"/>
<line x1="589.77" y1="308.5" x2="589.77" y2="309.7" stroke="#000" stroke-width="0.8"/>
<text x="497.3" y="306.62" font-size="8.4" text-anchor="middle" fill="#1a1a1a"  stroke="#1a1a1a">10</text>
<text x="502" y="304.4" font-size="5.8" text-anchor="start" fill="#1a1a1a"  stroke="#1a1a1a">1</text>
<text x="540.3" y="306.62" font-size="8.4" text-anchor="middle" fill="#1a1a1a"  stroke="#1a1a1a">10</text>
<text x="545" y="304.4" font-size="5.8" text-anchor="start" fill="#1a1a1a"  stroke="#1a1a1a">3</text>
<text x="580.5" y="306.62" font-size="8.4" text-anchor="middle" fill="#1a1a1a"  stroke="#1a1a1a">10</text>
<text x="585.2" y="304.4" font-size="5.8" text-anchor="start" fill="#1a1a1a"  stroke="#1a1a1a">5</text>
<line x1="501.7" y1="369.2" x2="501.7" y2="368" stroke="#000" stroke-width="0.8"/>
<line x1="504" y1="369.2" x2="504" y2="368" stroke="#000" stroke-width="0.8"/>
<line x1="506.3" y1="369.2" x2="506.3" y2="368" stroke="#000" stroke-width="0.8"/>
<line x1="508.6" y1="369.2" x2="508.6" y2="368" stroke="#000" stroke-width="0.8"/>
<line x1="510.9" y1="369.2" x2="510.9" y2="368" stroke="#000" stroke-width="0.8"/>
<line x1="513.2" y1="369.2" x2="513.2" y2="368" stroke="#000" stroke-width="0.8"/>
<line x1="515.5" y1="369.2" x2="515.5" y2="368" stroke="#000" stroke-width="0.8"/>
<line x1="517.8" y1="369.2" x2="517.8" y2="368" stroke="#000" stroke-width="0.8"/>
<line x1="520.1" y1="369.2" x2="520.1" y2="368" stroke="#000" stroke-width="0.8"/>
<line x1="522.4" y1="369.2" x2="522.4" y2="368" stroke="#000" stroke-width="0.8"/>
<line x1="524.7" y1="369.2" x2="524.7" y2="368" stroke="#000" stroke-width="0.8"/>
<line x1="527" y1="369.2" x2="527" y2="368" stroke="#000" stroke-width="0.8"/>
<line x1="529.3" y1="369.2" x2="529.3" y2="368" stroke="#000" stroke-width="0.8"/>
<line x1="531.6" y1="369.2" x2="531.6" y2="368" stroke="#000" stroke-width="0.8"/>
<line x1="533.9" y1="369.2" x2="533.9" y2="368" stroke="#000" stroke-width="0.8"/>
<line x1="536.2" y1="369.2" x2="536.2" y2="368" stroke="#000" stroke-width="0.8"/>
<line x1="538.5" y1="369.2" x2="538.5" y2="368" stroke="#000" stroke-width="0.8"/>
<line x1="540.8" y1="369.2" x2="540.8" y2="368" stroke="#000" stroke-width="0.8"/>
<line x1="543.1" y1="369.2" x2="543.1" y2="368" stroke="#000" stroke-width="0.8"/>
<line x1="545.4" y1="369.2" x2="545.4" y2="368" stroke="#000" stroke-width="0.8"/>
<line x1="547.7" y1="369.2" x2="547.7" y2="368" stroke="#000" stroke-width="0.8"/>
<line x1="550" y1="369.2" x2="550" y2="368" stroke="#000" stroke-width="0.8"/>
<line x1="552.3" y1="369.2" x2="552.3" y2="368" stroke="#000" stroke-width="0.8"/>
<line x1="554.6" y1="369.2" x2="554.6" y2="368" stroke="#000" stroke-width="0.8"/>
<line x1="556.9" y1="369.2" x2="556.9" y2="368" stroke="#000" stroke-width="0.8"/>
<line x1="559.2" y1="369.2" x2="559.2" y2="368" stroke="#000" stroke-width="0.8"/>
<line x1="561.5" y1="369.2" x2="561.5" y2="368" stroke="#000" stroke-width="0.8"/>
<line x1="563.8" y1="369.2" x2="563.8" y2="368" stroke="#000" stroke-width="0.8"/>
<line x1="566.1" y1="369.2" x2="566.1" y2="368" stroke="#000" stroke-width="0.8"/>
<line x1="568.4" y1="369.2" x2="568.4" y2="368" stroke="#000" stroke-width="0.8"/>
<line x1="570.7" y1="369.2" x2="570.7" y2="368" stroke="#000" stroke-width="0.8"/>
<line x1="573" y1="369.2" x2="573" y2="368" stroke="#000" stroke-width="0.8"/>
<line x1="575.3" y1="369.2" x2="575.3" y2="368" stroke="#000" stroke-width="0.8"/>
<line x1="577.6" y1="369.2" x2="577.6" y2="368" stroke="#000" stroke-width="0.8"/>
<line x1="579.9" y1="369.2" x2="579.9" y2="368" stroke="#000" stroke-width="0.8"/>
<line x1="582.2" y1="369.2" x2="582.2" y2="368" stroke="#000" stroke-width="0.8"/>
<line x1="584.5" y1="369.2" x2="584.5" y2="368" stroke="#000" stroke-width="0.8"/>
<line x1="586.8" y1="369.2" x2="586.8" y2="368" stroke="#000" stroke-width="0.8"/>
<line x1="589.1" y1="369.2" x2="589.1" y2="368" stroke="#000" stroke-width="0.8"/>
<text x="528.6" y="297" font-size="8.4" fill="#1a1a1a" stroke="#1a1a1a"><tspan font-style="italic">L</tspan> (cd m<tspan font-size="5.4" dy="-3">-2</tspan><tspan dy="3">)</tspan></text>
<text x="591.4" y="325.49" font-size="8.3" text-anchor="start" fill="#1a70c4"  stroke="#1a70c4">15</text>
<text x="591.4" y="341.39" font-size="8.3" text-anchor="start" fill="#1a70c4"  stroke="#1a70c4">10</text>
<text x="591.4" y="357.39" font-size="8.3" text-anchor="start" fill="#1a70c4"  stroke="#1a70c4">5</text>
<text x="591.4" y="370.59" font-size="8.3" text-anchor="start" fill="#1a70c4"  stroke="#1a70c4">0</text>
<line x1="590.2" y1="369.2" x2="588" y2="369.2" stroke="#1a70c4" stroke-width="0.6"/>
<line x1="590.2" y1="361.21" x2="589" y2="361.21" stroke="#1a70c4" stroke-width="0.6"/>
<line x1="590.2" y1="353.23" x2="588" y2="353.23" stroke="#1a70c4" stroke-width="0.6"/>
<line x1="590.2" y1="345.24" x2="589" y2="345.24" stroke="#1a70c4" stroke-width="0.6"/>
<line x1="590.2" y1="337.25" x2="588" y2="337.25" stroke="#1a70c4" stroke-width="0.6"/>
<line x1="590.2" y1="329.27" x2="589" y2="329.27" stroke="#1a70c4" stroke-width="0.6"/>
<line x1="590.2" y1="321.28" x2="588" y2="321.28" stroke="#1a70c4" stroke-width="0.6"/>
<line x1="590.2" y1="313.29" x2="589" y2="313.29" stroke="#1a70c4" stroke-width="0.6"/>
<text transform="translate(610.7,337.3) rotate(-90)" font-size="9" text-anchor="middle" fill="#1a70c4" stroke="#1a70c4">EQE (%)</text>
<text transform="translate(482.6,333.6) rotate(-90)" font-size="8.4" text-anchor="middle" fill="#1a1a1a" stroke="#1a1a1a"><tspan font-style="italic">J</tspan> (mA cm<tspan font-size="5.4" dy="-3">-2</tspan><tspan dy="3">)</tspan></text>
<path d="M501.7 348.6L510.6 348.6L516 347.2L523.2 344.1L529.5 339.6L535.8 336.9L552.1 330.6L570.1 322.5L588.1 313" fill="none" stroke="#000" stroke-width="1.6" stroke-linejoin="round"/>
<path d="M502.5 368.5L506.1 361.3L508.8 351.4L511.5 341.4L516 334.2L523.2 329.7L531.3 325.2L539.4 319.8L548.5 315.9L555.7 314.4L562.9 315.3L570.1 318L577.3 323.4L583.6 330.6L588.1 338.7" fill="none" stroke="#1a70c4" stroke-width="1.6" stroke-linejoin="round"/>
<path d="M590.2 308.5H501.7V369.2H590.2" fill="none" stroke="#111" stroke-width="1.1"/>
<line x1="590.2" y1="308.5" x2="590.2" y2="369.2" stroke="#1a70c4" stroke-width="1.1"/>
<ellipse cx="530.4" cy="325.2" rx="3.8" ry="6.3" fill="none" stroke="#1a70c4" stroke-width="0.75" stroke-dasharray="1.5 0.9"/>
<ellipse cx="520" cy="346.5" rx="3.0" ry="6.3" fill="none" stroke="#222" stroke-width="0.75" stroke-dasharray="1.5 0.9"/>
<path d="M534 322H545.2" stroke="#1a70c4" stroke-width="0.6"/><path d="M545.2 322l-3 -1.5v3z" fill="#1a70c4"/>
<path d="M517.8 341.4H507" stroke="#000" stroke-width="0.8"/><path d="M507 341.4l3 -1.5v3z" fill="#222"/>
</svg>
</body></html>
